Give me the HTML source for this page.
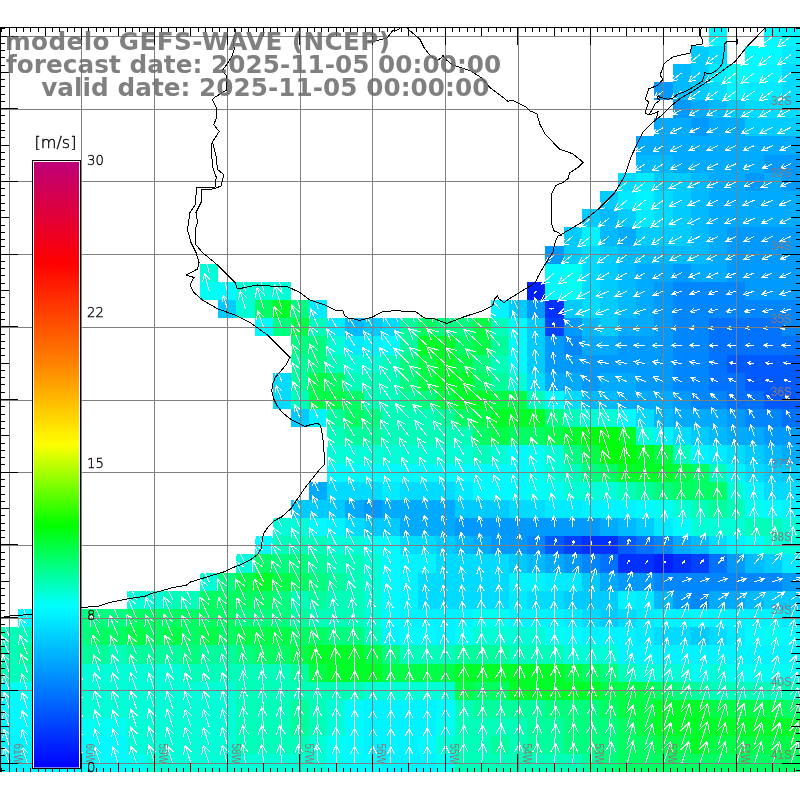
<!DOCTYPE html>
<html><head><meta charset="utf-8"><style>
html,body{margin:0;padding:0;background:#fff;width:800px;height:800px;overflow:hidden}
</style></head><body>
<svg width="800" height="800" viewBox="0 0 800 800" style="position:absolute;left:0;top:0"><g shape-rendering="crispEdges"><rect x="708.99" y="27.41" width="18.22" height="18.23" fill="#00f3ff"/><rect x="763.51" y="27.41" width="18.22" height="18.23" fill="#00faff"/><rect x="781.69" y="27.41" width="18.22" height="18.23" fill="#00f3ff"/><rect x="690.81" y="45.59" width="18.22" height="18.22" fill="#00cbff"/><rect x="708.99" y="45.59" width="18.22" height="18.22" fill="#00dbff"/><rect x="745.34" y="45.59" width="18.22" height="18.22" fill="#00faff"/><rect x="763.51" y="45.59" width="18.22" height="18.22" fill="#00faff"/><rect x="781.69" y="45.59" width="18.22" height="18.22" fill="#00ebff"/><rect x="672.64" y="63.76" width="18.22" height="18.22" fill="#00baff"/><rect x="690.81" y="63.76" width="18.22" height="18.22" fill="#00cbff"/><rect x="708.99" y="63.76" width="18.22" height="18.22" fill="#00ebff"/><rect x="727.16" y="63.76" width="18.22" height="18.22" fill="#00fff3"/><rect x="745.34" y="63.76" width="18.22" height="18.22" fill="#00faff"/><rect x="763.51" y="63.76" width="18.22" height="18.22" fill="#00f3ff"/><rect x="781.69" y="63.76" width="18.22" height="18.22" fill="#00dbff"/><rect x="654.46" y="81.94" width="18.22" height="18.22" fill="#009aff"/><rect x="672.64" y="81.94" width="18.22" height="18.22" fill="#00baff"/><rect x="690.81" y="81.94" width="18.22" height="18.22" fill="#00cbff"/><rect x="708.99" y="81.94" width="18.22" height="18.22" fill="#00dbff"/><rect x="727.16" y="81.94" width="18.22" height="18.22" fill="#00f3ff"/><rect x="745.34" y="81.94" width="18.22" height="18.22" fill="#00ebff"/><rect x="763.51" y="81.94" width="18.22" height="18.22" fill="#00ebff"/><rect x="781.69" y="81.94" width="18.22" height="18.22" fill="#00dbff"/><rect x="672.64" y="100.11" width="18.22" height="18.22" fill="#009aff"/><rect x="690.81" y="100.11" width="18.22" height="18.22" fill="#00aaff"/><rect x="708.99" y="100.11" width="18.22" height="18.22" fill="#00baff"/><rect x="727.16" y="100.11" width="18.22" height="18.22" fill="#00cbff"/><rect x="745.34" y="100.11" width="18.22" height="18.22" fill="#00dbff"/><rect x="763.51" y="100.11" width="18.22" height="18.22" fill="#00dbff"/><rect x="781.69" y="100.11" width="18.22" height="18.22" fill="#00dbff"/><rect x="654.46" y="118.29" width="18.22" height="18.23" fill="#00aaff"/><rect x="672.64" y="118.29" width="18.22" height="18.23" fill="#00aaff"/><rect x="690.81" y="118.29" width="18.22" height="18.23" fill="#009aff"/><rect x="708.99" y="118.29" width="18.22" height="18.23" fill="#00aaff"/><rect x="727.16" y="118.29" width="18.22" height="18.23" fill="#00aaff"/><rect x="745.34" y="118.29" width="18.22" height="18.23" fill="#00cbff"/><rect x="763.51" y="118.29" width="18.22" height="18.23" fill="#00cbff"/><rect x="781.69" y="118.29" width="18.22" height="18.23" fill="#00cbff"/><rect x="636.29" y="136.46" width="18.22" height="18.23" fill="#00aaff"/><rect x="654.46" y="136.46" width="18.22" height="18.23" fill="#00aaff"/><rect x="672.64" y="136.46" width="18.22" height="18.23" fill="#00aaff"/><rect x="690.81" y="136.46" width="18.22" height="18.23" fill="#00aaff"/><rect x="708.99" y="136.46" width="18.22" height="18.23" fill="#00aaff"/><rect x="727.16" y="136.46" width="18.22" height="18.23" fill="#00aaff"/><rect x="745.34" y="136.46" width="18.22" height="18.23" fill="#00aaff"/><rect x="763.51" y="136.46" width="18.22" height="18.23" fill="#00aaff"/><rect x="781.69" y="136.46" width="18.22" height="18.23" fill="#00aaff"/><rect x="636.29" y="154.64" width="18.22" height="18.23" fill="#00baff"/><rect x="654.46" y="154.64" width="18.22" height="18.23" fill="#00baff"/><rect x="672.64" y="154.64" width="18.22" height="18.23" fill="#00aaff"/><rect x="690.81" y="154.64" width="18.22" height="18.23" fill="#00aaff"/><rect x="708.99" y="154.64" width="18.22" height="18.23" fill="#00aaff"/><rect x="727.16" y="154.64" width="18.22" height="18.23" fill="#00aaff"/><rect x="745.34" y="154.64" width="18.22" height="18.23" fill="#00aaff"/><rect x="763.51" y="154.64" width="18.22" height="18.23" fill="#009aff"/><rect x="781.69" y="154.64" width="18.22" height="18.23" fill="#009aff"/><rect x="618.11" y="172.81" width="18.22" height="18.23" fill="#00dbff"/><rect x="636.29" y="172.81" width="18.22" height="18.23" fill="#00ebff"/><rect x="654.46" y="172.81" width="18.22" height="18.23" fill="#00cbff"/><rect x="672.64" y="172.81" width="18.22" height="18.23" fill="#00cbff"/><rect x="690.81" y="172.81" width="18.22" height="18.23" fill="#00baff"/><rect x="708.99" y="172.81" width="18.22" height="18.23" fill="#00aaff"/><rect x="727.16" y="172.81" width="18.22" height="18.23" fill="#00aaff"/><rect x="745.34" y="172.81" width="18.22" height="18.23" fill="#009aff"/><rect x="763.51" y="172.81" width="18.22" height="18.23" fill="#00aaff"/><rect x="781.69" y="172.81" width="18.22" height="18.23" fill="#009aff"/><rect x="599.94" y="190.99" width="18.22" height="18.23" fill="#00cbff"/><rect x="618.11" y="190.99" width="18.22" height="18.23" fill="#00ebff"/><rect x="636.29" y="190.99" width="18.22" height="18.23" fill="#00f3ff"/><rect x="654.46" y="190.99" width="18.22" height="18.23" fill="#00dbff"/><rect x="672.64" y="190.99" width="18.22" height="18.23" fill="#00cbff"/><rect x="690.81" y="190.99" width="18.22" height="18.23" fill="#00baff"/><rect x="708.99" y="190.99" width="18.22" height="18.23" fill="#00aaff"/><rect x="727.16" y="190.99" width="18.22" height="18.23" fill="#00aaff"/><rect x="745.34" y="190.99" width="18.22" height="18.23" fill="#00aaff"/><rect x="763.51" y="190.99" width="18.22" height="18.23" fill="#00aaff"/><rect x="781.69" y="190.99" width="18.22" height="18.23" fill="#00aaff"/><rect x="581.76" y="209.16" width="18.22" height="18.23" fill="#00cbff"/><rect x="599.94" y="209.16" width="18.22" height="18.23" fill="#00baff"/><rect x="618.11" y="209.16" width="18.22" height="18.23" fill="#00cbff"/><rect x="636.29" y="209.16" width="18.22" height="18.23" fill="#00ebff"/><rect x="654.46" y="209.16" width="18.22" height="18.23" fill="#00dbff"/><rect x="672.64" y="209.16" width="18.22" height="18.23" fill="#00cbff"/><rect x="690.81" y="209.16" width="18.22" height="18.23" fill="#00baff"/><rect x="708.99" y="209.16" width="18.22" height="18.23" fill="#00aaff"/><rect x="727.16" y="209.16" width="18.22" height="18.23" fill="#00aaff"/><rect x="745.34" y="209.16" width="18.22" height="18.23" fill="#00aaff"/><rect x="763.51" y="209.16" width="18.22" height="18.23" fill="#00aaff"/><rect x="781.69" y="209.16" width="18.22" height="18.23" fill="#00aaff"/><rect x="563.59" y="227.34" width="18.22" height="18.23" fill="#00cbff"/><rect x="581.76" y="227.34" width="18.22" height="18.23" fill="#00f3ff"/><rect x="599.94" y="227.34" width="18.22" height="18.23" fill="#00baff"/><rect x="618.11" y="227.34" width="18.22" height="18.23" fill="#00aaff"/><rect x="636.29" y="227.34" width="18.22" height="18.23" fill="#00cbff"/><rect x="654.46" y="227.34" width="18.22" height="18.23" fill="#00cbff"/><rect x="672.64" y="227.34" width="18.22" height="18.23" fill="#00cbff"/><rect x="690.81" y="227.34" width="18.22" height="18.23" fill="#00baff"/><rect x="708.99" y="227.34" width="18.22" height="18.23" fill="#00aaff"/><rect x="727.16" y="227.34" width="18.22" height="18.23" fill="#009aff"/><rect x="745.34" y="227.34" width="18.22" height="18.23" fill="#009aff"/><rect x="763.51" y="227.34" width="18.22" height="18.23" fill="#009aff"/><rect x="781.69" y="227.34" width="18.22" height="18.23" fill="#009aff"/><rect x="545.41" y="245.51" width="18.22" height="18.22" fill="#009aff"/><rect x="563.59" y="245.51" width="18.22" height="18.22" fill="#00cbff"/><rect x="581.76" y="245.51" width="18.22" height="18.22" fill="#00dbff"/><rect x="599.94" y="245.51" width="18.22" height="18.22" fill="#00cbff"/><rect x="618.11" y="245.51" width="18.22" height="18.22" fill="#00baff"/><rect x="636.29" y="245.51" width="18.22" height="18.22" fill="#00baff"/><rect x="654.46" y="245.51" width="18.22" height="18.22" fill="#00baff"/><rect x="672.64" y="245.51" width="18.22" height="18.22" fill="#00baff"/><rect x="690.81" y="245.51" width="18.22" height="18.22" fill="#00baff"/><rect x="708.99" y="245.51" width="18.22" height="18.22" fill="#00aaff"/><rect x="727.16" y="245.51" width="18.22" height="18.22" fill="#009aff"/><rect x="745.34" y="245.51" width="18.22" height="18.22" fill="#009aff"/><rect x="763.51" y="245.51" width="18.22" height="18.22" fill="#009aff"/><rect x="781.69" y="245.51" width="18.22" height="18.22" fill="#009aff"/><rect x="200.09" y="263.69" width="18.23" height="18.23" fill="#00ffd6"/><rect x="545.41" y="263.69" width="18.22" height="18.23" fill="#00faff"/><rect x="563.59" y="263.69" width="18.22" height="18.23" fill="#00fff3"/><rect x="581.76" y="263.69" width="18.22" height="18.23" fill="#00dbff"/><rect x="599.94" y="263.69" width="18.22" height="18.23" fill="#00cbff"/><rect x="618.11" y="263.69" width="18.22" height="18.23" fill="#00baff"/><rect x="636.29" y="263.69" width="18.22" height="18.23" fill="#00aaff"/><rect x="654.46" y="263.69" width="18.22" height="18.23" fill="#00aaff"/><rect x="672.64" y="263.69" width="18.22" height="18.23" fill="#009aff"/><rect x="690.81" y="263.69" width="18.22" height="18.23" fill="#00aaff"/><rect x="708.99" y="263.69" width="18.22" height="18.23" fill="#00aaff"/><rect x="727.16" y="263.69" width="18.22" height="18.23" fill="#009aff"/><rect x="745.34" y="263.69" width="18.22" height="18.23" fill="#009aff"/><rect x="763.51" y="263.69" width="18.22" height="18.23" fill="#009aff"/><rect x="781.69" y="263.69" width="18.22" height="18.23" fill="#009aff"/><rect x="200.09" y="281.86" width="18.23" height="18.23" fill="#00fff3"/><rect x="218.26" y="281.86" width="18.23" height="18.23" fill="#00faff"/><rect x="236.44" y="281.86" width="18.23" height="18.23" fill="#00ffd6"/><rect x="254.61" y="281.86" width="18.23" height="18.23" fill="#00ffd6"/><rect x="272.79" y="281.86" width="18.23" height="18.23" fill="#00ffd6"/><rect x="527.24" y="281.86" width="18.22" height="18.23" fill="#0021ff"/><rect x="545.41" y="281.86" width="18.22" height="18.23" fill="#00faff"/><rect x="563.59" y="281.86" width="18.22" height="18.23" fill="#00fff3"/><rect x="581.76" y="281.86" width="18.22" height="18.23" fill="#00dbff"/><rect x="599.94" y="281.86" width="18.22" height="18.23" fill="#00cbff"/><rect x="618.11" y="281.86" width="18.22" height="18.23" fill="#00baff"/><rect x="636.29" y="281.86" width="18.22" height="18.23" fill="#00aaff"/><rect x="654.46" y="281.86" width="18.22" height="18.23" fill="#009aff"/><rect x="672.64" y="281.86" width="18.22" height="18.23" fill="#0086ff"/><rect x="690.81" y="281.86" width="18.22" height="18.23" fill="#0086ff"/><rect x="708.99" y="281.86" width="18.22" height="18.23" fill="#0086ff"/><rect x="727.16" y="281.86" width="18.22" height="18.23" fill="#0086ff"/><rect x="745.34" y="281.86" width="18.22" height="18.23" fill="#009aff"/><rect x="763.51" y="281.86" width="18.22" height="18.23" fill="#009aff"/><rect x="781.69" y="281.86" width="18.22" height="18.23" fill="#009aff"/><rect x="218.26" y="300.04" width="18.23" height="18.23" fill="#00cbff"/><rect x="236.44" y="300.04" width="18.23" height="18.23" fill="#00ffd6"/><rect x="254.61" y="300.04" width="18.23" height="18.23" fill="#00ff63"/><rect x="272.79" y="300.04" width="18.23" height="18.23" fill="#00ff29"/><rect x="290.96" y="300.04" width="18.23" height="18.23" fill="#00ff7f"/><rect x="309.14" y="300.04" width="18.23" height="18.23" fill="#00ebff"/><rect x="490.89" y="300.04" width="18.23" height="18.23" fill="#00f3ff"/><rect x="509.06" y="300.04" width="18.23" height="18.23" fill="#00cbff"/><rect x="527.24" y="300.04" width="18.22" height="18.23" fill="#009aff"/><rect x="545.41" y="300.04" width="18.22" height="18.23" fill="#0031ff"/><rect x="563.59" y="300.04" width="18.22" height="18.23" fill="#00cbff"/><rect x="581.76" y="300.04" width="18.22" height="18.23" fill="#00dbff"/><rect x="599.94" y="300.04" width="18.22" height="18.23" fill="#00cbff"/><rect x="618.11" y="300.04" width="18.22" height="18.23" fill="#00baff"/><rect x="636.29" y="300.04" width="18.22" height="18.23" fill="#00aaff"/><rect x="654.46" y="300.04" width="18.22" height="18.23" fill="#009aff"/><rect x="672.64" y="300.04" width="18.22" height="18.23" fill="#0086ff"/><rect x="690.81" y="300.04" width="18.22" height="18.23" fill="#0086ff"/><rect x="708.99" y="300.04" width="18.22" height="18.23" fill="#0086ff"/><rect x="727.16" y="300.04" width="18.22" height="18.23" fill="#0086ff"/><rect x="745.34" y="300.04" width="18.22" height="18.23" fill="#0086ff"/><rect x="763.51" y="300.04" width="18.22" height="18.23" fill="#0086ff"/><rect x="781.69" y="300.04" width="18.22" height="18.23" fill="#0086ff"/><rect x="254.61" y="318.21" width="18.23" height="18.23" fill="#00faff"/><rect x="272.79" y="318.21" width="18.23" height="18.23" fill="#00ff7f"/><rect x="290.96" y="318.21" width="18.23" height="18.23" fill="#00ff46"/><rect x="309.14" y="318.21" width="18.23" height="18.23" fill="#00ffb9"/><rect x="327.31" y="318.21" width="18.23" height="18.23" fill="#00ebff"/><rect x="345.49" y="318.21" width="18.23" height="18.23" fill="#00baff"/><rect x="363.66" y="318.21" width="18.23" height="18.23" fill="#00cbff"/><rect x="381.84" y="318.21" width="18.23" height="18.23" fill="#00dbff"/><rect x="400.01" y="318.21" width="18.23" height="18.23" fill="#00ff9c"/><rect x="418.19" y="318.21" width="18.23" height="18.23" fill="#00ff63"/><rect x="436.36" y="318.21" width="18.23" height="18.23" fill="#00ff7f"/><rect x="454.54" y="318.21" width="18.23" height="18.23" fill="#00ff7f"/><rect x="472.71" y="318.21" width="18.23" height="18.23" fill="#00ff46"/><rect x="490.89" y="318.21" width="18.23" height="18.23" fill="#00ffb9"/><rect x="509.06" y="318.21" width="18.23" height="18.23" fill="#00faff"/><rect x="527.24" y="318.21" width="18.22" height="18.23" fill="#00cbff"/><rect x="545.41" y="318.21" width="18.22" height="18.23" fill="#0041ff"/><rect x="563.59" y="318.21" width="18.22" height="18.23" fill="#009aff"/><rect x="581.76" y="318.21" width="18.22" height="18.23" fill="#00baff"/><rect x="599.94" y="318.21" width="18.22" height="18.23" fill="#00cbff"/><rect x="618.11" y="318.21" width="18.22" height="18.23" fill="#00aaff"/><rect x="636.29" y="318.21" width="18.22" height="18.23" fill="#00aaff"/><rect x="654.46" y="318.21" width="18.22" height="18.23" fill="#009aff"/><rect x="672.64" y="318.21" width="18.22" height="18.23" fill="#0086ff"/><rect x="690.81" y="318.21" width="18.22" height="18.23" fill="#0086ff"/><rect x="708.99" y="318.21" width="18.22" height="18.23" fill="#0072ff"/><rect x="727.16" y="318.21" width="18.22" height="18.23" fill="#0072ff"/><rect x="745.34" y="318.21" width="18.22" height="18.23" fill="#0072ff"/><rect x="763.51" y="318.21" width="18.22" height="18.23" fill="#0072ff"/><rect x="781.69" y="318.21" width="18.22" height="18.23" fill="#0086ff"/><rect x="290.96" y="336.39" width="18.23" height="18.23" fill="#00ff7f"/><rect x="309.14" y="336.39" width="18.23" height="18.23" fill="#00ff7f"/><rect x="327.31" y="336.39" width="18.23" height="18.23" fill="#00ffd6"/><rect x="345.49" y="336.39" width="18.23" height="18.23" fill="#00ebff"/><rect x="363.66" y="336.39" width="18.23" height="18.23" fill="#00f3ff"/><rect x="381.84" y="336.39" width="18.23" height="18.23" fill="#00faff"/><rect x="400.01" y="336.39" width="18.23" height="18.23" fill="#00ff9c"/><rect x="418.19" y="336.39" width="18.23" height="18.23" fill="#00ff29"/><rect x="436.36" y="336.39" width="18.23" height="18.23" fill="#00ff29"/><rect x="454.54" y="336.39" width="18.23" height="18.23" fill="#00ff63"/><rect x="472.71" y="336.39" width="18.23" height="18.23" fill="#00ff46"/><rect x="490.89" y="336.39" width="18.23" height="18.23" fill="#00ff9c"/><rect x="509.06" y="336.39" width="18.23" height="18.23" fill="#00faff"/><rect x="527.24" y="336.39" width="18.22" height="18.23" fill="#00cbff"/><rect x="545.41" y="336.39" width="18.22" height="18.23" fill="#009aff"/><rect x="563.59" y="336.39" width="18.22" height="18.23" fill="#0086ff"/><rect x="581.76" y="336.39" width="18.22" height="18.23" fill="#00aaff"/><rect x="599.94" y="336.39" width="18.22" height="18.23" fill="#00aaff"/><rect x="618.11" y="336.39" width="18.22" height="18.23" fill="#009aff"/><rect x="636.29" y="336.39" width="18.22" height="18.23" fill="#009aff"/><rect x="654.46" y="336.39" width="18.22" height="18.23" fill="#009aff"/><rect x="672.64" y="336.39" width="18.22" height="18.23" fill="#0086ff"/><rect x="690.81" y="336.39" width="18.22" height="18.23" fill="#0086ff"/><rect x="708.99" y="336.39" width="18.22" height="18.23" fill="#0072ff"/><rect x="727.16" y="336.39" width="18.22" height="18.23" fill="#0072ff"/><rect x="745.34" y="336.39" width="18.22" height="18.23" fill="#0072ff"/><rect x="763.51" y="336.39" width="18.22" height="18.23" fill="#0072ff"/><rect x="781.69" y="336.39" width="18.22" height="18.23" fill="#0072ff"/><rect x="290.96" y="354.56" width="18.23" height="18.23" fill="#00ff9c"/><rect x="309.14" y="354.56" width="18.23" height="18.23" fill="#00ff7f"/><rect x="327.31" y="354.56" width="18.23" height="18.23" fill="#00ffb9"/><rect x="345.49" y="354.56" width="18.23" height="18.23" fill="#00ffd6"/><rect x="363.66" y="354.56" width="18.23" height="18.23" fill="#00ffd6"/><rect x="381.84" y="354.56" width="18.23" height="18.23" fill="#00ffb9"/><rect x="400.01" y="354.56" width="18.23" height="18.23" fill="#00ff7f"/><rect x="418.19" y="354.56" width="18.23" height="18.23" fill="#00ff46"/><rect x="436.36" y="354.56" width="18.23" height="18.23" fill="#00ff29"/><rect x="454.54" y="354.56" width="18.23" height="18.23" fill="#00ff46"/><rect x="472.71" y="354.56" width="18.23" height="18.23" fill="#00ff7f"/><rect x="490.89" y="354.56" width="18.23" height="18.23" fill="#00ffb9"/><rect x="509.06" y="354.56" width="18.23" height="18.23" fill="#00faff"/><rect x="527.24" y="354.56" width="18.22" height="18.23" fill="#00cbff"/><rect x="545.41" y="354.56" width="18.22" height="18.23" fill="#009aff"/><rect x="563.59" y="354.56" width="18.22" height="18.23" fill="#009aff"/><rect x="581.76" y="354.56" width="18.22" height="18.23" fill="#009aff"/><rect x="599.94" y="354.56" width="18.22" height="18.23" fill="#009aff"/><rect x="618.11" y="354.56" width="18.22" height="18.23" fill="#009aff"/><rect x="636.29" y="354.56" width="18.22" height="18.23" fill="#009aff"/><rect x="654.46" y="354.56" width="18.22" height="18.23" fill="#009aff"/><rect x="672.64" y="354.56" width="18.22" height="18.23" fill="#0086ff"/><rect x="690.81" y="354.56" width="18.22" height="18.23" fill="#0086ff"/><rect x="708.99" y="354.56" width="18.22" height="18.23" fill="#0072ff"/><rect x="727.16" y="354.56" width="18.22" height="18.23" fill="#005aff"/><rect x="745.34" y="354.56" width="18.22" height="18.23" fill="#005aff"/><rect x="763.51" y="354.56" width="18.22" height="18.23" fill="#005aff"/><rect x="781.69" y="354.56" width="18.22" height="18.23" fill="#005aff"/><rect x="272.79" y="372.74" width="18.23" height="18.23" fill="#00dbff"/><rect x="290.96" y="372.74" width="18.23" height="18.23" fill="#00ff9c"/><rect x="309.14" y="372.74" width="18.23" height="18.23" fill="#00ff46"/><rect x="327.31" y="372.74" width="18.23" height="18.23" fill="#00ff63"/><rect x="345.49" y="372.74" width="18.23" height="18.23" fill="#00ffb9"/><rect x="363.66" y="372.74" width="18.23" height="18.23" fill="#00ffb9"/><rect x="381.84" y="372.74" width="18.23" height="18.23" fill="#00ffb9"/><rect x="400.01" y="372.74" width="18.23" height="18.23" fill="#00ff7f"/><rect x="418.19" y="372.74" width="18.23" height="18.23" fill="#00ff46"/><rect x="436.36" y="372.74" width="18.23" height="18.23" fill="#00ff29"/><rect x="454.54" y="372.74" width="18.23" height="18.23" fill="#00ff29"/><rect x="472.71" y="372.74" width="18.23" height="18.23" fill="#00ff63"/><rect x="490.89" y="372.74" width="18.23" height="18.23" fill="#00ff9c"/><rect x="509.06" y="372.74" width="18.23" height="18.23" fill="#00ffd6"/><rect x="527.24" y="372.74" width="18.22" height="18.23" fill="#00dbff"/><rect x="545.41" y="372.74" width="18.22" height="18.23" fill="#00aaff"/><rect x="563.59" y="372.74" width="18.22" height="18.23" fill="#00aaff"/><rect x="581.76" y="372.74" width="18.22" height="18.23" fill="#009aff"/><rect x="599.94" y="372.74" width="18.22" height="18.23" fill="#00aaff"/><rect x="618.11" y="372.74" width="18.22" height="18.23" fill="#00aaff"/><rect x="636.29" y="372.74" width="18.22" height="18.23" fill="#009aff"/><rect x="654.46" y="372.74" width="18.22" height="18.23" fill="#009aff"/><rect x="672.64" y="372.74" width="18.22" height="18.23" fill="#0086ff"/><rect x="690.81" y="372.74" width="18.22" height="18.23" fill="#0086ff"/><rect x="708.99" y="372.74" width="18.22" height="18.23" fill="#0072ff"/><rect x="727.16" y="372.74" width="18.22" height="18.23" fill="#0072ff"/><rect x="745.34" y="372.74" width="18.22" height="18.23" fill="#005aff"/><rect x="763.51" y="372.74" width="18.22" height="18.23" fill="#005aff"/><rect x="781.69" y="372.74" width="18.22" height="18.23" fill="#005aff"/><rect x="272.79" y="390.91" width="18.23" height="18.23" fill="#00dbff"/><rect x="290.96" y="390.91" width="18.23" height="18.23" fill="#00ffb9"/><rect x="309.14" y="390.91" width="18.23" height="18.23" fill="#00ff46"/><rect x="327.31" y="390.91" width="18.23" height="18.23" fill="#00ff46"/><rect x="345.49" y="390.91" width="18.23" height="18.23" fill="#00ff63"/><rect x="363.66" y="390.91" width="18.23" height="18.23" fill="#00ffb9"/><rect x="381.84" y="390.91" width="18.23" height="18.23" fill="#00ffb9"/><rect x="400.01" y="390.91" width="18.23" height="18.23" fill="#00ff9c"/><rect x="418.19" y="390.91" width="18.23" height="18.23" fill="#00ff7f"/><rect x="436.36" y="390.91" width="18.23" height="18.23" fill="#00ff46"/><rect x="454.54" y="390.91" width="18.23" height="18.23" fill="#00ff29"/><rect x="472.71" y="390.91" width="18.23" height="18.23" fill="#00ff29"/><rect x="490.89" y="390.91" width="18.23" height="18.23" fill="#00ff46"/><rect x="509.06" y="390.91" width="18.23" height="18.23" fill="#00ff46"/><rect x="527.24" y="390.91" width="18.22" height="18.23" fill="#00ffb9"/><rect x="545.41" y="390.91" width="18.22" height="18.23" fill="#00faff"/><rect x="563.59" y="390.91" width="18.22" height="18.23" fill="#00dbff"/><rect x="581.76" y="390.91" width="18.22" height="18.23" fill="#00baff"/><rect x="599.94" y="390.91" width="18.22" height="18.23" fill="#00baff"/><rect x="618.11" y="390.91" width="18.22" height="18.23" fill="#00aaff"/><rect x="636.29" y="390.91" width="18.22" height="18.23" fill="#00aaff"/><rect x="654.46" y="390.91" width="18.22" height="18.23" fill="#00aaff"/><rect x="672.64" y="390.91" width="18.22" height="18.23" fill="#009aff"/><rect x="690.81" y="390.91" width="18.22" height="18.23" fill="#0086ff"/><rect x="708.99" y="390.91" width="18.22" height="18.23" fill="#0086ff"/><rect x="727.16" y="390.91" width="18.22" height="18.23" fill="#0072ff"/><rect x="745.34" y="390.91" width="18.22" height="18.23" fill="#0072ff"/><rect x="763.51" y="390.91" width="18.22" height="18.23" fill="#005aff"/><rect x="781.69" y="390.91" width="18.22" height="18.23" fill="#005aff"/><rect x="290.96" y="409.09" width="18.23" height="18.23" fill="#00cbff"/><rect x="309.14" y="409.09" width="18.23" height="18.23" fill="#00f3ff"/><rect x="327.31" y="409.09" width="18.23" height="18.23" fill="#00ff9c"/><rect x="345.49" y="409.09" width="18.23" height="18.23" fill="#00ff63"/><rect x="363.66" y="409.09" width="18.23" height="18.23" fill="#00ff7f"/><rect x="381.84" y="409.09" width="18.23" height="18.23" fill="#00ffb9"/><rect x="400.01" y="409.09" width="18.23" height="18.23" fill="#00ffb9"/><rect x="418.19" y="409.09" width="18.23" height="18.23" fill="#00ffb9"/><rect x="436.36" y="409.09" width="18.23" height="18.23" fill="#00ff9c"/><rect x="454.54" y="409.09" width="18.23" height="18.23" fill="#00ff63"/><rect x="472.71" y="409.09" width="18.23" height="18.23" fill="#00ff46"/><rect x="490.89" y="409.09" width="18.23" height="18.23" fill="#00ff29"/><rect x="509.06" y="409.09" width="18.23" height="18.23" fill="#00ff29"/><rect x="527.24" y="409.09" width="18.22" height="18.23" fill="#00ff29"/><rect x="545.41" y="409.09" width="18.22" height="18.23" fill="#00ff7f"/><rect x="563.59" y="409.09" width="18.22" height="18.23" fill="#00ffb9"/><rect x="581.76" y="409.09" width="18.22" height="18.23" fill="#00ffd6"/><rect x="599.94" y="409.09" width="18.22" height="18.23" fill="#00ffd6"/><rect x="618.11" y="409.09" width="18.22" height="18.23" fill="#00faff"/><rect x="636.29" y="409.09" width="18.22" height="18.23" fill="#00dbff"/><rect x="654.46" y="409.09" width="18.22" height="18.23" fill="#00baff"/><rect x="672.64" y="409.09" width="18.22" height="18.23" fill="#00aaff"/><rect x="690.81" y="409.09" width="18.22" height="18.23" fill="#00aaff"/><rect x="708.99" y="409.09" width="18.22" height="18.23" fill="#00aaff"/><rect x="727.16" y="409.09" width="18.22" height="18.23" fill="#009aff"/><rect x="745.34" y="409.09" width="18.22" height="18.23" fill="#0086ff"/><rect x="763.51" y="409.09" width="18.22" height="18.23" fill="#0086ff"/><rect x="781.69" y="409.09" width="18.22" height="18.23" fill="#0072ff"/><rect x="327.31" y="427.26" width="18.23" height="18.23" fill="#00ffb9"/><rect x="345.49" y="427.26" width="18.23" height="18.23" fill="#00ff9c"/><rect x="363.66" y="427.26" width="18.23" height="18.23" fill="#00ff9c"/><rect x="381.84" y="427.26" width="18.23" height="18.23" fill="#00ffb9"/><rect x="400.01" y="427.26" width="18.23" height="18.23" fill="#00ffb9"/><rect x="418.19" y="427.26" width="18.23" height="18.23" fill="#00ffb9"/><rect x="436.36" y="427.26" width="18.23" height="18.23" fill="#00ffb9"/><rect x="454.54" y="427.26" width="18.23" height="18.23" fill="#00ffb9"/><rect x="472.71" y="427.26" width="18.23" height="18.23" fill="#00ff63"/><rect x="490.89" y="427.26" width="18.23" height="18.23" fill="#00ff46"/><rect x="509.06" y="427.26" width="18.23" height="18.23" fill="#00ff63"/><rect x="527.24" y="427.26" width="18.22" height="18.23" fill="#00ff63"/><rect x="545.41" y="427.26" width="18.22" height="18.23" fill="#00ff46"/><rect x="563.59" y="427.26" width="18.22" height="18.23" fill="#00ff29"/><rect x="581.76" y="427.26" width="18.22" height="18.23" fill="#00ff0c"/><rect x="599.94" y="427.26" width="18.22" height="18.23" fill="#00ff0c"/><rect x="618.11" y="427.26" width="18.22" height="18.23" fill="#00ff29"/><rect x="636.29" y="427.26" width="18.22" height="18.23" fill="#00ffd6"/><rect x="654.46" y="427.26" width="18.22" height="18.23" fill="#00f3ff"/><rect x="672.64" y="427.26" width="18.22" height="18.23" fill="#00dbff"/><rect x="690.81" y="427.26" width="18.22" height="18.23" fill="#00cbff"/><rect x="708.99" y="427.26" width="18.22" height="18.23" fill="#00baff"/><rect x="727.16" y="427.26" width="18.22" height="18.23" fill="#00aaff"/><rect x="745.34" y="427.26" width="18.22" height="18.23" fill="#00aaff"/><rect x="763.51" y="427.26" width="18.22" height="18.23" fill="#009aff"/><rect x="781.69" y="427.26" width="18.22" height="18.23" fill="#009aff"/><rect x="327.31" y="445.44" width="18.23" height="18.23" fill="#00ffd6"/><rect x="345.49" y="445.44" width="18.23" height="18.23" fill="#00ffd6"/><rect x="363.66" y="445.44" width="18.23" height="18.23" fill="#00ffd6"/><rect x="381.84" y="445.44" width="18.23" height="18.23" fill="#00ffd6"/><rect x="400.01" y="445.44" width="18.23" height="18.23" fill="#00ffd6"/><rect x="418.19" y="445.44" width="18.23" height="18.23" fill="#00ffd6"/><rect x="436.36" y="445.44" width="18.23" height="18.23" fill="#00ffd6"/><rect x="454.54" y="445.44" width="18.23" height="18.23" fill="#00ffd6"/><rect x="472.71" y="445.44" width="18.23" height="18.23" fill="#00ffb9"/><rect x="490.89" y="445.44" width="18.23" height="18.23" fill="#00ffd6"/><rect x="509.06" y="445.44" width="18.23" height="18.23" fill="#00faff"/><rect x="527.24" y="445.44" width="18.22" height="18.23" fill="#00fff3"/><rect x="545.41" y="445.44" width="18.22" height="18.23" fill="#00ffd6"/><rect x="563.59" y="445.44" width="18.22" height="18.23" fill="#00ff7f"/><rect x="581.76" y="445.44" width="18.22" height="18.23" fill="#00ff46"/><rect x="599.94" y="445.44" width="18.22" height="18.23" fill="#00ff0c"/><rect x="618.11" y="445.44" width="18.22" height="18.23" fill="#00ff0c"/><rect x="636.29" y="445.44" width="18.22" height="18.23" fill="#00ff29"/><rect x="654.46" y="445.44" width="18.22" height="18.23" fill="#00ff46"/><rect x="672.64" y="445.44" width="18.22" height="18.23" fill="#00ffb9"/><rect x="690.81" y="445.44" width="18.22" height="18.23" fill="#00f3ff"/><rect x="708.99" y="445.44" width="18.22" height="18.23" fill="#00ebff"/><rect x="727.16" y="445.44" width="18.22" height="18.23" fill="#00dbff"/><rect x="745.34" y="445.44" width="18.22" height="18.23" fill="#00cbff"/><rect x="763.51" y="445.44" width="18.22" height="18.23" fill="#00baff"/><rect x="781.69" y="445.44" width="18.22" height="18.23" fill="#00aaff"/><rect x="327.31" y="463.61" width="18.23" height="18.23" fill="#00faff"/><rect x="345.49" y="463.61" width="18.23" height="18.23" fill="#00faff"/><rect x="363.66" y="463.61" width="18.23" height="18.23" fill="#00faff"/><rect x="381.84" y="463.61" width="18.23" height="18.23" fill="#00faff"/><rect x="400.01" y="463.61" width="18.23" height="18.23" fill="#00faff"/><rect x="418.19" y="463.61" width="18.23" height="18.23" fill="#00faff"/><rect x="436.36" y="463.61" width="18.23" height="18.23" fill="#00faff"/><rect x="454.54" y="463.61" width="18.23" height="18.23" fill="#00faff"/><rect x="472.71" y="463.61" width="18.23" height="18.23" fill="#00faff"/><rect x="490.89" y="463.61" width="18.23" height="18.23" fill="#00faff"/><rect x="509.06" y="463.61" width="18.23" height="18.23" fill="#00faff"/><rect x="527.24" y="463.61" width="18.22" height="18.23" fill="#00fff3"/><rect x="545.41" y="463.61" width="18.22" height="18.23" fill="#00ffd6"/><rect x="563.59" y="463.61" width="18.22" height="18.23" fill="#00ffb9"/><rect x="581.76" y="463.61" width="18.22" height="18.23" fill="#00ff7f"/><rect x="599.94" y="463.61" width="18.22" height="18.23" fill="#00ff63"/><rect x="618.11" y="463.61" width="18.22" height="18.23" fill="#00ff29"/><rect x="636.29" y="463.61" width="18.22" height="18.23" fill="#00ff29"/><rect x="654.46" y="463.61" width="18.22" height="18.23" fill="#00ff29"/><rect x="672.64" y="463.61" width="18.22" height="18.23" fill="#00ff46"/><rect x="690.81" y="463.61" width="18.22" height="18.23" fill="#00ff63"/><rect x="708.99" y="463.61" width="18.22" height="18.23" fill="#00ffb9"/><rect x="727.16" y="463.61" width="18.22" height="18.23" fill="#00f3ff"/><rect x="745.34" y="463.61" width="18.22" height="18.23" fill="#00dbff"/><rect x="763.51" y="463.61" width="18.22" height="18.23" fill="#00cbff"/><rect x="781.69" y="463.61" width="18.22" height="18.23" fill="#00cbff"/><rect x="309.14" y="481.79" width="18.23" height="18.23" fill="#00aaff"/><rect x="327.31" y="481.79" width="18.23" height="18.23" fill="#00dbff"/><rect x="345.49" y="481.79" width="18.23" height="18.23" fill="#00dbff"/><rect x="363.66" y="481.79" width="18.23" height="18.23" fill="#00dbff"/><rect x="381.84" y="481.79" width="18.23" height="18.23" fill="#00ebff"/><rect x="400.01" y="481.79" width="18.23" height="18.23" fill="#00dbff"/><rect x="418.19" y="481.79" width="18.23" height="18.23" fill="#00dbff"/><rect x="436.36" y="481.79" width="18.23" height="18.23" fill="#00dbff"/><rect x="454.54" y="481.79" width="18.23" height="18.23" fill="#00ebff"/><rect x="472.71" y="481.79" width="18.23" height="18.23" fill="#00faff"/><rect x="490.89" y="481.79" width="18.23" height="18.23" fill="#00faff"/><rect x="509.06" y="481.79" width="18.23" height="18.23" fill="#00faff"/><rect x="527.24" y="481.79" width="18.22" height="18.23" fill="#00fff3"/><rect x="545.41" y="481.79" width="18.22" height="18.23" fill="#00fff3"/><rect x="563.59" y="481.79" width="18.22" height="18.23" fill="#00ffd6"/><rect x="581.76" y="481.79" width="18.22" height="18.23" fill="#00ffd6"/><rect x="599.94" y="481.79" width="18.22" height="18.23" fill="#00ffd6"/><rect x="618.11" y="481.79" width="18.22" height="18.23" fill="#00ffb9"/><rect x="636.29" y="481.79" width="18.22" height="18.23" fill="#00ff9c"/><rect x="654.46" y="481.79" width="18.22" height="18.23" fill="#00ff7f"/><rect x="672.64" y="481.79" width="18.22" height="18.23" fill="#00ff63"/><rect x="690.81" y="481.79" width="18.22" height="18.23" fill="#00ff63"/><rect x="708.99" y="481.79" width="18.22" height="18.23" fill="#00ff63"/><rect x="727.16" y="481.79" width="18.22" height="18.23" fill="#00ffd6"/><rect x="745.34" y="481.79" width="18.22" height="18.23" fill="#00f3ff"/><rect x="763.51" y="481.79" width="18.22" height="18.23" fill="#00dbff"/><rect x="781.69" y="481.79" width="18.22" height="18.23" fill="#00dbff"/><rect x="290.96" y="499.96" width="18.23" height="18.23" fill="#00cbff"/><rect x="309.14" y="499.96" width="18.23" height="18.23" fill="#00cbff"/><rect x="327.31" y="499.96" width="18.23" height="18.23" fill="#00cbff"/><rect x="345.49" y="499.96" width="18.23" height="18.23" fill="#00aaff"/><rect x="363.66" y="499.96" width="18.23" height="18.23" fill="#009aff"/><rect x="381.84" y="499.96" width="18.23" height="18.23" fill="#00aaff"/><rect x="400.01" y="499.96" width="18.23" height="18.23" fill="#00aaff"/><rect x="418.19" y="499.96" width="18.23" height="18.23" fill="#00aaff"/><rect x="436.36" y="499.96" width="18.23" height="18.23" fill="#00aaff"/><rect x="454.54" y="499.96" width="18.23" height="18.23" fill="#00cbff"/><rect x="472.71" y="499.96" width="18.23" height="18.23" fill="#00cbff"/><rect x="490.89" y="499.96" width="18.23" height="18.23" fill="#00cbff"/><rect x="509.06" y="499.96" width="18.23" height="18.23" fill="#00dbff"/><rect x="527.24" y="499.96" width="18.22" height="18.23" fill="#00dbff"/><rect x="545.41" y="499.96" width="18.22" height="18.23" fill="#00ebff"/><rect x="563.59" y="499.96" width="18.22" height="18.23" fill="#00ebff"/><rect x="581.76" y="499.96" width="18.22" height="18.23" fill="#00f3ff"/><rect x="599.94" y="499.96" width="18.22" height="18.23" fill="#00f3ff"/><rect x="618.11" y="499.96" width="18.22" height="18.23" fill="#00f3ff"/><rect x="636.29" y="499.96" width="18.22" height="18.23" fill="#00faff"/><rect x="654.46" y="499.96" width="18.22" height="18.23" fill="#00fff3"/><rect x="672.64" y="499.96" width="18.22" height="18.23" fill="#00ffd6"/><rect x="690.81" y="499.96" width="18.22" height="18.23" fill="#00ffb9"/><rect x="708.99" y="499.96" width="18.22" height="18.23" fill="#00ff9c"/><rect x="727.16" y="499.96" width="18.22" height="18.23" fill="#00ffb9"/><rect x="745.34" y="499.96" width="18.22" height="18.23" fill="#00fff3"/><rect x="763.51" y="499.96" width="18.22" height="18.23" fill="#00faff"/><rect x="781.69" y="499.96" width="18.22" height="18.23" fill="#00f3ff"/><rect x="272.79" y="518.14" width="18.23" height="18.22" fill="#00ffd6"/><rect x="290.96" y="518.14" width="18.23" height="18.22" fill="#00ffd6"/><rect x="309.14" y="518.14" width="18.23" height="18.22" fill="#00faff"/><rect x="327.31" y="518.14" width="18.23" height="18.22" fill="#00f3ff"/><rect x="345.49" y="518.14" width="18.23" height="18.22" fill="#00dbff"/><rect x="363.66" y="518.14" width="18.23" height="18.22" fill="#00cbff"/><rect x="381.84" y="518.14" width="18.23" height="18.22" fill="#00cbff"/><rect x="400.01" y="518.14" width="18.23" height="18.22" fill="#00aaff"/><rect x="418.19" y="518.14" width="18.23" height="18.22" fill="#00aaff"/><rect x="436.36" y="518.14" width="18.23" height="18.22" fill="#00aaff"/><rect x="454.54" y="518.14" width="18.23" height="18.22" fill="#009aff"/><rect x="472.71" y="518.14" width="18.23" height="18.22" fill="#009aff"/><rect x="490.89" y="518.14" width="18.23" height="18.22" fill="#009aff"/><rect x="509.06" y="518.14" width="18.23" height="18.22" fill="#009aff"/><rect x="527.24" y="518.14" width="18.22" height="18.22" fill="#009aff"/><rect x="545.41" y="518.14" width="18.22" height="18.22" fill="#009aff"/><rect x="563.59" y="518.14" width="18.22" height="18.22" fill="#009aff"/><rect x="581.76" y="518.14" width="18.22" height="18.22" fill="#009aff"/><rect x="599.94" y="518.14" width="18.22" height="18.22" fill="#00aaff"/><rect x="618.11" y="518.14" width="18.22" height="18.22" fill="#00baff"/><rect x="636.29" y="518.14" width="18.22" height="18.22" fill="#00cbff"/><rect x="654.46" y="518.14" width="18.22" height="18.22" fill="#00ebff"/><rect x="672.64" y="518.14" width="18.22" height="18.22" fill="#00faff"/><rect x="690.81" y="518.14" width="18.22" height="18.22" fill="#00ffd6"/><rect x="708.99" y="518.14" width="18.22" height="18.22" fill="#00ffd6"/><rect x="727.16" y="518.14" width="18.22" height="18.22" fill="#00ffd6"/><rect x="745.34" y="518.14" width="18.22" height="18.22" fill="#00ffb9"/><rect x="763.51" y="518.14" width="18.22" height="18.22" fill="#00ffb9"/><rect x="781.69" y="518.14" width="18.22" height="18.22" fill="#00ffd6"/><rect x="254.61" y="536.31" width="18.23" height="18.22" fill="#00faff"/><rect x="272.79" y="536.31" width="18.23" height="18.22" fill="#00ffb9"/><rect x="290.96" y="536.31" width="18.23" height="18.22" fill="#00ffb9"/><rect x="309.14" y="536.31" width="18.23" height="18.22" fill="#00ffb9"/><rect x="327.31" y="536.31" width="18.23" height="18.22" fill="#00ffd6"/><rect x="345.49" y="536.31" width="18.23" height="18.22" fill="#00ffd6"/><rect x="363.66" y="536.31" width="18.23" height="18.22" fill="#00fff3"/><rect x="381.84" y="536.31" width="18.23" height="18.22" fill="#00faff"/><rect x="400.01" y="536.31" width="18.23" height="18.22" fill="#00dbff"/><rect x="418.19" y="536.31" width="18.23" height="18.22" fill="#00dbff"/><rect x="436.36" y="536.31" width="18.23" height="18.22" fill="#00cbff"/><rect x="454.54" y="536.31" width="18.23" height="18.22" fill="#00baff"/><rect x="472.71" y="536.31" width="18.23" height="18.22" fill="#00aaff"/><rect x="490.89" y="536.31" width="18.23" height="18.22" fill="#009aff"/><rect x="509.06" y="536.31" width="18.23" height="18.22" fill="#009aff"/><rect x="527.24" y="536.31" width="18.22" height="18.22" fill="#0086ff"/><rect x="545.41" y="536.31" width="18.22" height="18.22" fill="#005aff"/><rect x="563.59" y="536.31" width="18.22" height="18.22" fill="#0041ff"/><rect x="581.76" y="536.31" width="18.22" height="18.22" fill="#0031ff"/><rect x="599.94" y="536.31" width="18.22" height="18.22" fill="#0031ff"/><rect x="618.11" y="536.31" width="18.22" height="18.22" fill="#005aff"/><rect x="636.29" y="536.31" width="18.22" height="18.22" fill="#0072ff"/><rect x="654.46" y="536.31" width="18.22" height="18.22" fill="#0086ff"/><rect x="672.64" y="536.31" width="18.22" height="18.22" fill="#00aaff"/><rect x="690.81" y="536.31" width="18.22" height="18.22" fill="#00baff"/><rect x="708.99" y="536.31" width="18.22" height="18.22" fill="#00dbff"/><rect x="727.16" y="536.31" width="18.22" height="18.22" fill="#00f3ff"/><rect x="745.34" y="536.31" width="18.22" height="18.22" fill="#00fff3"/><rect x="763.51" y="536.31" width="18.22" height="18.22" fill="#00ffd6"/><rect x="781.69" y="536.31" width="18.22" height="18.22" fill="#00ffd6"/><rect x="236.44" y="554.49" width="18.23" height="18.22" fill="#00ffd6"/><rect x="254.61" y="554.49" width="18.23" height="18.22" fill="#00ff63"/><rect x="272.79" y="554.49" width="18.23" height="18.22" fill="#00ff7f"/><rect x="290.96" y="554.49" width="18.23" height="18.22" fill="#00ff7f"/><rect x="309.14" y="554.49" width="18.23" height="18.22" fill="#00ff9c"/><rect x="327.31" y="554.49" width="18.23" height="18.22" fill="#00ffb9"/><rect x="345.49" y="554.49" width="18.23" height="18.22" fill="#00ffb9"/><rect x="363.66" y="554.49" width="18.23" height="18.22" fill="#00ffd6"/><rect x="381.84" y="554.49" width="18.23" height="18.22" fill="#00faff"/><rect x="400.01" y="554.49" width="18.23" height="18.22" fill="#00f3ff"/><rect x="418.19" y="554.49" width="18.23" height="18.22" fill="#00f3ff"/><rect x="436.36" y="554.49" width="18.23" height="18.22" fill="#00dbff"/><rect x="454.54" y="554.49" width="18.23" height="18.22" fill="#00dbff"/><rect x="472.71" y="554.49" width="18.23" height="18.22" fill="#00dbff"/><rect x="490.89" y="554.49" width="18.23" height="18.22" fill="#00dbff"/><rect x="509.06" y="554.49" width="18.23" height="18.22" fill="#00cbff"/><rect x="527.24" y="554.49" width="18.22" height="18.22" fill="#00baff"/><rect x="545.41" y="554.49" width="18.22" height="18.22" fill="#00aaff"/><rect x="563.59" y="554.49" width="18.22" height="18.22" fill="#009aff"/><rect x="581.76" y="554.49" width="18.22" height="18.22" fill="#0086ff"/><rect x="599.94" y="554.49" width="18.22" height="18.22" fill="#0072ff"/><rect x="618.11" y="554.49" width="18.22" height="18.22" fill="#0031ff"/><rect x="636.29" y="554.49" width="18.22" height="18.22" fill="#0031ff"/><rect x="654.46" y="554.49" width="18.22" height="18.22" fill="#0021ff"/><rect x="672.64" y="554.49" width="18.22" height="18.22" fill="#0031ff"/><rect x="690.81" y="554.49" width="18.22" height="18.22" fill="#0041ff"/><rect x="708.99" y="554.49" width="18.22" height="18.22" fill="#0072ff"/><rect x="727.16" y="554.49" width="18.22" height="18.22" fill="#009aff"/><rect x="745.34" y="554.49" width="18.22" height="18.22" fill="#00baff"/><rect x="763.51" y="554.49" width="18.22" height="18.22" fill="#00cbff"/><rect x="781.69" y="554.49" width="18.22" height="18.22" fill="#00ebff"/><rect x="200.09" y="572.66" width="18.23" height="18.22" fill="#00ffd6"/><rect x="218.26" y="572.66" width="18.23" height="18.22" fill="#00ff7f"/><rect x="236.44" y="572.66" width="18.23" height="18.22" fill="#00ff46"/><rect x="254.61" y="572.66" width="18.23" height="18.22" fill="#00ff29"/><rect x="272.79" y="572.66" width="18.23" height="18.22" fill="#00ff46"/><rect x="290.96" y="572.66" width="18.23" height="18.22" fill="#00ff63"/><rect x="309.14" y="572.66" width="18.23" height="18.22" fill="#00ff7f"/><rect x="327.31" y="572.66" width="18.23" height="18.22" fill="#00ff9c"/><rect x="345.49" y="572.66" width="18.23" height="18.22" fill="#00ffb9"/><rect x="363.66" y="572.66" width="18.23" height="18.22" fill="#00ffd6"/><rect x="381.84" y="572.66" width="18.23" height="18.22" fill="#00faff"/><rect x="400.01" y="572.66" width="18.23" height="18.22" fill="#00f3ff"/><rect x="418.19" y="572.66" width="18.23" height="18.22" fill="#00dbff"/><rect x="436.36" y="572.66" width="18.23" height="18.22" fill="#00dbff"/><rect x="454.54" y="572.66" width="18.23" height="18.22" fill="#00dbff"/><rect x="472.71" y="572.66" width="18.23" height="18.22" fill="#00dbff"/><rect x="490.89" y="572.66" width="18.23" height="18.22" fill="#00dbff"/><rect x="509.06" y="572.66" width="18.23" height="18.22" fill="#00f3ff"/><rect x="527.24" y="572.66" width="18.22" height="18.22" fill="#00f3ff"/><rect x="545.41" y="572.66" width="18.22" height="18.22" fill="#00ebff"/><rect x="563.59" y="572.66" width="18.22" height="18.22" fill="#00ebff"/><rect x="581.76" y="572.66" width="18.22" height="18.22" fill="#00cbff"/><rect x="599.94" y="572.66" width="18.22" height="18.22" fill="#00aaff"/><rect x="618.11" y="572.66" width="18.22" height="18.22" fill="#009aff"/><rect x="636.29" y="572.66" width="18.22" height="18.22" fill="#009aff"/><rect x="654.46" y="572.66" width="18.22" height="18.22" fill="#0086ff"/><rect x="672.64" y="572.66" width="18.22" height="18.22" fill="#0086ff"/><rect x="690.81" y="572.66" width="18.22" height="18.22" fill="#0086ff"/><rect x="708.99" y="572.66" width="18.22" height="18.22" fill="#0086ff"/><rect x="727.16" y="572.66" width="18.22" height="18.22" fill="#0086ff"/><rect x="745.34" y="572.66" width="18.22" height="18.22" fill="#0086ff"/><rect x="763.51" y="572.66" width="18.22" height="18.22" fill="#0086ff"/><rect x="781.69" y="572.66" width="18.22" height="18.22" fill="#009aff"/><rect x="127.39" y="590.84" width="18.22" height="18.22" fill="#00ffd6"/><rect x="145.56" y="590.84" width="18.23" height="18.22" fill="#00ffd6"/><rect x="163.74" y="590.84" width="18.23" height="18.22" fill="#00ffb9"/><rect x="181.91" y="590.84" width="18.23" height="18.22" fill="#00ffb9"/><rect x="200.09" y="590.84" width="18.23" height="18.22" fill="#00ff63"/><rect x="218.26" y="590.84" width="18.23" height="18.22" fill="#00ff63"/><rect x="236.44" y="590.84" width="18.23" height="18.22" fill="#00ff63"/><rect x="254.61" y="590.84" width="18.23" height="18.22" fill="#00ff63"/><rect x="272.79" y="590.84" width="18.23" height="18.22" fill="#00ff7f"/><rect x="290.96" y="590.84" width="18.23" height="18.22" fill="#00ffb9"/><rect x="309.14" y="590.84" width="18.23" height="18.22" fill="#00ff9c"/><rect x="327.31" y="590.84" width="18.23" height="18.22" fill="#00ffb9"/><rect x="345.49" y="590.84" width="18.23" height="18.22" fill="#00ffb9"/><rect x="363.66" y="590.84" width="18.23" height="18.22" fill="#00ffd6"/><rect x="381.84" y="590.84" width="18.23" height="18.22" fill="#00faff"/><rect x="400.01" y="590.84" width="18.23" height="18.22" fill="#00f3ff"/><rect x="418.19" y="590.84" width="18.23" height="18.22" fill="#00dbff"/><rect x="436.36" y="590.84" width="18.23" height="18.22" fill="#00dbff"/><rect x="454.54" y="590.84" width="18.23" height="18.22" fill="#00dbff"/><rect x="472.71" y="590.84" width="18.23" height="18.22" fill="#00dbff"/><rect x="490.89" y="590.84" width="18.23" height="18.22" fill="#00dbff"/><rect x="509.06" y="590.84" width="18.23" height="18.22" fill="#00ebff"/><rect x="527.24" y="590.84" width="18.22" height="18.22" fill="#00dbff"/><rect x="545.41" y="590.84" width="18.22" height="18.22" fill="#00dbff"/><rect x="563.59" y="590.84" width="18.22" height="18.22" fill="#00cbff"/><rect x="581.76" y="590.84" width="18.22" height="18.22" fill="#00cbff"/><rect x="599.94" y="590.84" width="18.22" height="18.22" fill="#00cbff"/><rect x="618.11" y="590.84" width="18.22" height="18.22" fill="#00f3ff"/><rect x="636.29" y="590.84" width="18.22" height="18.22" fill="#00ebff"/><rect x="654.46" y="590.84" width="18.22" height="18.22" fill="#00baff"/><rect x="672.64" y="590.84" width="18.22" height="18.22" fill="#009aff"/><rect x="690.81" y="590.84" width="18.22" height="18.22" fill="#0086ff"/><rect x="708.99" y="590.84" width="18.22" height="18.22" fill="#00aaff"/><rect x="727.16" y="590.84" width="18.22" height="18.22" fill="#00aaff"/><rect x="745.34" y="590.84" width="18.22" height="18.22" fill="#00baff"/><rect x="763.51" y="590.84" width="18.22" height="18.22" fill="#00cbff"/><rect x="781.69" y="590.84" width="18.22" height="18.22" fill="#00cbff"/><rect x="18.34" y="609.01" width="18.23" height="18.22" fill="#00faff"/><rect x="36.51" y="609.01" width="18.22" height="18.22" fill="#00ff7f"/><rect x="54.69" y="609.01" width="18.23" height="18.22" fill="#00ff7f"/><rect x="72.86" y="609.01" width="18.22" height="18.22" fill="#00ff7f"/><rect x="91.04" y="609.01" width="18.22" height="18.22" fill="#00ff7f"/><rect x="109.21" y="609.01" width="18.22" height="18.22" fill="#00ff7f"/><rect x="127.39" y="609.01" width="18.22" height="18.22" fill="#00ff63"/><rect x="145.56" y="609.01" width="18.23" height="18.22" fill="#00ff63"/><rect x="163.74" y="609.01" width="18.23" height="18.22" fill="#00ff63"/><rect x="181.91" y="609.01" width="18.23" height="18.22" fill="#00ff63"/><rect x="200.09" y="609.01" width="18.23" height="18.22" fill="#00ff63"/><rect x="218.26" y="609.01" width="18.23" height="18.22" fill="#00ff63"/><rect x="236.44" y="609.01" width="18.23" height="18.22" fill="#00ff7f"/><rect x="254.61" y="609.01" width="18.23" height="18.22" fill="#00ff7f"/><rect x="272.79" y="609.01" width="18.23" height="18.22" fill="#00ff7f"/><rect x="290.96" y="609.01" width="18.23" height="18.22" fill="#00ff9c"/><rect x="309.14" y="609.01" width="18.23" height="18.22" fill="#00ffb9"/><rect x="327.31" y="609.01" width="18.23" height="18.22" fill="#00ffb9"/><rect x="345.49" y="609.01" width="18.23" height="18.22" fill="#00ffb9"/><rect x="363.66" y="609.01" width="18.23" height="18.22" fill="#00ffd6"/><rect x="381.84" y="609.01" width="18.23" height="18.22" fill="#00faff"/><rect x="400.01" y="609.01" width="18.23" height="18.22" fill="#00f3ff"/><rect x="418.19" y="609.01" width="18.23" height="18.22" fill="#00f3ff"/><rect x="436.36" y="609.01" width="18.23" height="18.22" fill="#00f3ff"/><rect x="454.54" y="609.01" width="18.23" height="18.22" fill="#00f3ff"/><rect x="472.71" y="609.01" width="18.23" height="18.22" fill="#00fff3"/><rect x="490.89" y="609.01" width="18.23" height="18.22" fill="#00fff3"/><rect x="509.06" y="609.01" width="18.23" height="18.22" fill="#00f3ff"/><rect x="527.24" y="609.01" width="18.22" height="18.22" fill="#00f3ff"/><rect x="545.41" y="609.01" width="18.22" height="18.22" fill="#00f3ff"/><rect x="563.59" y="609.01" width="18.22" height="18.22" fill="#00ebff"/><rect x="581.76" y="609.01" width="18.22" height="18.22" fill="#00dbff"/><rect x="599.94" y="609.01" width="18.22" height="18.22" fill="#00cbff"/><rect x="618.11" y="609.01" width="18.22" height="18.22" fill="#00dbff"/><rect x="636.29" y="609.01" width="18.22" height="18.22" fill="#00ebff"/><rect x="654.46" y="609.01" width="18.22" height="18.22" fill="#00f3ff"/><rect x="672.64" y="609.01" width="18.22" height="18.22" fill="#00f3ff"/><rect x="690.81" y="609.01" width="18.22" height="18.22" fill="#00faff"/><rect x="708.99" y="609.01" width="18.22" height="18.22" fill="#00f3ff"/><rect x="727.16" y="609.01" width="18.22" height="18.22" fill="#00f3ff"/><rect x="745.34" y="609.01" width="18.22" height="18.22" fill="#00f3ff"/><rect x="763.51" y="609.01" width="18.22" height="18.22" fill="#00f3ff"/><rect x="781.69" y="609.01" width="18.22" height="18.22" fill="#00ebff"/><rect x="0.16" y="627.19" width="18.22" height="18.22" fill="#00ffb9"/><rect x="18.34" y="627.19" width="18.23" height="18.22" fill="#00ffb9"/><rect x="36.51" y="627.19" width="18.22" height="18.22" fill="#00ff7f"/><rect x="54.69" y="627.19" width="18.23" height="18.22" fill="#00ff7f"/><rect x="72.86" y="627.19" width="18.22" height="18.22" fill="#00ff7f"/><rect x="91.04" y="627.19" width="18.22" height="18.22" fill="#00ff63"/><rect x="109.21" y="627.19" width="18.22" height="18.22" fill="#00ff63"/><rect x="127.39" y="627.19" width="18.22" height="18.22" fill="#00ff46"/><rect x="145.56" y="627.19" width="18.23" height="18.22" fill="#00ff63"/><rect x="163.74" y="627.19" width="18.23" height="18.22" fill="#00ff46"/><rect x="181.91" y="627.19" width="18.23" height="18.22" fill="#00ff63"/><rect x="200.09" y="627.19" width="18.23" height="18.22" fill="#00ff46"/><rect x="218.26" y="627.19" width="18.23" height="18.22" fill="#00ff63"/><rect x="236.44" y="627.19" width="18.23" height="18.22" fill="#00ff46"/><rect x="254.61" y="627.19" width="18.23" height="18.22" fill="#00ff46"/><rect x="272.79" y="627.19" width="18.23" height="18.22" fill="#00ff46"/><rect x="290.96" y="627.19" width="18.23" height="18.22" fill="#00ff63"/><rect x="309.14" y="627.19" width="18.23" height="18.22" fill="#00ff63"/><rect x="327.31" y="627.19" width="18.23" height="18.22" fill="#00ff7f"/><rect x="345.49" y="627.19" width="18.23" height="18.22" fill="#00ff7f"/><rect x="363.66" y="627.19" width="18.23" height="18.22" fill="#00ffb9"/><rect x="381.84" y="627.19" width="18.23" height="18.22" fill="#00f3ff"/><rect x="400.01" y="627.19" width="18.23" height="18.22" fill="#00faff"/><rect x="418.19" y="627.19" width="18.23" height="18.22" fill="#00faff"/><rect x="436.36" y="627.19" width="18.23" height="18.22" fill="#00f3ff"/><rect x="454.54" y="627.19" width="18.23" height="18.22" fill="#00fff3"/><rect x="472.71" y="627.19" width="18.23" height="18.22" fill="#00ffd6"/><rect x="490.89" y="627.19" width="18.23" height="18.22" fill="#00ffd6"/><rect x="509.06" y="627.19" width="18.23" height="18.22" fill="#00ffd6"/><rect x="527.24" y="627.19" width="18.22" height="18.22" fill="#00ffd6"/><rect x="545.41" y="627.19" width="18.22" height="18.22" fill="#00fff3"/><rect x="563.59" y="627.19" width="18.22" height="18.22" fill="#00faff"/><rect x="581.76" y="627.19" width="18.22" height="18.22" fill="#00f3ff"/><rect x="599.94" y="627.19" width="18.22" height="18.22" fill="#00f3ff"/><rect x="618.11" y="627.19" width="18.22" height="18.22" fill="#00f3ff"/><rect x="636.29" y="627.19" width="18.22" height="18.22" fill="#00ebff"/><rect x="654.46" y="627.19" width="18.22" height="18.22" fill="#00dbff"/><rect x="672.64" y="627.19" width="18.22" height="18.22" fill="#00dbff"/><rect x="690.81" y="627.19" width="18.22" height="18.22" fill="#00cbff"/><rect x="708.99" y="627.19" width="18.22" height="18.22" fill="#00dbff"/><rect x="727.16" y="627.19" width="18.22" height="18.22" fill="#00ebff"/><rect x="745.34" y="627.19" width="18.22" height="18.22" fill="#00faff"/><rect x="763.51" y="627.19" width="18.22" height="18.22" fill="#00fff3"/><rect x="781.69" y="627.19" width="18.22" height="18.22" fill="#00faff"/><rect x="0.16" y="645.36" width="18.22" height="18.22" fill="#00ffb9"/><rect x="18.34" y="645.36" width="18.23" height="18.22" fill="#00ff9c"/><rect x="36.51" y="645.36" width="18.22" height="18.22" fill="#00ff9c"/><rect x="54.69" y="645.36" width="18.23" height="18.22" fill="#00ff9c"/><rect x="72.86" y="645.36" width="18.22" height="18.22" fill="#00ff9c"/><rect x="91.04" y="645.36" width="18.22" height="18.22" fill="#00ff9c"/><rect x="109.21" y="645.36" width="18.22" height="18.22" fill="#00ffb9"/><rect x="127.39" y="645.36" width="18.22" height="18.22" fill="#00ff9c"/><rect x="145.56" y="645.36" width="18.23" height="18.22" fill="#00ff9c"/><rect x="163.74" y="645.36" width="18.23" height="18.22" fill="#00ff9c"/><rect x="181.91" y="645.36" width="18.23" height="18.22" fill="#00ff7f"/><rect x="200.09" y="645.36" width="18.23" height="18.22" fill="#00ff9c"/><rect x="218.26" y="645.36" width="18.23" height="18.22" fill="#00ff9c"/><rect x="236.44" y="645.36" width="18.23" height="18.22" fill="#00ff7f"/><rect x="254.61" y="645.36" width="18.23" height="18.22" fill="#00ff63"/><rect x="272.79" y="645.36" width="18.23" height="18.22" fill="#00ff63"/><rect x="290.96" y="645.36" width="18.23" height="18.22" fill="#00ff46"/><rect x="309.14" y="645.36" width="18.23" height="18.22" fill="#00ff29"/><rect x="327.31" y="645.36" width="18.23" height="18.22" fill="#00ff29"/><rect x="345.49" y="645.36" width="18.23" height="18.22" fill="#00ff29"/><rect x="363.66" y="645.36" width="18.23" height="18.22" fill="#00ff46"/><rect x="381.84" y="645.36" width="18.23" height="18.22" fill="#00ff7f"/><rect x="400.01" y="645.36" width="18.23" height="18.22" fill="#00ffb9"/><rect x="418.19" y="645.36" width="18.23" height="18.22" fill="#00ffb9"/><rect x="436.36" y="645.36" width="18.23" height="18.22" fill="#00ffb9"/><rect x="454.54" y="645.36" width="18.23" height="18.22" fill="#00ff9c"/><rect x="472.71" y="645.36" width="18.23" height="18.22" fill="#00ff9c"/><rect x="490.89" y="645.36" width="18.23" height="18.22" fill="#00ff9c"/><rect x="509.06" y="645.36" width="18.23" height="18.22" fill="#00ffb9"/><rect x="527.24" y="645.36" width="18.22" height="18.22" fill="#00ffb9"/><rect x="545.41" y="645.36" width="18.22" height="18.22" fill="#00ffb9"/><rect x="563.59" y="645.36" width="18.22" height="18.22" fill="#00ffd6"/><rect x="581.76" y="645.36" width="18.22" height="18.22" fill="#00ffd6"/><rect x="599.94" y="645.36" width="18.22" height="18.22" fill="#00ffd6"/><rect x="618.11" y="645.36" width="18.22" height="18.22" fill="#00f3ff"/><rect x="636.29" y="645.36" width="18.22" height="18.22" fill="#00f3ff"/><rect x="654.46" y="645.36" width="18.22" height="18.22" fill="#00f3ff"/><rect x="672.64" y="645.36" width="18.22" height="18.22" fill="#00f3ff"/><rect x="690.81" y="645.36" width="18.22" height="18.22" fill="#00f3ff"/><rect x="708.99" y="645.36" width="18.22" height="18.22" fill="#00f3ff"/><rect x="727.16" y="645.36" width="18.22" height="18.22" fill="#00f3ff"/><rect x="745.34" y="645.36" width="18.22" height="18.22" fill="#00f3ff"/><rect x="763.51" y="645.36" width="18.22" height="18.22" fill="#00f3ff"/><rect x="781.69" y="645.36" width="18.22" height="18.22" fill="#00f3ff"/><rect x="0.16" y="663.54" width="18.22" height="18.22" fill="#00ffb9"/><rect x="18.34" y="663.54" width="18.23" height="18.22" fill="#00ffb9"/><rect x="36.51" y="663.54" width="18.22" height="18.22" fill="#00ffd6"/><rect x="54.69" y="663.54" width="18.23" height="18.22" fill="#00ffd6"/><rect x="72.86" y="663.54" width="18.22" height="18.22" fill="#00ffd6"/><rect x="91.04" y="663.54" width="18.22" height="18.22" fill="#00ffd6"/><rect x="109.21" y="663.54" width="18.22" height="18.22" fill="#00ffd6"/><rect x="127.39" y="663.54" width="18.22" height="18.22" fill="#00ffd6"/><rect x="145.56" y="663.54" width="18.23" height="18.22" fill="#00ffd6"/><rect x="163.74" y="663.54" width="18.23" height="18.22" fill="#00ffd6"/><rect x="181.91" y="663.54" width="18.23" height="18.22" fill="#00ffb9"/><rect x="200.09" y="663.54" width="18.23" height="18.22" fill="#00ffb9"/><rect x="218.26" y="663.54" width="18.23" height="18.22" fill="#00ffb9"/><rect x="236.44" y="663.54" width="18.23" height="18.22" fill="#00ffb9"/><rect x="254.61" y="663.54" width="18.23" height="18.22" fill="#00ffb9"/><rect x="272.79" y="663.54" width="18.23" height="18.22" fill="#00ffb9"/><rect x="290.96" y="663.54" width="18.23" height="18.22" fill="#00ff9c"/><rect x="309.14" y="663.54" width="18.23" height="18.22" fill="#00ff46"/><rect x="327.31" y="663.54" width="18.23" height="18.22" fill="#00ff29"/><rect x="345.49" y="663.54" width="18.23" height="18.22" fill="#00ff29"/><rect x="363.66" y="663.54" width="18.23" height="18.22" fill="#00ff29"/><rect x="381.84" y="663.54" width="18.23" height="18.22" fill="#00ff46"/><rect x="400.01" y="663.54" width="18.23" height="18.22" fill="#00ff46"/><rect x="418.19" y="663.54" width="18.23" height="18.22" fill="#00ff46"/><rect x="436.36" y="663.54" width="18.23" height="18.22" fill="#00ff46"/><rect x="454.54" y="663.54" width="18.23" height="18.22" fill="#00ff29"/><rect x="472.71" y="663.54" width="18.23" height="18.22" fill="#00ff29"/><rect x="490.89" y="663.54" width="18.23" height="18.22" fill="#00ff29"/><rect x="509.06" y="663.54" width="18.23" height="18.22" fill="#00ff29"/><rect x="527.24" y="663.54" width="18.22" height="18.22" fill="#00ff29"/><rect x="545.41" y="663.54" width="18.22" height="18.22" fill="#00ff29"/><rect x="563.59" y="663.54" width="18.22" height="18.22" fill="#00ff46"/><rect x="581.76" y="663.54" width="18.22" height="18.22" fill="#00ff63"/><rect x="599.94" y="663.54" width="18.22" height="18.22" fill="#00ff7f"/><rect x="618.11" y="663.54" width="18.22" height="18.22" fill="#00ffb9"/><rect x="636.29" y="663.54" width="18.22" height="18.22" fill="#00ffd6"/><rect x="654.46" y="663.54" width="18.22" height="18.22" fill="#00ffd6"/><rect x="672.64" y="663.54" width="18.22" height="18.22" fill="#00ffd6"/><rect x="690.81" y="663.54" width="18.22" height="18.22" fill="#00fff3"/><rect x="708.99" y="663.54" width="18.22" height="18.22" fill="#00ffd6"/><rect x="727.16" y="663.54" width="18.22" height="18.22" fill="#00fff3"/><rect x="745.34" y="663.54" width="18.22" height="18.22" fill="#00fff3"/><rect x="763.51" y="663.54" width="18.22" height="18.22" fill="#00fff3"/><rect x="781.69" y="663.54" width="18.22" height="18.22" fill="#00fff3"/><rect x="0.16" y="681.71" width="18.22" height="18.22" fill="#00fff3"/><rect x="18.34" y="681.71" width="18.23" height="18.22" fill="#00fff3"/><rect x="36.51" y="681.71" width="18.22" height="18.22" fill="#00ffd6"/><rect x="54.69" y="681.71" width="18.23" height="18.22" fill="#00ffd6"/><rect x="72.86" y="681.71" width="18.22" height="18.22" fill="#00ffd6"/><rect x="91.04" y="681.71" width="18.22" height="18.22" fill="#00ffd6"/><rect x="109.21" y="681.71" width="18.22" height="18.22" fill="#00ffd6"/><rect x="127.39" y="681.71" width="18.22" height="18.22" fill="#00ffd6"/><rect x="145.56" y="681.71" width="18.23" height="18.22" fill="#00ffd6"/><rect x="163.74" y="681.71" width="18.23" height="18.22" fill="#00ffd6"/><rect x="181.91" y="681.71" width="18.23" height="18.22" fill="#00ffd6"/><rect x="200.09" y="681.71" width="18.23" height="18.22" fill="#00ffd6"/><rect x="218.26" y="681.71" width="18.23" height="18.22" fill="#00ffd6"/><rect x="236.44" y="681.71" width="18.23" height="18.22" fill="#00ffb9"/><rect x="254.61" y="681.71" width="18.23" height="18.22" fill="#00ffb9"/><rect x="272.79" y="681.71" width="18.23" height="18.22" fill="#00ffb9"/><rect x="290.96" y="681.71" width="18.23" height="18.22" fill="#00ffb9"/><rect x="309.14" y="681.71" width="18.23" height="18.22" fill="#00ffb9"/><rect x="327.31" y="681.71" width="18.23" height="18.22" fill="#00ffb9"/><rect x="345.49" y="681.71" width="18.23" height="18.22" fill="#00ffb9"/><rect x="363.66" y="681.71" width="18.23" height="18.22" fill="#00ffd6"/><rect x="381.84" y="681.71" width="18.23" height="18.22" fill="#00ffd6"/><rect x="400.01" y="681.71" width="18.23" height="18.22" fill="#00ffd6"/><rect x="418.19" y="681.71" width="18.23" height="18.22" fill="#00ffd6"/><rect x="436.36" y="681.71" width="18.23" height="18.22" fill="#00ffd6"/><rect x="454.54" y="681.71" width="18.23" height="18.22" fill="#00ff46"/><rect x="472.71" y="681.71" width="18.23" height="18.22" fill="#00ff63"/><rect x="490.89" y="681.71" width="18.23" height="18.22" fill="#00ff63"/><rect x="509.06" y="681.71" width="18.23" height="18.22" fill="#00ff29"/><rect x="527.24" y="681.71" width="18.22" height="18.22" fill="#00ff29"/><rect x="545.41" y="681.71" width="18.22" height="18.22" fill="#00ff29"/><rect x="563.59" y="681.71" width="18.22" height="18.22" fill="#00ff29"/><rect x="581.76" y="681.71" width="18.22" height="18.22" fill="#00ff29"/><rect x="599.94" y="681.71" width="18.22" height="18.22" fill="#00ff46"/><rect x="618.11" y="681.71" width="18.22" height="18.22" fill="#00ff46"/><rect x="636.29" y="681.71" width="18.22" height="18.22" fill="#00ff46"/><rect x="654.46" y="681.71" width="18.22" height="18.22" fill="#00ff63"/><rect x="672.64" y="681.71" width="18.22" height="18.22" fill="#00ff7f"/><rect x="690.81" y="681.71" width="18.22" height="18.22" fill="#00ff9c"/><rect x="708.99" y="681.71" width="18.22" height="18.22" fill="#00ffb9"/><rect x="727.16" y="681.71" width="18.22" height="18.22" fill="#00ffb9"/><rect x="745.34" y="681.71" width="18.22" height="18.22" fill="#00ffb9"/><rect x="763.51" y="681.71" width="18.22" height="18.22" fill="#00ffb9"/><rect x="781.69" y="681.71" width="18.22" height="18.22" fill="#00ffb9"/><rect x="0.16" y="699.89" width="18.22" height="18.22" fill="#00faff"/><rect x="18.34" y="699.89" width="18.23" height="18.22" fill="#00faff"/><rect x="36.51" y="699.89" width="18.22" height="18.22" fill="#00ffd6"/><rect x="54.69" y="699.89" width="18.23" height="18.22" fill="#00ffd6"/><rect x="72.86" y="699.89" width="18.22" height="18.22" fill="#00ffd6"/><rect x="91.04" y="699.89" width="18.22" height="18.22" fill="#00ffd6"/><rect x="109.21" y="699.89" width="18.22" height="18.22" fill="#00ffd6"/><rect x="127.39" y="699.89" width="18.22" height="18.22" fill="#00ffd6"/><rect x="145.56" y="699.89" width="18.23" height="18.22" fill="#00ffd6"/><rect x="163.74" y="699.89" width="18.23" height="18.22" fill="#00ffd6"/><rect x="181.91" y="699.89" width="18.23" height="18.22" fill="#00ffd6"/><rect x="200.09" y="699.89" width="18.23" height="18.22" fill="#00ffd6"/><rect x="218.26" y="699.89" width="18.23" height="18.22" fill="#00ffd6"/><rect x="236.44" y="699.89" width="18.23" height="18.22" fill="#00ffb9"/><rect x="254.61" y="699.89" width="18.23" height="18.22" fill="#00ffb9"/><rect x="272.79" y="699.89" width="18.23" height="18.22" fill="#00ffb9"/><rect x="290.96" y="699.89" width="18.23" height="18.22" fill="#00ff9c"/><rect x="309.14" y="699.89" width="18.23" height="18.22" fill="#00ffb9"/><rect x="327.31" y="699.89" width="18.23" height="18.22" fill="#00ffd6"/><rect x="345.49" y="699.89" width="18.23" height="18.22" fill="#00faff"/><rect x="363.66" y="699.89" width="18.23" height="18.22" fill="#00f3ff"/><rect x="381.84" y="699.89" width="18.23" height="18.22" fill="#00f3ff"/><rect x="400.01" y="699.89" width="18.23" height="18.22" fill="#00f3ff"/><rect x="418.19" y="699.89" width="18.23" height="18.22" fill="#00f3ff"/><rect x="436.36" y="699.89" width="18.23" height="18.22" fill="#00faff"/><rect x="454.54" y="699.89" width="18.23" height="18.22" fill="#00ffb9"/><rect x="472.71" y="699.89" width="18.23" height="18.22" fill="#00ff9c"/><rect x="490.89" y="699.89" width="18.23" height="18.22" fill="#00ff9c"/><rect x="509.06" y="699.89" width="18.23" height="18.22" fill="#00ff9c"/><rect x="527.24" y="699.89" width="18.22" height="18.22" fill="#00ff9c"/><rect x="545.41" y="699.89" width="18.22" height="18.22" fill="#00ff7f"/><rect x="563.59" y="699.89" width="18.22" height="18.22" fill="#00ff7f"/><rect x="581.76" y="699.89" width="18.22" height="18.22" fill="#00ff7f"/><rect x="599.94" y="699.89" width="18.22" height="18.22" fill="#00ff63"/><rect x="618.11" y="699.89" width="18.22" height="18.22" fill="#00ff46"/><rect x="636.29" y="699.89" width="18.22" height="18.22" fill="#00ff46"/><rect x="654.46" y="699.89" width="18.22" height="18.22" fill="#00ff29"/><rect x="672.64" y="699.89" width="18.22" height="18.22" fill="#00ff29"/><rect x="690.81" y="699.89" width="18.22" height="18.22" fill="#00ff29"/><rect x="708.99" y="699.89" width="18.22" height="18.22" fill="#00ff46"/><rect x="727.16" y="699.89" width="18.22" height="18.22" fill="#00ff46"/><rect x="745.34" y="699.89" width="18.22" height="18.22" fill="#00ff46"/><rect x="763.51" y="699.89" width="18.22" height="18.22" fill="#00ff46"/><rect x="781.69" y="699.89" width="18.22" height="18.22" fill="#00ff63"/><rect x="0.16" y="718.06" width="18.22" height="18.22" fill="#00faff"/><rect x="18.34" y="718.06" width="18.23" height="18.22" fill="#00faff"/><rect x="36.51" y="718.06" width="18.22" height="18.22" fill="#00fff3"/><rect x="54.69" y="718.06" width="18.23" height="18.22" fill="#00fff3"/><rect x="72.86" y="718.06" width="18.22" height="18.22" fill="#00fff3"/><rect x="91.04" y="718.06" width="18.22" height="18.22" fill="#00fff3"/><rect x="109.21" y="718.06" width="18.22" height="18.22" fill="#00fff3"/><rect x="127.39" y="718.06" width="18.22" height="18.22" fill="#00ffd6"/><rect x="145.56" y="718.06" width="18.23" height="18.22" fill="#00ffd6"/><rect x="163.74" y="718.06" width="18.23" height="18.22" fill="#00ffd6"/><rect x="181.91" y="718.06" width="18.23" height="18.22" fill="#00ffd6"/><rect x="200.09" y="718.06" width="18.23" height="18.22" fill="#00ffd6"/><rect x="218.26" y="718.06" width="18.23" height="18.22" fill="#00ffd6"/><rect x="236.44" y="718.06" width="18.23" height="18.22" fill="#00ffb9"/><rect x="254.61" y="718.06" width="18.23" height="18.22" fill="#00ffb9"/><rect x="272.79" y="718.06" width="18.23" height="18.22" fill="#00ffb9"/><rect x="290.96" y="718.06" width="18.23" height="18.22" fill="#00ff9c"/><rect x="309.14" y="718.06" width="18.23" height="18.22" fill="#00ffb9"/><rect x="327.31" y="718.06" width="18.23" height="18.22" fill="#00ffd6"/><rect x="345.49" y="718.06" width="18.23" height="18.22" fill="#00faff"/><rect x="363.66" y="718.06" width="18.23" height="18.22" fill="#00f3ff"/><rect x="381.84" y="718.06" width="18.23" height="18.22" fill="#00f3ff"/><rect x="400.01" y="718.06" width="18.23" height="18.22" fill="#00f3ff"/><rect x="418.19" y="718.06" width="18.23" height="18.22" fill="#00f3ff"/><rect x="436.36" y="718.06" width="18.23" height="18.22" fill="#00fff3"/><rect x="454.54" y="718.06" width="18.23" height="18.22" fill="#00ffb9"/><rect x="472.71" y="718.06" width="18.23" height="18.22" fill="#00ffb9"/><rect x="490.89" y="718.06" width="18.23" height="18.22" fill="#00ffb9"/><rect x="509.06" y="718.06" width="18.23" height="18.22" fill="#00ffb9"/><rect x="527.24" y="718.06" width="18.22" height="18.22" fill="#00ff9c"/><rect x="545.41" y="718.06" width="18.22" height="18.22" fill="#00ff9c"/><rect x="563.59" y="718.06" width="18.22" height="18.22" fill="#00ff7f"/><rect x="581.76" y="718.06" width="18.22" height="18.22" fill="#00ff7f"/><rect x="599.94" y="718.06" width="18.22" height="18.22" fill="#00ff7f"/><rect x="618.11" y="718.06" width="18.22" height="18.22" fill="#00ff63"/><rect x="636.29" y="718.06" width="18.22" height="18.22" fill="#00ff46"/><rect x="654.46" y="718.06" width="18.22" height="18.22" fill="#00ff29"/><rect x="672.64" y="718.06" width="18.22" height="18.22" fill="#00ff29"/><rect x="690.81" y="718.06" width="18.22" height="18.22" fill="#00ff29"/><rect x="708.99" y="718.06" width="18.22" height="18.22" fill="#00ff29"/><rect x="727.16" y="718.06" width="18.22" height="18.22" fill="#00ff29"/><rect x="745.34" y="718.06" width="18.22" height="18.22" fill="#00ff29"/><rect x="763.51" y="718.06" width="18.22" height="18.22" fill="#00ff29"/><rect x="781.69" y="718.06" width="18.22" height="18.22" fill="#00ff29"/><rect x="0.16" y="736.24" width="18.22" height="18.22" fill="#00f3ff"/><rect x="18.34" y="736.24" width="18.23" height="18.22" fill="#00f3ff"/><rect x="36.51" y="736.24" width="18.22" height="18.22" fill="#00faff"/><rect x="54.69" y="736.24" width="18.23" height="18.22" fill="#00faff"/><rect x="72.86" y="736.24" width="18.22" height="18.22" fill="#00faff"/><rect x="91.04" y="736.24" width="18.22" height="18.22" fill="#00faff"/><rect x="109.21" y="736.24" width="18.22" height="18.22" fill="#00faff"/><rect x="127.39" y="736.24" width="18.22" height="18.22" fill="#00ffd6"/><rect x="145.56" y="736.24" width="18.23" height="18.22" fill="#00ffd6"/><rect x="163.74" y="736.24" width="18.23" height="18.22" fill="#00ffd6"/><rect x="181.91" y="736.24" width="18.23" height="18.22" fill="#00ffd6"/><rect x="200.09" y="736.24" width="18.23" height="18.22" fill="#00ffd6"/><rect x="218.26" y="736.24" width="18.23" height="18.22" fill="#00ffd6"/><rect x="236.44" y="736.24" width="18.23" height="18.22" fill="#00ffb9"/><rect x="254.61" y="736.24" width="18.23" height="18.22" fill="#00ffb9"/><rect x="272.79" y="736.24" width="18.23" height="18.22" fill="#00ffb9"/><rect x="290.96" y="736.24" width="18.23" height="18.22" fill="#00ffb9"/><rect x="309.14" y="736.24" width="18.23" height="18.22" fill="#00ffd6"/><rect x="327.31" y="736.24" width="18.23" height="18.22" fill="#00fff3"/><rect x="345.49" y="736.24" width="18.23" height="18.22" fill="#00faff"/><rect x="363.66" y="736.24" width="18.23" height="18.22" fill="#00f3ff"/><rect x="381.84" y="736.24" width="18.23" height="18.22" fill="#00f3ff"/><rect x="400.01" y="736.24" width="18.23" height="18.22" fill="#00f3ff"/><rect x="418.19" y="736.24" width="18.23" height="18.22" fill="#00faff"/><rect x="436.36" y="736.24" width="18.23" height="18.22" fill="#00ffd6"/><rect x="454.54" y="736.24" width="18.23" height="18.22" fill="#00ffb9"/><rect x="472.71" y="736.24" width="18.23" height="18.22" fill="#00ffb9"/><rect x="490.89" y="736.24" width="18.23" height="18.22" fill="#00ff9c"/><rect x="509.06" y="736.24" width="18.23" height="18.22" fill="#00ffb9"/><rect x="527.24" y="736.24" width="18.22" height="18.22" fill="#00ff9c"/><rect x="545.41" y="736.24" width="18.22" height="18.22" fill="#00ff9c"/><rect x="563.59" y="736.24" width="18.22" height="18.22" fill="#00ff7f"/><rect x="581.76" y="736.24" width="18.22" height="18.22" fill="#00ff7f"/><rect x="599.94" y="736.24" width="18.22" height="18.22" fill="#00ff7f"/><rect x="618.11" y="736.24" width="18.22" height="18.22" fill="#00ff63"/><rect x="636.29" y="736.24" width="18.22" height="18.22" fill="#00ff63"/><rect x="654.46" y="736.24" width="18.22" height="18.22" fill="#00ff46"/><rect x="672.64" y="736.24" width="18.22" height="18.22" fill="#00ff46"/><rect x="690.81" y="736.24" width="18.22" height="18.22" fill="#00ff29"/><rect x="708.99" y="736.24" width="18.22" height="18.22" fill="#00ff46"/><rect x="727.16" y="736.24" width="18.22" height="18.22" fill="#00ff46"/><rect x="745.34" y="736.24" width="18.22" height="18.22" fill="#00ff46"/><rect x="763.51" y="736.24" width="18.22" height="18.22" fill="#00ff46"/><rect x="781.69" y="736.24" width="18.22" height="18.22" fill="#00ff46"/><rect x="0.16" y="754.41" width="18.22" height="17.64" fill="#00f3ff"/><rect x="18.34" y="754.41" width="18.23" height="17.64" fill="#00f3ff"/><rect x="36.51" y="754.41" width="18.22" height="17.64" fill="#00faff"/><rect x="54.69" y="754.41" width="18.23" height="17.64" fill="#00faff"/><rect x="72.86" y="754.41" width="18.22" height="17.64" fill="#00faff"/><rect x="91.04" y="754.41" width="18.22" height="17.64" fill="#00faff"/><rect x="109.21" y="754.41" width="18.22" height="17.64" fill="#00faff"/><rect x="127.39" y="754.41" width="18.22" height="17.64" fill="#00fff3"/><rect x="145.56" y="754.41" width="18.23" height="17.64" fill="#00ffd6"/><rect x="163.74" y="754.41" width="18.23" height="17.64" fill="#00ffd6"/><rect x="181.91" y="754.41" width="18.23" height="17.64" fill="#00ffd6"/><rect x="200.09" y="754.41" width="18.23" height="17.64" fill="#00ffd6"/><rect x="218.26" y="754.41" width="18.23" height="17.64" fill="#00ffd6"/><rect x="236.44" y="754.41" width="18.23" height="17.64" fill="#00ffd6"/><rect x="254.61" y="754.41" width="18.23" height="17.64" fill="#00ffd6"/><rect x="272.79" y="754.41" width="18.23" height="17.64" fill="#00ffd6"/><rect x="290.96" y="754.41" width="18.23" height="17.64" fill="#00ffd6"/><rect x="309.14" y="754.41" width="18.23" height="17.64" fill="#00ffd6"/><rect x="327.31" y="754.41" width="18.23" height="17.64" fill="#00fff3"/><rect x="345.49" y="754.41" width="18.23" height="17.64" fill="#00faff"/><rect x="363.66" y="754.41" width="18.23" height="17.64" fill="#00faff"/><rect x="381.84" y="754.41" width="18.23" height="17.64" fill="#00f3ff"/><rect x="400.01" y="754.41" width="18.23" height="17.64" fill="#00f3ff"/><rect x="418.19" y="754.41" width="18.23" height="17.64" fill="#00f3ff"/><rect x="436.36" y="754.41" width="18.23" height="17.64" fill="#00fff3"/><rect x="454.54" y="754.41" width="18.23" height="17.64" fill="#00ffb9"/><rect x="472.71" y="754.41" width="18.23" height="17.64" fill="#00ffb9"/><rect x="490.89" y="754.41" width="18.23" height="17.64" fill="#00ffb9"/><rect x="509.06" y="754.41" width="18.23" height="17.64" fill="#00ffb9"/><rect x="527.24" y="754.41" width="18.22" height="17.64" fill="#00ffb9"/><rect x="545.41" y="754.41" width="18.22" height="17.64" fill="#00ffb9"/><rect x="563.59" y="754.41" width="18.22" height="17.64" fill="#00ffb9"/><rect x="581.76" y="754.41" width="18.22" height="17.64" fill="#00ff9c"/><rect x="599.94" y="754.41" width="18.22" height="17.64" fill="#00ff7f"/><rect x="618.11" y="754.41" width="18.22" height="17.64" fill="#00ff63"/><rect x="636.29" y="754.41" width="18.22" height="17.64" fill="#00ff63"/><rect x="654.46" y="754.41" width="18.22" height="17.64" fill="#00ff63"/><rect x="672.64" y="754.41" width="18.22" height="17.64" fill="#00ff63"/><rect x="690.81" y="754.41" width="18.22" height="17.64" fill="#00ff63"/><rect x="708.99" y="754.41" width="18.22" height="17.64" fill="#00ff63"/><rect x="727.16" y="754.41" width="18.22" height="17.64" fill="#00ff63"/><rect x="745.34" y="754.41" width="18.22" height="17.64" fill="#00ff63"/><rect x="763.51" y="754.41" width="18.22" height="17.64" fill="#00ff63"/><rect x="781.69" y="754.41" width="18.22" height="17.64" fill="#00ff63"/></g><path d="M718.1 36.5L704.8 46.9M713.1 45.3L704.8 46.9L708.4 39.2M772.6 36.5L758.9 47.2M767.5 45.5L758.9 47.2L762.6 39.3M790.8 36.5L777.5 46.9M785.8 45.3L777.5 46.9L781.1 39.2M699.9 54.7L688.6 63.5M695.6 62.2L688.6 63.5L691.6 57.0M718.1 54.7L705.9 64.2M713.5 62.7L705.9 64.2L709.2 57.2M754.4 54.7L740.8 65.3M749.3 63.7L740.8 65.3L744.4 57.5M772.6 54.7L758.9 65.3M767.5 63.7L758.9 65.3L762.6 57.5M790.8 54.7L777.9 64.8M785.9 63.2L777.9 64.8L781.3 57.3M681.7 72.8L671.2 81.1M677.7 79.8L671.2 81.1L674.0 75.0M699.9 72.8L688.6 81.7M695.6 80.3L688.6 81.7L691.6 75.2M718.1 72.8L705.2 82.9M713.2 81.4L705.2 82.9L708.6 75.5M736.2 72.8L722.1 83.9M730.9 82.2L722.1 83.9L725.9 75.8M754.4 72.8L740.8 83.5M749.3 81.9L740.8 83.5L744.4 75.7M772.6 72.8L759.3 83.2M767.6 81.6L759.3 83.2L762.9 75.6M790.8 72.8L778.6 82.3M786.2 80.9L778.6 82.3L781.9 75.4M663.6 91.0L654.4 97.8M660.0 96.8L654.4 97.8L656.9 92.7M681.7 91.0L671.0 99.0M677.6 97.9L671.0 99.0L673.9 93.0M699.9 91.0L688.3 99.6M695.4 98.4L688.3 99.6L691.5 93.1M718.1 91.0L705.7 100.2M713.3 98.9L705.7 100.2L709.1 93.3M736.2 91.0L722.7 101.0M731.0 99.7L722.7 101.0L726.5 93.5M754.4 91.0L741.2 100.8M749.3 99.4L741.2 100.8L744.9 93.4M772.6 91.0L759.4 100.8M767.5 99.4L759.4 100.8L763.1 93.4M790.8 91.0L778.4 100.2M786.0 98.9L778.4 100.2L781.8 93.3M681.7 109.2L672.0 115.1M677.7 114.7L672.0 115.1L675.0 110.3M699.9 109.2L689.2 115.5M695.4 115.1L689.2 115.5L692.5 110.3M718.1 109.2L706.5 116.0M713.2 115.6L706.5 116.0L710.1 110.4M736.2 109.2L723.9 116.5M731.0 116.1L723.9 116.5L727.7 110.5M754.4 109.2L741.2 117.0M748.9 116.6L741.2 117.0L745.3 110.5M772.6 109.2L759.3 117.0M767.0 116.6L759.3 117.0L763.5 110.5M790.8 109.2L777.5 117.0M785.2 116.6L777.5 117.0L781.6 110.5M663.6 127.4L652.9 133.7M659.1 133.3L652.9 133.7L656.2 128.5M681.7 127.4L670.7 133.0M676.9 133.0L670.7 133.0L674.3 128.0M699.9 127.4L689.7 132.4M695.4 132.5L689.7 132.4L693.1 127.8M718.1 127.4L706.9 132.8M713.1 132.9L706.9 132.8L710.7 127.9M736.2 127.4L725.1 132.8M731.3 132.9L725.1 132.8L728.8 127.9M754.4 127.4L741.5 133.7M748.7 133.8L741.5 133.7L745.8 127.9M772.6 127.4L759.7 133.7M766.9 133.8L759.7 133.7L764.0 127.9M790.8 127.4L777.8 133.7M785.0 133.8L777.8 133.7L782.2 127.9M645.4 145.6L634.9 152.1M641.0 151.6L634.9 152.1L638.1 146.8M663.6 145.6L652.9 151.9M659.1 151.5L652.9 151.9L656.2 146.6M681.7 145.6L670.6 151.1M676.8 151.1L670.6 151.1L674.3 146.1M699.9 145.6L688.7 150.8M694.9 151.0L688.7 150.8L692.5 145.9M718.1 145.6L706.8 150.8M713.0 151.0L706.8 150.8L710.7 145.9M736.2 145.6L725.0 150.8M731.2 151.0L725.0 150.8L728.8 145.9M754.4 145.6L743.2 150.8M749.4 151.0L743.2 150.8L747.0 145.9M772.6 145.6L761.4 150.8M767.6 151.0L761.4 150.8L765.2 145.9M790.8 145.6L779.5 150.8M785.7 151.0L779.5 150.8L783.4 145.9M645.4 163.7L634.2 171.1M640.9 170.4L634.2 171.1L637.5 165.3M663.6 163.7L652.2 170.8M658.8 170.2L652.2 170.8L655.6 165.1M681.7 163.7L670.7 169.3M676.9 169.3L670.7 169.3L674.3 164.3M699.9 163.7L688.7 169.0M694.9 169.2L688.7 169.0L692.5 164.1M718.1 163.7L706.8 169.0M713.0 169.2L706.8 169.0L710.7 164.1M736.2 163.7L725.0 169.0M731.2 169.2L725.0 169.0L728.8 164.1M754.4 163.7L743.2 169.0M749.4 169.2L743.2 169.0L747.0 164.1M772.6 163.7L762.3 168.5M768.0 168.7L762.3 168.5L765.8 164.1M790.8 163.7L780.4 168.5M786.1 168.7L780.4 168.5L784.0 164.1M627.2 181.9L615.1 191.5M622.7 189.9L615.1 191.5L618.3 184.5M645.4 181.9L632.5 192.1M640.6 190.5L632.5 192.1L635.9 184.6M663.6 181.9L651.9 190.3M659.0 189.2L651.9 190.3L655.2 183.9M681.7 181.9L669.0 188.6M676.2 188.5L669.0 188.6L673.1 182.7M699.9 181.9L687.8 187.6M694.5 187.8L687.8 187.6L691.9 182.3M718.1 181.9L706.8 187.1M713.0 187.4L706.8 187.1L710.7 182.3M736.2 181.9L725.0 187.1M731.2 187.4L725.0 187.1L728.8 182.3M754.4 181.9L744.1 186.7M749.8 186.9L744.1 186.7L747.6 182.2M772.6 181.9L761.4 187.1M767.6 187.4L761.4 187.1L765.2 182.3M790.8 181.9L780.4 186.7M786.1 186.9L780.4 186.7L784.0 182.2M609.0 200.1L597.9 209.3M605.0 207.7L597.9 209.3L600.8 202.6M627.2 200.1L614.6 210.5M622.6 208.7L614.6 210.5L617.8 203.0M645.4 200.1L632.4 210.8M640.6 209.0L632.4 210.8L635.7 203.1M663.6 200.1L651.2 209.3M658.8 208.0L651.2 209.3L654.6 202.4M681.7 200.1L669.0 206.8M676.2 206.7L669.0 206.8L673.1 200.9M699.9 200.1L687.8 205.7M694.5 206.0L687.8 205.7L691.9 200.5M718.1 200.1L706.8 205.3M713.0 205.5L706.8 205.3L710.7 200.4M736.2 200.1L725.0 205.3M731.2 205.5L725.0 205.3L728.8 200.4M754.4 200.1L743.2 205.3M749.4 205.5L743.2 205.3L747.0 200.4M772.6 200.1L761.4 205.3M767.6 205.5L761.4 205.3L765.2 200.4M790.8 200.1L779.5 205.3M785.7 205.5L779.5 205.3L783.4 200.4M590.9 218.2L579.6 227.3M586.7 225.8L579.6 227.3L582.6 220.7M609.0 218.2L598.5 226.6M605.1 225.2L598.5 226.6L601.3 220.5M627.2 218.2L615.9 227.2M623.0 225.8L615.9 227.2L618.9 220.6M645.4 218.2L632.5 228.4M640.6 226.8L632.5 228.4L635.9 221.0M663.6 218.2L651.0 227.2M658.7 226.1L651.0 227.2L654.6 220.4M681.7 218.2L669.0 224.9M676.2 224.9L669.0 224.9L673.1 219.1M699.9 218.2L687.8 223.9M694.5 224.1L687.8 223.9L691.9 218.6M718.1 218.2L706.8 223.5M713.0 223.7L706.8 223.5L710.7 218.6M736.2 218.2L725.0 223.5M731.2 223.7L725.0 223.5L728.8 218.6M754.4 218.2L743.2 223.5M749.4 223.7L743.2 223.5L747.0 218.6M772.6 218.2L761.4 223.5M767.6 223.7L761.4 223.5L765.2 218.6M790.8 218.2L779.5 223.5M785.7 223.7L779.5 223.5L783.4 218.6M572.7 236.4L561.6 245.6M568.6 244.0L561.6 245.6L564.4 239.0M590.9 236.4L577.6 246.9M585.9 245.2L577.6 246.9L581.1 239.2M609.0 236.4L598.5 244.7M605.0 243.4L598.5 244.7L601.3 238.6M627.2 236.4L617.4 244.1M623.5 242.9L617.4 244.1L620.0 238.4M645.4 236.4L634.0 245.3M641.1 243.9L634.0 245.3L637.1 238.8M663.6 236.4L651.8 244.8M658.9 243.7L651.8 244.8L655.1 238.4M681.7 236.4L669.0 243.1M676.2 243.0L669.0 243.1L673.1 237.2M699.9 236.4L687.8 242.1M694.5 242.3L687.8 242.1L691.9 236.8M718.1 236.4L706.8 241.7M713.0 241.9L706.8 241.7L710.7 236.8M736.2 236.4L725.9 241.2M731.6 241.4L725.9 241.2L729.4 236.8M754.4 236.4L744.1 241.2M749.8 241.4L744.1 241.2L747.6 236.8M772.6 236.4L762.3 241.2M768.0 241.4L762.3 241.2L765.8 236.8M790.8 236.4L780.4 241.2M786.1 241.4L780.4 241.2L784.0 236.8M554.5 254.6L545.8 261.9M551.3 260.6L545.8 261.9L548.0 256.7M572.7 254.6L561.5 263.7M568.6 262.2L561.5 263.7L564.4 257.1M590.9 254.6L578.6 263.9M586.2 262.5L578.6 263.9L581.9 257.0M609.0 254.6L597.4 263.1M604.5 262.0L597.4 263.1L600.7 256.7M627.2 254.6L616.4 262.6M623.0 261.5L616.4 262.6L619.4 256.6M645.4 254.6L634.6 262.6M641.2 261.5L634.6 262.6L637.6 256.6M663.6 254.6L652.5 262.1M659.1 261.3L652.5 262.1L655.7 256.3M681.7 254.6L669.8 260.7M676.5 260.7L669.8 260.7L673.7 255.3M699.9 254.6L687.8 260.3M694.5 260.5L687.8 260.3L691.9 255.0M718.1 254.6L706.8 259.8M713.0 260.1L706.8 259.8L710.7 255.0M736.2 254.6L725.9 259.4M731.6 259.6L725.9 259.4L729.4 254.9M754.4 254.6L744.1 259.4M749.8 259.6L744.1 259.4L747.6 254.9M772.6 254.6L762.3 259.4M768.0 259.6L762.3 259.4L765.8 254.9M790.8 254.6L780.4 259.4M786.1 259.6L780.4 259.4L784.0 254.9M209.2 272.8L204.3 254.4M202.3 263.7L204.3 254.4L210.6 261.5M554.5 272.8L541.5 284.2M549.9 282.1L541.5 284.2L544.7 276.2M572.7 272.8L558.5 283.9M567.3 282.1L558.5 283.9L562.3 275.7M590.9 272.8L577.8 281.0M585.5 280.3L577.8 281.0L581.8 274.4M609.0 272.8L596.6 280.0M603.8 279.6L596.6 280.0L600.5 274.0M627.2 272.8L615.6 279.5M622.3 279.1L615.6 279.5L619.2 273.9M645.4 272.8L634.7 279.0M640.8 278.7L634.7 279.0L638.0 273.8M663.6 272.8L652.7 278.7M658.9 278.6L652.7 278.7L656.2 273.6M681.7 272.8L671.4 277.6M677.1 277.8L671.4 277.6L674.9 273.1M699.9 272.8L688.5 277.7M694.7 278.1L688.5 277.7L692.5 272.9M718.1 272.8L706.7 277.7M712.9 278.1L706.7 277.7L710.6 272.9M736.2 272.8L725.8 277.3M731.5 277.7L725.8 277.3L729.4 272.9M754.4 272.8L744.0 277.3M749.7 277.7L744.0 277.3L747.6 272.9M772.6 272.8L762.2 277.3M767.8 277.7L762.2 277.3L765.8 272.9M790.8 272.8L780.3 277.3M786.0 277.7L780.3 277.3L783.9 272.9M209.2 291.0L204.5 273.6M202.6 282.4L204.5 273.6L210.5 280.3M227.4 291.0L222.9 274.2M221.1 282.7L222.9 274.2L228.7 280.7M245.5 291.0L240.6 272.6M238.6 281.9L240.6 272.6L247.0 279.7M263.7 291.0L258.8 272.6M256.8 281.9L258.8 272.6L265.1 279.7M281.9 291.0L277.0 272.6M275.0 281.9L277.0 272.6L283.3 279.7M536.3 291.0L534.3 293.2M535.7 292.6L534.3 293.2L534.7 291.7M554.5 291.0L540.8 301.5M549.3 299.9L540.8 301.5L544.5 293.7M572.7 291.0L557.9 301.2M566.8 300.0L557.9 301.2L562.1 293.2M590.9 291.0L577.2 298.0M584.9 298.0L577.2 298.0L581.7 291.7M609.0 291.0L595.9 296.9M603.1 297.2L595.9 296.9L600.4 291.3M627.2 291.0L615.0 296.5M621.7 296.8L615.0 296.5L619.2 291.2M645.4 291.0L634.1 296.1M640.3 296.4L634.1 296.1L638.0 291.2M663.6 291.0L653.1 295.5M658.8 295.8L653.1 295.5L656.7 291.1M681.7 291.0L672.2 294.5M677.2 295.1L672.2 294.5L675.6 290.8M699.9 291.0L690.3 294.3M695.3 295.0L690.3 294.3L693.8 290.6M718.1 291.0L708.5 294.3M713.5 295.0L708.5 294.3L712.0 290.6M736.2 291.0L726.6 294.3M731.7 295.0L726.6 294.3L730.1 290.6M754.4 291.0L743.7 294.7M749.3 295.5L743.7 294.7L747.6 290.6M772.6 291.0L761.8 294.7M767.5 295.5L761.8 294.7L765.8 290.6M790.8 291.0L780.0 294.7M785.7 295.5L780.0 294.7L784.0 290.6M227.4 309.1L223.3 295.3M222.0 302.4L223.3 295.3L228.2 300.5M245.5 309.1L240.2 290.9M238.4 300.2L240.2 290.9L246.7 297.8M263.7 309.1L257.2 287.1M255.1 298.4L257.2 287.1L265.1 295.4M281.9 309.1L274.8 285.1M272.5 297.4L274.8 285.1L283.4 294.2M300.1 309.1L293.8 288.0M291.8 298.8L293.8 288.0L301.4 296.0M318.2 309.1L313.5 293.4M312.0 301.5L313.5 293.4L319.1 299.3M500.0 309.1L488.9 296.4M491.0 304.6L488.9 296.4L496.7 299.6M518.2 309.1L511.4 296.4M511.5 303.6L511.4 296.4L517.3 300.5M536.3 309.1L534.8 297.8M532.9 303.2L534.8 297.8L538.0 302.5M554.5 309.1L550.5 308.6M552.2 309.7L550.5 308.6L552.4 307.9M572.7 309.1L559.0 313.6M566.1 314.7L559.0 313.6L564.1 308.5M590.9 309.1L576.3 314.2M583.9 315.3L576.3 314.2L581.6 308.7M609.0 309.1L595.4 313.9M602.6 314.9L595.4 313.9L600.4 308.7M627.2 309.1L614.6 313.6M621.2 314.5L614.6 313.6L619.2 308.7M645.4 309.1L633.7 313.2M639.8 314.1L633.7 313.2L638.0 308.8M663.6 309.1L652.8 312.8M658.4 313.6L652.8 312.8L656.7 308.7M681.7 309.1L671.9 312.0M676.9 312.9L671.9 312.0L675.6 308.5M699.9 309.1L690.1 311.8M695.1 312.9L690.1 311.8L693.8 308.4M718.1 309.1L708.2 311.8M713.2 312.9L708.2 311.8L712.0 308.4M736.2 309.1L726.4 311.8M731.4 312.9L726.4 311.8L730.2 308.4M754.4 309.1L744.6 311.8M749.6 312.9L744.6 311.8L748.4 308.4M772.6 309.1L762.8 311.8M767.8 312.9L762.8 311.8L766.5 308.4M790.8 309.1L780.9 311.8M785.9 312.9L780.9 311.8L784.7 308.4M263.7 327.3L257.6 311.1M256.6 319.7L257.6 311.1L264.0 316.9M281.9 327.3L274.1 306.7M272.9 317.6L274.1 306.7L282.3 314.1M300.1 327.3L291.6 304.8M290.3 316.8L291.6 304.8L300.5 312.9M318.2 327.3L310.7 308.8M309.8 318.7L310.7 308.8L318.3 315.3M336.4 327.3L328.9 312.7M328.9 320.9L328.9 312.7L335.6 317.5M354.6 327.3L348.2 315.5M348.3 322.2L348.2 315.5L353.7 319.3M372.8 327.3L365.9 314.7M366.1 321.9L365.9 314.7L371.8 318.7M390.9 327.3L382.7 314.3M383.4 321.9L382.7 314.3L389.3 318.2M409.1 327.3L394.8 311.9M397.7 322.0L394.8 311.9L404.7 315.5M427.3 327.3L410.6 311.4M414.4 322.3L410.6 311.4L421.6 314.7M445.5 327.3L429.5 312.1M433.2 322.5L429.5 312.1L440.1 315.3M463.6 327.3L447.7 312.1M451.3 322.5L447.7 312.1L458.2 315.3M481.8 327.3L464.4 310.7M468.4 322.1L464.4 310.7L475.9 314.2M500.0 327.3L487.0 312.1M489.3 321.8L487.0 312.1L496.2 315.9M518.2 327.3L512.8 310.8M511.4 319.4L512.8 310.8L518.9 316.9M536.3 327.3L534.8 313.0M532.2 319.7L534.8 313.0L538.7 319.0M554.5 327.3L553.2 322.3M552.6 324.8L553.2 322.3L554.9 324.2M572.7 327.3L564.0 319.9M566.2 325.1L564.0 319.9L569.6 321.2M590.9 327.3L577.5 327.3M583.4 330.3L577.5 327.3L583.4 324.3M609.0 327.3L594.8 329.2M601.5 331.6L594.8 329.2L600.7 325.1M627.2 327.3L614.9 328.9M620.8 331.0L614.9 328.9L620.0 325.4M645.4 327.3L633.1 328.9M638.9 331.0L633.1 328.9L638.2 325.4M663.6 327.3L652.2 328.8M657.6 330.7L652.2 328.8L657.0 325.5M681.7 327.3L671.6 328.5M676.4 330.3L671.6 328.5L675.8 325.7M699.9 327.3L689.8 328.5M694.5 330.2L689.8 328.5L694.0 325.6M718.1 327.3L709.3 328.3M713.5 329.8L709.3 328.3L713.0 325.9M736.2 327.3L727.5 328.3M731.6 329.8L727.5 328.3L731.2 325.9M754.4 327.3L745.7 328.3M749.8 329.8L745.7 328.3L749.3 325.9M772.6 327.3L763.9 328.3M768.0 329.8L763.9 328.3L767.5 325.9M790.8 327.3L780.6 328.5M785.4 330.2L780.6 328.5L784.9 325.6M300.1 345.5L291.8 325.1M290.8 336.0L291.8 325.1L300.1 332.3M318.2 345.5L309.3 325.4M308.7 336.4L309.3 325.4L317.8 332.3M336.4 345.5L326.9 329.0M327.4 338.5L326.9 329.0L334.9 334.2M354.6 345.5L345.9 331.6M346.6 339.7L345.9 331.6L352.9 335.8M372.8 345.5L363.8 331.2M364.5 339.6L363.8 331.2L371.0 335.5M390.9 345.5L380.9 331.3M382.2 339.9L380.9 331.3L388.6 335.4M409.1 345.5L394.3 330.6M397.5 340.6L394.3 330.6L404.3 333.9M427.3 345.5L408.7 328.7M413.2 340.4L408.7 328.7L420.8 332.0M445.5 345.5L426.9 328.7M431.4 340.4L426.9 328.7L438.9 332.0M463.6 345.5L446.5 330.1M450.7 340.8L446.5 330.1L457.6 333.1M481.8 345.5L464.0 329.4M468.3 340.6L464.0 329.4L475.6 332.5M500.0 345.5L486.0 329.8M488.7 339.9L486.0 329.8L495.8 333.6M518.2 345.5L512.4 329.1M511.3 337.7L512.4 329.1L518.7 335.1M536.3 345.5L534.8 331.2M532.2 337.9L534.8 331.2L538.7 337.2M554.5 345.5L553.1 334.2M551.2 339.5L553.1 334.2L556.3 338.9M572.7 345.5L566.9 337.1M567.6 342.1L566.9 337.1L571.4 339.5M590.9 345.5L578.7 343.0M583.5 346.8L578.7 343.0L584.7 341.3M609.0 345.5L596.6 345.3M602.1 348.2L596.6 345.3L602.2 342.5M627.2 345.5L615.8 345.3M620.8 348.0L615.8 345.3L620.9 342.8M645.4 345.5L634.0 345.3M639.0 348.0L634.0 345.3L639.1 342.8M663.6 345.5L652.2 345.3M657.2 348.0L652.2 345.3L657.3 342.8M681.7 345.5L671.5 345.3M676.0 347.7L671.5 345.3L676.1 343.1M699.9 345.5L689.7 345.3M694.2 347.7L689.7 345.3L694.3 343.1M718.1 345.5L709.3 345.3M713.2 347.4L709.3 345.3L713.2 343.4M736.2 345.5L727.5 345.3M731.3 347.4L727.5 345.3L731.4 343.4M754.4 345.5L745.6 345.3M749.5 347.4L745.6 345.3L749.6 343.4M772.6 345.5L763.8 345.3M767.7 347.4L763.8 345.3L767.8 343.4M790.8 345.5L782.0 345.3M785.9 347.4L782.0 345.3L785.9 343.4M300.1 363.7L292.2 344.2M291.3 354.6L292.2 344.2L300.1 351.1M318.2 363.7L309.3 343.6M308.7 354.5L309.3 343.6L317.8 350.5M336.4 363.7L326.4 346.3M326.9 356.3L326.4 346.3L334.8 351.8M354.6 363.7L344.5 347.5M345.3 357.0L344.5 347.5L352.6 352.4M372.8 363.7L362.7 347.5M363.5 357.0L362.7 347.5L370.8 352.4M390.9 363.7L379.4 347.3M380.8 357.2L379.4 347.3L388.2 352.0M409.1 363.7L393.6 348.0M397.0 358.5L393.6 348.0L404.0 351.5M427.3 363.7L409.4 347.6M413.7 358.8L409.4 347.6L421.0 350.7M445.5 363.7L426.9 346.9M431.4 358.6L426.9 346.9L438.9 350.2M463.6 363.7L445.8 347.6M450.1 358.8L445.8 347.6L457.4 350.7M481.8 363.7L465.5 348.9M469.4 359.2L465.5 348.9L476.1 351.8M500.0 363.7L486.7 348.7M489.2 358.4L486.7 348.7L496.0 352.3M518.2 363.7L512.4 347.3M511.3 355.9L512.4 347.3L518.7 353.3M536.3 363.7L534.8 349.3M532.2 356.1L534.8 349.3L538.7 355.4M554.5 363.7L553.1 352.3M551.2 357.7L553.1 352.3L556.3 357.1M572.7 363.7L566.5 354.1M567.1 359.8L566.5 354.1L571.4 356.9M590.9 363.7L580.2 359.7M584.0 363.9L580.2 359.7L585.8 359.0M609.0 363.7L597.8 361.5M602.3 365.0L597.8 361.5L603.3 359.9M627.2 363.7L616.0 361.5M620.5 365.0L616.0 361.5L621.5 359.9M645.4 363.7L634.2 361.5M638.7 365.0L634.2 361.5L639.7 359.9M663.6 363.7L652.4 361.5M656.9 365.0L652.4 361.5L657.8 359.9M681.7 363.7L671.7 361.7M675.7 364.8L671.7 361.7L676.6 360.3M699.9 363.7L689.9 361.7M693.9 364.8L689.9 361.7L694.8 360.3M718.1 363.7L709.4 362.0M712.9 364.7L709.4 362.0L713.7 360.8M736.2 363.7L729.4 362.4M732.1 364.5L729.4 362.4L732.7 361.4M754.4 363.7L747.5 362.6M750.4 364.7L747.5 362.6L750.8 361.5M772.6 363.7L765.7 362.7M768.5 364.7L765.7 362.7L769.0 361.6M790.8 363.7L783.8 362.7M786.7 364.7L783.8 362.7L787.1 361.6M281.9 381.8L276.1 367.5M275.4 375.2L276.1 367.5L281.9 372.6M300.1 381.8L292.2 362.4M291.3 372.8L292.2 362.4L300.1 369.2M318.2 381.8L308.5 359.9M307.8 371.9L308.5 359.9L317.8 367.5M336.4 381.8L324.9 361.9M325.5 373.4L324.9 361.9L334.5 368.2M354.6 381.8L344.0 364.9M344.8 374.8L344.0 364.9L352.5 370.0M372.8 381.8L362.2 364.9M363.0 374.8L362.2 364.9L370.7 370.0M390.9 381.8L379.4 365.5M380.8 375.4L379.4 365.5L388.2 370.1M409.1 381.8L393.6 366.2M397.0 376.7L393.6 366.2L404.0 369.7M427.3 381.8L409.4 365.8M413.7 377.0L409.4 365.8L421.0 368.9M445.5 381.8L426.9 365.1M431.4 376.8L426.9 365.1L438.9 368.3M463.6 381.8L445.0 365.1M449.5 376.8L445.0 365.1L457.1 368.3M481.8 381.8L464.7 366.4M468.8 377.2L464.7 366.4L475.8 369.4M500.0 381.8L486.0 366.1M488.7 376.3L486.0 366.1L495.8 370.0M518.2 381.8L511.8 363.9M510.6 373.3L511.8 363.9L518.7 370.5M536.3 381.8L534.7 366.5M532.0 373.7L534.7 366.5L538.9 373.0M554.5 381.8L553.0 369.5M550.9 375.3L553.0 369.5L556.5 374.7M572.7 381.8L566.3 371.2M566.7 377.4L566.3 371.2L571.6 374.5M590.9 381.8L581.2 375.8M584.1 380.7L581.2 375.8L586.8 376.3M609.0 381.8L597.8 376.6M601.6 381.5L597.8 376.6L604.0 376.4M627.2 381.8L616.0 376.6M619.8 381.5L616.0 376.6L622.2 376.4M645.4 381.8L635.0 377.0M638.6 381.5L635.0 377.0L640.7 376.8M663.6 381.8L653.2 377.0M656.7 381.5L653.2 377.0L658.9 376.8M681.7 381.8L672.5 377.5M675.6 381.5L672.5 377.5L677.6 377.3M699.9 381.8L690.7 377.5M693.8 381.5L690.7 377.5L695.8 377.3M718.1 381.8L710.1 378.1M712.8 381.6L710.1 378.1L714.5 378.0M736.2 381.8L728.2 378.3M731.0 381.7L728.2 378.3L732.6 378.1M754.4 381.8L747.7 379.9M750.3 382.3L747.7 379.9L751.1 379.2M772.6 381.8L765.8 380.1M768.4 382.4L765.8 380.1L769.2 379.3M790.8 381.8L784.0 380.1M786.6 382.4L784.0 380.1L787.4 379.3M281.9 400.0L276.1 385.7M275.4 393.4L276.1 385.7L281.9 390.8M300.1 400.0L292.6 381.5M291.7 391.4L292.6 381.5L300.1 388.0M318.2 400.0L308.5 378.1M307.8 390.1L308.5 378.1L317.8 385.6M336.4 400.0L324.4 379.2M325.0 391.2L324.4 379.2L334.5 385.8M354.6 400.0L342.4 380.5M343.4 392.0L342.4 380.5L352.2 386.4M372.8 400.0L362.2 383.0M363.0 393.0L362.2 383.0L370.7 388.2M390.9 400.0L379.4 383.7M380.8 393.6L379.4 383.7L388.2 388.3M409.1 400.0L394.3 385.1M397.5 395.1L394.3 385.1L404.3 388.4M427.3 400.0L410.9 385.3M414.9 395.5L410.9 385.3L421.6 388.1M445.5 400.0L427.6 383.9M431.9 395.1L427.6 383.9L439.2 387.0M463.6 400.0L445.0 383.3M449.5 394.9L445.0 383.3L457.1 386.5M481.8 400.0L463.2 383.3M467.7 394.9L463.2 383.3L475.3 386.5M500.0 400.0L484.0 382.0M487.1 393.7L484.0 382.0L495.2 386.4M518.2 400.0L510.2 377.4M508.6 389.3L510.2 377.4L518.9 385.6M536.3 400.0L534.2 380.1M530.7 389.4L534.2 380.1L539.7 388.5M554.5 400.0L552.5 382.8M549.5 390.9L552.5 382.8L557.3 390.0M572.7 400.0L565.7 386.3M565.7 394.0L565.7 386.3L571.9 390.8M590.9 400.0L581.4 390.5M583.5 396.9L581.4 390.5L587.8 392.6M609.0 400.0L598.9 391.2M601.4 397.4L598.9 391.2L605.4 392.8M627.2 400.0L617.8 391.9M620.2 397.6L617.8 391.9L623.9 393.4M645.4 400.0L636.0 391.9M638.3 397.6L636.0 391.9L642.0 393.4M663.6 400.0L654.2 391.9M656.5 397.6L654.2 391.9L660.2 393.4M681.7 400.0L673.1 392.5M675.3 397.8L673.1 392.5L678.6 393.9M699.9 400.0L692.2 393.3M694.1 398.0L692.2 393.3L697.1 394.5M718.1 400.0L710.4 393.3M712.3 398.0L710.4 393.3L715.3 394.5M736.2 400.0L729.5 394.3M731.2 398.4L729.5 394.3L733.8 395.3M754.4 400.0L747.5 394.5M749.4 398.5L747.5 394.5L751.9 395.4M772.6 400.0L767.1 395.7M768.6 398.9L767.1 395.7L770.5 396.4M790.8 400.0L785.2 395.7M786.7 398.9L785.2 395.7L788.7 396.4M300.1 418.2L294.7 404.8M294.0 412.0L294.7 404.8L300.1 409.5M318.2 418.2L311.4 402.8M310.9 411.2L311.4 402.8L317.9 408.1M336.4 418.2L325.9 400.0M326.4 410.5L325.9 400.0L334.7 405.7M354.6 418.2L342.4 398.7M343.4 410.1L342.4 398.7L352.2 404.6M372.8 418.2L361.1 399.5M362.1 410.5L361.1 399.5L370.5 405.2M390.9 418.2L379.5 401.7M380.9 411.6L379.5 401.7L388.3 406.5M409.1 418.2L395.4 403.6M398.2 413.2L395.4 403.6L404.8 407.0M427.3 418.2L412.9 404.3M416.1 413.7L412.9 404.3L422.5 407.2M445.5 418.2L430.3 403.6M433.8 413.5L430.3 403.6L440.4 406.7M463.6 418.2L447.1 402.2M450.8 413.1L447.1 402.2L458.1 405.6M481.8 418.2L464.5 401.5M468.4 412.9L464.5 401.5L476.0 405.0M500.0 418.2L483.9 399.0M486.7 411.2L483.9 399.0L495.4 403.9M518.2 418.2L510.0 394.5M508.3 406.9L510.0 394.5L519.0 403.2M536.3 418.2L533.7 393.3M529.2 405.0L533.7 393.3L540.5 403.8M554.5 418.2L552.3 396.3M548.3 406.5L552.3 396.3L558.2 405.5M572.7 418.2L565.7 399.4M564.5 409.4L565.7 399.4L573.0 406.2M590.9 418.2L581.3 401.8M581.8 411.2L581.3 401.8L589.3 406.9M609.0 418.2L599.0 402.1M599.8 411.5L599.0 402.1L607.1 407.0M627.2 418.2L618.0 403.5M618.8 412.1L618.0 403.5L625.5 407.9M645.4 418.2L637.2 405.1M637.9 412.8L637.2 405.1L643.8 409.1M663.6 418.2L656.5 406.8M657.0 413.5L656.5 406.8L662.2 410.3M681.7 418.2L675.2 407.7M675.7 413.8L675.2 407.7L680.5 410.9M699.9 418.2L693.3 407.7M693.9 413.8L693.3 407.7L698.6 410.9M718.1 418.2L711.5 407.7M712.0 413.8L711.5 407.7L716.8 410.9M736.2 418.2L730.2 408.5M730.7 414.2L730.2 408.5L735.1 411.4M754.4 418.2L749.0 409.5M749.5 414.6L749.0 409.5L753.4 412.2M772.6 418.2L767.2 409.5M767.6 414.6L767.2 409.5L771.6 412.2M790.8 418.2L786.1 410.7M786.5 415.1L786.1 410.7L789.9 413.0M336.4 436.4L326.5 419.0M327.0 429.0L326.5 419.0L334.8 424.5M354.6 436.4L343.7 418.4M344.5 428.9L343.7 418.4L352.6 423.9M372.8 436.4L361.9 418.4M362.6 428.9L361.9 418.4L370.8 423.9M390.9 436.4L380.2 419.5M381.1 429.5L380.2 419.5L388.8 424.6M409.1 436.4L397.2 420.3M398.8 430.2L397.2 420.3L406.1 424.7M427.3 436.4L415.0 420.6M416.9 430.4L415.0 420.6L424.0 424.8M445.5 436.4L433.1 420.6M435.0 430.4L433.1 420.6L442.2 424.8M463.6 436.4L451.3 420.6M453.2 430.4L451.3 420.6L460.4 424.8M481.8 436.4L467.6 418.2M469.8 429.5L467.6 418.2L478.1 423.1M500.0 436.4L486.7 416.4M488.1 428.3L486.7 416.4L497.1 422.3M518.2 436.4L510.7 414.6M509.1 426.0L510.7 414.6L519.0 422.6M536.3 436.4L532.8 413.6M529.2 424.5L532.8 413.6L539.5 423.0M554.5 436.4L551.1 412.6M547.2 423.9L551.1 412.6L558.0 422.4M572.7 436.4L564.7 412.6M562.9 425.0L564.7 412.6L573.6 421.4M590.9 436.4L581.2 412.2M580.0 425.2L581.2 412.2L591.0 420.8M609.0 436.4L599.6 412.1M598.3 425.1L599.6 412.1L609.3 420.8M627.2 436.4L618.7 412.8M617.2 425.2L618.7 412.8L627.9 421.4M645.4 436.4L639.2 418.4M637.9 427.8L639.2 418.4L646.0 425.0M663.6 436.4L658.1 420.4M656.9 428.8L658.1 420.4L664.1 426.3M681.7 436.4L676.7 421.8M675.6 429.4L676.7 421.8L682.2 427.1M699.9 436.4L695.2 422.7M694.2 429.9L695.2 422.7L700.4 427.7M718.1 436.4L713.7 423.7M712.8 430.3L713.7 423.7L718.5 428.3M736.2 436.4L732.2 424.6M731.3 430.8L732.2 424.6L736.7 428.9M754.4 436.4L750.4 424.6M749.5 430.8L750.4 424.6L754.8 428.9M772.6 436.4L768.9 425.6M768.1 431.2L768.9 425.6L773.0 429.5M790.8 436.4L787.1 425.6M786.3 431.2L787.1 425.6L791.2 429.5M336.4 454.5L327.4 437.8M327.6 447.3L327.4 437.8L335.2 443.2M354.6 454.5L345.4 437.9M345.7 447.4L345.4 437.9L353.3 443.2M372.8 454.5L363.6 437.9M363.9 447.4L363.6 437.9L371.5 443.2M390.9 454.5L381.7 437.9M382.0 447.4L381.7 437.9L389.6 443.2M409.1 454.5L399.7 438.0M400.1 447.5L399.7 438.0L407.6 443.2M427.3 454.5L417.8 438.1M418.3 447.6L417.8 438.1L425.7 443.2M445.5 454.5L436.0 438.1M436.4 447.6L436.0 438.1L443.9 443.2M463.6 454.5L454.1 438.1M454.6 447.6L454.1 438.1L462.1 443.2M481.8 454.5L471.8 437.2M472.3 447.2L471.8 437.2L480.2 442.7M500.0 454.5L491.2 437.7M491.3 447.2L491.2 437.7L498.9 443.2M518.2 454.5L512.0 438.3M511.1 446.9L512.0 438.3L518.4 444.1M536.3 454.5L531.0 437.3M529.5 446.2L531.0 437.3L537.3 443.8M554.5 454.5L548.8 436.4M547.2 445.8L548.8 436.4L555.5 443.2M572.7 454.5L565.4 433.8M563.9 444.6L565.4 433.8L573.4 441.4M590.9 454.5L582.6 432.0M581.2 443.9L582.6 432.0L591.4 440.2M609.0 454.5L601.1 429.8M599.0 442.6L601.1 429.8L610.2 439.0M627.2 454.5L622.6 428.9M618.8 441.4L622.6 428.9L630.4 439.3M645.4 454.5L641.9 429.8M637.8 441.6L641.9 429.8L649.1 440.0M663.6 454.5L660.2 430.8M656.3 442.1L660.2 430.8L667.1 440.6M681.7 454.5L678.9 434.7M675.7 444.2L678.9 434.7L684.7 442.9M699.9 454.5L697.6 437.8M694.8 445.8L697.6 437.8L702.4 444.7M718.1 454.5L715.8 438.3M713.1 446.0L715.8 438.3L720.5 445.0M736.2 454.5L734.1 439.3M731.6 446.6L734.1 439.3L738.5 445.6M754.4 454.5L752.4 440.3M750.1 447.1L752.4 440.3L756.6 446.2M772.6 454.5L770.7 441.3M768.6 447.6L770.7 441.3L774.6 446.7M790.8 454.5L789.1 442.2M787.0 448.1L789.1 442.2L792.6 447.3M336.4 472.7L328.6 457.2M328.6 465.9L328.6 457.2L335.6 462.4M354.6 472.7L346.8 457.2M346.7 465.9L346.8 457.2L353.8 462.4M372.8 472.7L364.9 457.2M364.9 465.9L364.9 457.2L371.9 462.4M390.9 472.7L383.1 457.2M383.1 465.9L383.1 457.2L390.1 462.4M409.1 472.7L401.3 457.2M401.3 465.9L401.3 457.2L408.3 462.4M427.3 472.7L419.5 457.2M419.4 465.9L419.5 457.2L426.5 462.4M445.5 472.7L437.6 457.2M437.6 465.9L437.6 457.2L444.6 462.4M463.6 472.7L455.8 457.2M455.8 465.9L455.8 457.2L462.8 462.4M481.8 472.7L474.0 457.2M474.0 465.9L474.0 457.2L481.0 462.4M500.0 472.7L492.5 457.1M492.3 465.7L492.5 457.1L499.4 462.3M518.2 472.7L511.9 456.6M511.0 465.2L511.9 456.6L518.3 462.3M536.3 472.7L530.2 455.8M529.1 464.7L530.2 455.8L536.8 461.9M554.5 472.7L548.0 454.8M546.8 464.3L548.0 454.8L554.9 461.3M572.7 472.7L565.8 453.9M564.6 463.8L565.8 453.9L573.1 460.7M590.9 472.7L583.3 452.0M582.0 462.9L583.3 452.0L591.4 459.5M609.0 472.7L602.3 450.7M600.3 462.0L602.3 450.7L610.3 459.0M627.2 472.7L623.7 447.9M619.7 459.8L623.7 447.9L630.9 458.2M645.4 472.7L643.2 447.8M638.5 459.4L643.2 447.8L649.8 458.4M663.6 472.7L661.4 447.8M656.7 459.4L661.4 447.8L668.0 458.4M681.7 472.7L679.6 448.8M675.1 459.9L679.6 448.8L686.0 459.0M699.9 472.7L697.9 449.8M693.6 460.5L697.9 449.8L704.0 459.5M718.1 472.7L716.3 452.8M712.6 462.0L716.3 452.8L721.6 461.3M736.2 472.7L734.8 455.9M731.6 463.7L734.8 455.9L739.2 463.1M754.4 472.7L753.1 457.4M750.2 464.5L753.1 457.4L757.2 463.9M772.6 472.7L771.3 458.4M768.6 465.0L771.3 458.4L775.2 464.5M790.8 472.7L789.5 458.4M786.8 465.0L789.5 458.4L793.3 464.5M318.2 490.9L313.3 479.5M312.9 485.7L313.3 479.5L318.1 483.4M336.4 490.9L330.3 476.7M329.8 484.4L330.3 476.7L336.2 481.6M354.6 490.9L348.5 476.7M348.0 484.4L348.5 476.7L354.4 481.6M372.8 490.9L366.6 476.7M366.2 484.4L366.6 476.7L372.6 481.6M390.9 490.9L384.5 475.8M383.9 484.0L384.5 475.8L390.8 481.0M409.1 490.9L403.2 476.6M402.6 484.3L403.2 476.6L409.1 481.6M427.3 490.9L421.5 476.6M420.8 484.3L421.5 476.6L427.3 481.6M445.5 490.9L439.7 476.6M439.0 484.3L439.7 476.6L445.5 481.6M463.6 490.9L457.5 475.7M456.8 483.8L457.5 475.7L463.7 481.0M481.8 490.9L475.3 474.8M474.6 483.4L475.3 474.8L481.8 480.5M500.0 490.9L493.7 474.7M492.8 483.3L493.7 474.7L500.2 480.5M518.2 490.9L512.5 474.5M511.3 483.1L512.5 474.5L518.8 480.5M536.3 490.9L530.8 473.8M529.4 482.6L530.8 473.8L537.1 480.1M554.5 490.9L548.9 473.8M547.5 482.6L548.9 473.8L555.3 480.1M572.7 490.9L566.8 472.8M565.3 482.2L566.8 472.8L573.5 479.5M590.9 490.9L585.0 472.8M583.5 482.2L585.0 472.8L591.7 479.5M609.0 490.9L604.0 472.6M602.1 481.9L604.0 472.6L610.4 479.6M627.2 490.9L624.8 471.0M621.3 480.4L624.8 471.0L630.3 479.3M645.4 490.9L643.8 469.9M639.7 479.6L643.8 469.9L649.2 478.9M663.6 490.9L661.9 468.9M657.6 479.1L661.9 468.9L667.6 478.3M681.7 490.9L680.0 467.9M675.5 478.6L680.0 467.9L686.0 477.8M699.9 490.9L698.1 467.9M693.7 478.6L698.1 467.9L704.1 477.8M718.1 490.9L716.3 467.9M711.9 478.6L716.3 467.9L722.3 477.8M736.2 490.9L734.8 471.9M731.1 480.7L734.8 471.9L739.7 480.0M754.4 490.9L753.1 474.1M749.9 481.8L753.1 474.1L757.5 481.3M772.6 490.9L771.4 475.5M768.5 482.6L771.4 475.5L775.4 482.1M790.8 490.9L789.6 475.5M786.6 482.6L789.6 475.5L793.6 482.1M300.1 509.1L294.5 495.8M293.9 503.0L294.5 495.8L300.0 500.4M318.2 509.1L312.6 495.8M312.1 503.0L312.6 495.8L318.1 500.4M336.4 509.1L330.8 495.8M330.3 503.0L330.8 495.8L336.3 500.4M354.6 509.1L349.8 497.6M349.3 503.8L349.8 497.6L354.5 501.6M372.8 509.1L368.3 498.5M367.9 504.2L368.3 498.5L372.7 502.2M390.9 509.1L386.3 497.5M385.8 503.7L386.3 497.5L391.0 501.6M409.1 509.1L405.2 497.3M404.3 503.4L405.2 497.3L409.6 501.6M427.3 509.1L423.6 497.2M422.6 503.3L423.6 497.2L427.9 501.6M445.5 509.1L441.8 497.2M440.7 503.3L441.8 497.2L446.1 501.6M463.6 509.1L459.4 495.3M458.1 502.4L459.4 495.3L464.4 500.5M481.8 509.1L477.5 495.3M476.3 502.4L477.5 495.3L482.6 500.5M500.0 509.1L496.0 495.2M494.6 502.3L496.0 495.2L500.9 500.5M518.2 509.1L514.7 494.0M512.8 501.5L514.7 494.0L519.6 499.9M536.3 509.1L533.1 494.0M531.1 501.4L533.1 494.0L538.0 500.0M554.5 509.1L551.1 493.0M549.0 500.9L551.1 493.0L556.3 499.4M572.7 509.1L569.3 493.0M567.1 500.9L569.3 493.0L574.4 499.4M590.9 509.1L587.3 492.6M585.2 500.7L587.3 492.6L592.7 499.1M609.0 509.1L606.1 492.4M603.6 500.5L606.1 492.4L611.2 499.2M627.2 509.1L625.9 492.2M622.6 500.0L625.9 492.2L630.3 499.4M645.4 509.1L644.6 491.7M641.0 499.6L644.6 491.7L648.9 499.3M663.6 509.1L662.7 491.1M659.0 499.3L662.7 491.1L667.2 498.9M681.7 509.1L680.9 490.1M676.9 498.7L680.9 490.1L685.6 498.3M699.9 509.1L699.0 489.1M694.9 498.2L699.0 489.1L703.9 497.8M718.1 509.1L717.1 488.1M712.8 497.6L717.1 488.1L722.3 497.2M736.2 509.1L735.3 489.1M731.2 498.2L735.3 489.1L740.3 497.8M754.4 509.1L753.6 491.1M749.9 499.3L753.6 491.1L758.1 498.9M772.6 509.1L771.8 491.7M768.2 499.6L771.8 491.7L776.1 499.3M790.8 509.1L790.0 492.2M786.5 499.9L790.0 492.2L794.2 499.5M281.9 527.2L274.1 509.9M273.6 519.4L274.1 509.9L281.5 515.8M300.1 527.2L292.3 509.9M291.8 519.4L292.3 509.9L299.7 515.8M318.2 527.2L311.2 511.4M310.7 520.0L311.2 511.4L317.9 516.8M336.4 527.2L329.6 511.8M329.1 520.2L329.6 511.8L336.1 517.1M354.6 527.2L348.4 513.1M348.0 520.8L348.4 513.1L354.4 518.0M372.8 527.2L367.0 514.0M366.6 521.2L367.0 514.0L372.5 518.6M390.9 527.2L385.6 513.9M384.9 521.0L385.6 513.9L391.0 518.6M409.1 527.2L405.5 515.3M404.4 521.4L405.5 515.3L409.8 519.8M427.3 527.2L424.1 515.2M422.8 521.3L424.1 515.2L428.2 519.9M445.5 527.2L442.3 515.2M441.0 521.3L442.3 515.2L446.4 519.9M463.6 527.2L460.7 516.2M459.5 521.8L460.7 516.2L464.5 520.5M481.8 527.2L478.9 516.2M477.7 521.8L478.9 516.2L482.7 520.5M500.0 527.2L497.5 516.1M496.1 521.6L497.5 516.1L501.1 520.5M518.2 527.2L516.9 515.9M514.9 521.2L516.9 515.9L520.0 520.7M536.3 527.2L535.5 515.9M533.3 521.1L535.5 515.9L538.5 520.7M554.5 527.2L553.7 515.9M551.5 521.1L553.7 515.9L556.6 520.7M572.7 527.2L571.9 515.9M569.6 521.1L571.9 515.9L574.8 520.7M590.9 527.2L590.0 515.9M587.8 521.1L590.0 515.9L593.0 520.7M609.0 527.2L608.5 514.8M605.9 520.5L608.5 514.8L611.5 520.2M627.2 527.2L627.8 513.8M624.5 519.7L627.8 513.8L630.6 519.9M645.4 527.2L646.4 512.9M642.7 519.0L646.4 512.9L649.2 519.5M663.6 527.2L664.8 510.9M660.5 517.9L664.8 510.9L667.9 518.4M681.7 527.2L683.0 509.9M678.5 517.4L683.0 509.9L686.4 517.9M699.9 527.2L700.8 508.2M696.1 516.5L700.8 508.2L704.7 516.9M718.1 527.2L718.0 508.2M713.7 516.7L718.0 508.2L722.4 516.7M736.2 527.2L735.7 508.2M731.6 516.8L735.7 508.2L740.3 516.6M754.4 527.2L753.9 507.2M749.6 516.3L753.9 507.2L758.7 516.0M772.6 527.2L772.0 507.2M767.8 516.3L772.0 507.2L776.8 516.0M790.8 527.2L790.2 508.2M786.2 516.8L790.2 508.2L794.8 516.6M263.7 545.4L255.8 530.0M255.8 538.6L255.8 530.0L262.8 535.1M281.9 545.4L272.8 527.6M272.8 537.6L272.8 527.6L280.9 533.5M300.1 545.4L291.0 527.6M291.0 537.6L291.0 527.6L299.1 533.5M318.2 545.4L309.2 527.5M309.2 537.5L309.2 527.5L317.3 533.5M336.4 545.4L328.2 528.3M327.9 537.8L328.2 528.3L335.7 534.0M354.6 545.4L346.4 528.2M346.2 537.7L346.4 528.2L354.0 534.0M372.8 545.4L365.0 529.1M364.8 538.1L365.0 529.1L372.2 534.6M390.9 545.4L384.2 529.4M383.6 538.1L384.2 529.4L390.8 535.0M409.1 545.4L405.3 530.5M403.6 538.0L405.3 530.5L410.4 536.3M427.3 545.4L424.1 530.3M422.1 537.8L424.1 530.3L429.0 536.3M445.5 545.4L442.5 531.3M440.6 538.3L442.5 531.3L447.0 536.9M463.6 545.4L460.9 532.3M459.1 538.7L460.9 532.3L465.1 537.5M481.8 545.4L479.3 533.3M477.6 539.2L479.3 533.3L483.1 538.1M500.0 545.4L498.5 534.1M496.6 539.5L498.5 534.1L501.7 538.8M518.2 545.4L519.7 534.1M516.4 538.8L519.7 534.1L521.6 539.5M536.3 545.4L538.5 535.4M535.2 539.4L538.5 535.4L539.8 540.4M554.5 545.4L556.0 538.6M553.8 541.3L556.0 538.6L556.9 541.9M572.7 545.4L573.8 540.3M572.1 542.3L573.8 540.3L574.4 542.8M590.9 545.4L591.7 541.5M590.4 543.0L591.7 541.5L592.2 543.4M609.0 545.4L610.1 541.5M608.7 543.0L610.1 541.5L610.5 543.5M627.2 545.4L629.9 538.9M627.2 541.2L629.9 538.9L630.2 542.4M645.4 545.4L649.2 537.5M645.7 540.1L649.2 537.5L649.3 541.9M663.6 545.4L668.0 536.2M663.9 539.3L668.0 536.2L668.1 541.3M681.7 545.4L687.1 534.2M682.2 538.0L687.1 534.2L687.3 540.4M699.9 545.4L705.1 533.0M700.0 537.4L705.1 533.0L705.6 539.7M718.1 545.4L720.8 530.3M716.2 536.4L720.8 530.3L723.0 537.6M736.2 545.4L738.4 528.7M733.6 535.6L738.4 528.7L741.2 536.6M754.4 545.4L756.7 527.5M751.6 535.0L756.7 527.5L759.7 536.0M772.6 545.4L775.0 526.6M769.7 534.4L775.0 526.6L778.2 535.5M790.8 545.4L793.2 526.6M787.8 534.4L793.2 526.6L796.4 535.5M245.5 563.6L236.7 546.8M236.8 556.3L236.7 546.8L244.4 552.2M263.7 563.6L253.0 543.2M253.1 554.7L253.0 543.2L262.4 549.9M281.9 563.6L271.6 544.1M271.8 555.1L271.6 544.1L280.6 550.5M300.1 563.6L289.8 544.1M289.9 555.1L289.8 544.1L298.8 550.5M318.2 563.6L308.6 544.9M308.6 555.4L308.6 544.9L317.1 551.0M336.4 563.6L327.6 545.6M327.5 555.6L327.6 545.6L335.6 551.6M354.6 563.6L345.9 545.5M345.7 555.5L345.9 545.5L353.9 551.6M372.8 563.6L364.5 546.4M364.3 555.9L364.5 546.4L372.1 552.2M390.9 563.6L384.2 547.6M383.6 556.2L384.2 547.6L390.8 553.2M409.1 563.6L404.9 547.3M403.0 555.5L404.9 547.3L410.4 553.6M427.3 563.6L423.8 547.1M421.6 555.2L423.8 547.1L429.1 553.6M445.5 563.6L442.3 548.5M440.3 555.9L442.3 548.5L447.1 554.5M463.6 563.6L460.5 548.5M458.5 555.9L460.5 548.5L465.3 554.5M481.8 563.6L478.7 548.5M476.6 555.9L478.7 548.5L483.5 554.5M500.0 563.6L497.8 548.3M495.3 555.6L497.8 548.3L502.2 554.6M518.2 563.6L519.2 549.2M515.5 555.4L519.2 549.2L522.0 555.9M536.3 563.6L538.7 550.4M534.6 555.7L538.7 550.4L540.6 556.8M554.5 563.6L557.5 551.5M553.4 556.2L557.5 551.5L558.9 557.6M572.7 563.6L575.8 552.6M571.9 556.8L575.8 552.6L576.9 558.2M590.9 563.6L593.7 553.8M590.2 557.5L593.7 553.8L594.6 558.8M609.0 563.6L612.0 555.3M608.8 558.3L612.0 555.3L612.5 559.6M627.2 563.6L629.4 560.2M627.6 561.2L629.4 560.2L629.2 562.2M645.4 563.6L647.9 560.4M646.0 561.3L647.9 560.4L647.5 562.4M663.6 563.6L665.6 561.4M664.2 561.9L665.6 561.4L665.2 562.8M681.7 563.6L684.6 560.8M682.7 561.4L684.6 560.8L684.0 562.7M699.9 563.6L703.6 559.9M701.1 560.7L703.6 559.9L702.8 562.4M718.1 563.6L724.0 557.1M719.9 558.6L724.0 557.1L722.8 561.3M736.2 563.6L743.7 554.9M738.4 557.1L743.7 554.9L742.3 560.5M754.4 563.6L763.2 553.4M757.0 556.0L763.2 553.4L761.6 559.9M772.6 563.6L782.0 552.7M775.3 555.4L782.0 552.7L780.3 559.7M790.8 563.6L801.5 551.2M793.9 554.3L801.5 551.2L799.5 559.1M209.2 581.8L200.6 564.8M200.6 574.3L200.6 564.8L208.3 570.4M227.4 581.8L217.4 562.1M217.4 573.1L217.4 562.1L226.3 568.6M245.5 581.8L234.7 560.3M234.7 572.3L234.7 560.3L244.4 567.4M263.7 581.8L252.4 559.4M252.4 571.9L252.4 559.4L262.5 566.8M281.9 581.8L271.1 560.3M271.0 572.3L271.1 560.3L280.7 567.4M300.1 581.8L289.7 561.2M289.6 572.7L289.7 561.2L299.0 568.0M318.2 581.8L308.5 562.0M308.4 573.0L308.5 562.0L317.3 568.6M336.4 581.8L327.8 562.6M327.3 573.1L327.8 562.6L336.0 569.2M354.6 581.8L346.6 563.4M346.0 573.4L346.6 563.4L354.3 569.8M372.8 581.8L365.1 564.3M364.6 573.8L365.1 564.3L372.5 570.4M390.9 581.8L384.7 565.6M383.8 574.2L384.7 565.6L391.1 571.4M409.1 581.8L405.3 565.3M403.2 573.5L405.3 565.3L410.7 571.8M427.3 581.8L424.4 566.6M422.3 574.0L424.4 566.6L429.1 572.7M445.5 581.8L442.6 566.6M440.4 574.0L442.6 566.6L447.3 572.7M463.6 581.8L460.9 566.6M458.7 574.0L460.9 566.6L465.5 572.7M481.8 581.8L479.2 566.6M476.9 573.9L479.2 566.6L483.8 572.7M500.0 581.8L497.7 566.5M495.3 573.8L497.7 566.5L502.2 572.8M518.2 581.8L516.3 565.0M513.3 572.9L516.3 565.0L520.9 572.0M536.3 581.8L536.0 564.9M532.3 572.5L536.0 564.9L540.0 572.3M554.5 581.8L558.8 565.9M553.3 572.0L558.8 565.9L560.5 573.9M572.7 581.8L578.1 566.3M572.2 571.9L578.1 566.3L579.2 574.4M590.9 581.8L595.8 568.2M590.5 573.1L595.8 568.2L596.7 575.4M609.0 581.8L613.7 570.2M609.0 574.3L613.7 570.2L614.2 576.4M627.2 581.8L632.0 571.4M627.5 574.9L632.0 571.4L632.2 577.1M645.4 581.8L651.8 572.3M646.8 575.1L651.8 572.3L651.1 578.0M663.6 581.8L672.7 577.2M667.6 577.1L672.7 577.2L669.6 581.3M681.7 581.8L691.4 578.5M686.3 577.7L691.4 578.5L687.8 582.1M699.9 581.8L709.6 578.5M704.5 577.7L709.6 578.5L706.0 582.1M718.1 581.8L727.7 578.5M722.7 577.7L727.7 578.5L724.2 582.1M736.2 581.8L745.9 578.5M740.9 577.7L745.9 578.5L742.4 582.1M754.4 581.8L764.1 578.5M759.0 577.7L764.1 578.5L760.5 582.1M772.6 581.8L782.3 578.5M777.2 577.7L782.3 578.5L778.7 582.1M790.8 581.8L801.6 578.1M795.9 577.3L801.6 578.1L797.6 582.2M136.5 599.9L128.4 582.7M128.1 592.2L128.4 582.7L135.9 588.6M154.7 599.9L146.6 582.7M146.3 592.2L146.6 582.7L154.1 588.6M172.8 599.9L164.4 581.8M164.0 591.8L164.4 581.8L172.3 588.0M191.0 599.9L182.5 581.8M182.2 591.8L182.5 581.8L190.4 588.0M209.2 599.9L199.5 579.1M199.1 590.6L199.5 579.1L208.5 586.2M227.4 599.9L217.6 579.1M217.2 590.6L217.6 579.1L226.7 586.2M245.5 599.9L235.9 579.1M235.4 590.5L235.9 579.1L244.9 586.2M263.7 599.9L254.1 579.0M253.6 590.5L254.1 579.0L263.1 586.2M281.9 599.9L272.6 580.0M272.2 590.9L272.6 580.0L281.3 586.8M300.1 599.9L291.7 581.8M291.3 591.8L291.7 581.8L299.5 588.0M318.2 599.9L309.9 580.6M309.2 591.1L309.9 580.6L318.0 587.3M336.4 599.9L329.7 581.1M328.4 591.0L329.7 581.1L337.0 588.0M354.6 599.9L348.4 580.9M346.8 590.8L348.4 580.9L355.5 588.0M372.8 599.9L366.9 581.9M365.4 591.2L366.9 581.9L373.6 588.6M390.9 599.9L386.1 583.3M384.5 591.8L386.1 583.3L392.0 589.6M409.1 599.9L405.9 583.4M403.6 591.5L405.9 583.4L411.1 590.0M427.3 599.9L424.8 584.7M422.5 592.1L424.8 584.7L429.4 590.9M445.5 599.9L443.0 584.7M440.6 592.1L443.0 584.7L447.5 590.9M463.6 599.9L461.4 584.7M458.9 592.0L461.4 584.7L465.8 591.0M481.8 599.9L480.2 584.6M477.4 591.8L480.2 584.6L484.4 591.1M500.0 599.9L498.6 584.6M495.7 591.7L498.6 584.6L502.7 591.1M518.2 599.9L516.7 583.6M513.6 591.2L516.7 583.6L521.0 590.5M536.3 599.9L535.4 584.6M532.3 591.6L535.4 584.6L539.3 591.2M554.5 599.9L554.7 584.5M551.1 591.3L554.7 584.5L558.1 591.4M572.7 599.9L573.5 585.5M569.9 591.8L573.5 585.5L576.4 592.1M590.9 599.9L592.4 585.6M588.5 591.6L592.4 585.6L595.0 592.3M609.0 599.9L610.9 585.6M606.8 591.6L610.9 585.6L613.3 592.4M627.2 599.9L629.8 583.3M624.9 590.1L629.8 583.3L632.4 591.3M645.4 599.9L650.2 584.2M644.5 590.1L650.2 584.2L651.6 592.3M663.6 599.9L673.4 590.8M666.9 592.7L673.4 590.8L671.1 597.1M681.7 599.9L691.2 593.5M685.5 594.2L691.2 593.5L688.4 598.5M699.9 599.9L708.4 594.2M703.3 594.8L708.4 594.2L705.9 598.7M718.1 599.9L728.4 593.0M722.2 593.7L728.4 593.0L725.3 598.4M736.2 599.9L746.5 593.0M740.4 593.7L746.5 593.0L743.5 598.4M754.4 599.9L765.5 592.4M758.9 593.2L765.5 592.4L762.3 598.3M772.6 599.9L784.5 591.9M777.4 592.7L784.5 591.9L781.0 598.2M790.8 599.9L802.7 591.9M795.6 592.7L802.7 591.9L799.2 598.2M27.4 618.1L20.5 602.2M20.0 610.8L20.5 602.2L27.2 607.7M45.6 618.1L36.9 597.9M36.2 608.9L36.9 597.9L45.3 604.9M63.8 618.1L55.0 597.9M54.3 608.9L55.0 597.9L63.5 604.9M82.0 618.1L73.2 597.9M72.5 608.9L73.2 597.9L81.7 604.9M100.1 618.1L91.4 597.9M90.7 608.9L91.4 597.9L99.9 604.9M118.3 618.1L109.6 597.9M108.9 608.9L109.6 597.9L118.0 604.9M136.5 618.1L127.3 597.0M126.6 608.5L127.3 597.0L136.2 604.3M154.7 618.1L145.5 597.0M144.8 608.5L145.5 597.0L154.4 604.3M172.8 618.1L163.7 597.0M163.0 608.5L163.7 597.0L172.6 604.3M191.0 618.1L181.9 597.0M181.1 608.5L181.9 597.0L190.7 604.3M209.2 618.1L200.0 597.0M199.3 608.5L200.0 597.0L208.9 604.3M227.4 618.1L218.3 597.0M217.5 608.4L218.3 597.0L227.1 604.3M245.5 618.1L237.0 597.8M236.2 608.8L237.0 597.8L245.4 604.9M263.7 618.1L255.2 597.8M254.4 608.8L255.2 597.8L263.6 604.9M281.9 618.1L273.4 597.8M272.6 608.8L273.4 597.8L281.8 604.9M300.1 618.1L292.0 598.7M291.2 609.2L292.0 598.7L300.0 605.5M318.2 618.1L311.4 599.3M310.2 609.2L311.4 599.3L318.7 606.1M336.4 618.1L332.4 598.5M329.8 608.1L332.4 598.5L338.7 606.3M354.6 618.1L351.5 598.3M348.4 607.8L351.5 598.3L357.4 606.4M372.8 618.1L369.8 599.3M366.9 608.3L369.8 599.3L375.4 607.0M390.9 618.1L388.4 601.0M385.6 609.2L388.4 601.0L393.4 608.0M409.1 618.1L407.0 601.4M404.1 609.3L407.0 601.4L411.7 608.3M427.3 618.1L425.3 601.4M422.4 609.3L425.3 601.4L430.0 608.4M445.5 618.1L443.5 601.4M440.5 609.3L443.5 601.4L448.1 608.4M463.6 618.1L461.9 601.3M458.9 609.2L461.9 601.3L466.5 608.4M481.8 618.1L480.9 600.1M477.2 608.3L480.9 600.1L485.4 607.9M500.0 618.1L499.4 600.1M495.6 608.3L499.4 600.1L503.7 608.0M518.2 618.1L517.6 601.2M514.0 608.9L517.6 601.2L521.7 608.6M536.3 618.1L535.8 601.2M532.2 608.9L535.8 601.2L539.9 608.6M554.5 618.1L554.0 601.2M550.4 608.9L554.0 601.2L558.0 608.6M572.7 618.1L572.3 601.7M568.7 609.1L572.3 601.7L576.2 608.9M590.9 618.1L590.6 602.7M587.2 609.6L590.6 602.7L594.2 609.5M609.0 618.1L609.4 603.7M606.0 610.0L609.4 603.7L612.5 610.2M627.2 618.1L629.4 602.9M624.9 609.2L629.4 602.9L631.9 610.1M645.4 618.1L649.0 602.1M643.7 608.4L649.0 602.1L651.0 610.0M663.6 618.1L668.8 602.1M662.8 608.0L668.8 602.1L670.1 610.4M681.7 618.1L687.8 602.4M681.5 608.0L687.8 602.4L688.7 610.7M699.9 618.1L706.1 601.9M699.7 607.7L706.1 601.9L707.0 610.5M718.1 618.1L724.1 602.4M717.9 608.0L724.1 602.4L725.0 610.7M736.2 618.1L742.3 602.4M736.0 608.0L742.3 602.4L743.2 610.7M754.4 618.1L760.5 602.4M754.2 608.0L760.5 602.4L761.4 610.7M772.6 618.1L778.7 602.4M772.4 608.0L778.7 602.4L779.5 610.7M790.8 618.1L796.7 602.8M790.6 608.3L796.7 602.8L797.5 610.9M9.2 636.3L1.4 617.9M0.7 627.8L1.4 617.9L9.1 624.3M27.4 636.3L19.6 617.9M18.9 627.8L19.6 617.9L27.3 624.3M45.6 636.3L37.0 616.0M36.2 627.0L37.0 616.0L45.4 623.1M63.8 636.3L55.2 616.0M54.4 627.0L55.2 616.0L63.6 623.1M82.0 636.3L73.4 616.0M72.6 627.0L73.4 616.0L81.8 623.1M100.1 636.3L91.1 615.1M90.3 626.6L91.1 615.1L99.9 622.5M118.3 636.3L109.3 615.1M108.5 626.6L109.3 615.1L118.1 622.5M136.5 636.3L127.1 614.2M126.3 626.2L127.1 614.2L136.3 621.9M154.7 636.3L145.7 615.1M144.9 626.6L145.7 615.1L154.5 622.5M172.8 636.3L163.4 614.2M162.6 626.2L163.4 614.2L172.6 621.9M191.0 636.3L182.0 615.1M181.2 626.6L182.0 615.1L190.8 622.5M209.2 636.3L199.8 614.2M199.0 626.2L199.8 614.2L209.0 621.9M227.4 636.3L218.4 615.1M217.6 626.5L218.4 615.1L227.2 622.5M245.5 636.3L236.5 614.1M235.5 626.0L236.5 614.1L245.5 621.9M263.7 636.3L254.7 614.0M253.7 626.0L254.7 614.0L263.8 621.9M281.9 636.3L272.9 614.0M271.8 626.0L272.9 614.0L281.9 621.9M300.1 636.3L291.4 614.9M290.4 626.4L291.4 614.9L300.1 622.5M318.2 636.3L310.8 614.5M309.2 625.9L310.8 614.5L319.1 622.5M336.4 636.3L332.9 614.6M329.5 625.0L332.9 614.6L339.4 623.4M354.6 636.3L352.3 614.4M348.3 624.7L352.3 614.4L358.3 623.6M372.8 636.3L370.7 616.4M367.1 625.7L370.7 616.4L376.1 624.8M390.9 636.3L389.2 619.5M386.1 627.4L389.2 619.5L393.8 626.6M409.1 636.3L407.3 619.0M404.2 627.1L407.3 619.0L412.0 626.3M427.3 636.3L425.5 619.0M422.4 627.1L425.5 619.0L430.2 626.3M445.5 636.3L443.7 619.5M440.7 627.4L443.7 619.5L448.3 626.6M463.6 636.3L462.1 618.3M458.7 626.7L462.1 618.3L466.8 626.0M481.8 636.3L481.1 617.3M477.1 625.9L481.1 617.3L485.7 625.6M500.0 636.3L499.6 617.3M495.5 625.8L499.6 617.3L504.1 625.7M518.2 636.3L517.8 617.3M513.7 625.8L517.8 617.3L522.3 625.7M536.3 636.3L536.0 617.3M531.8 625.8L536.0 617.3L540.5 625.7M554.5 636.3L554.2 618.3M550.2 626.4L554.2 618.3L558.4 626.2M572.7 636.3L572.4 619.0M568.6 626.7L572.4 619.0L576.4 626.6M590.9 636.3L590.6 619.4M586.9 627.0L590.6 619.4L594.5 626.9M609.0 636.3L609.5 619.4M605.5 626.8L609.5 619.4L613.1 627.0M627.2 636.3L630.0 619.6M625.0 626.4L630.0 619.6L632.5 627.7M645.4 636.3L648.8 620.2M643.6 626.6L648.8 620.2L650.9 628.2M663.6 636.3L666.8 621.2M661.9 627.2L666.8 621.2L668.7 628.6M681.7 636.3L684.9 621.2M680.1 627.2L684.9 621.2L686.9 628.6M699.9 636.3L702.9 622.2M698.4 627.8L702.9 622.2L704.8 629.1M718.1 636.3L721.3 621.2M716.4 627.2L721.3 621.2L723.3 628.6M736.2 636.3L739.7 620.2M734.5 626.6L739.7 620.2L741.8 628.2M754.4 636.3L758.0 619.3M752.6 626.1L758.0 619.3L760.3 627.7M772.6 636.3L776.3 618.7M770.7 625.7L776.3 618.7L778.7 627.4M790.8 636.3L794.4 619.3M788.9 626.1L794.4 619.3L796.6 627.7M9.2 654.5L1.8 635.9M0.9 645.9L1.8 635.9L9.3 642.5M27.4 654.5L19.6 635.0M18.6 645.4L19.6 635.0L27.5 641.9M45.6 654.5L37.7 635.0M36.8 645.4L37.7 635.0L45.7 641.9M63.8 654.5L55.9 635.0M55.0 645.4L55.9 635.0L63.8 641.9M82.0 654.5L74.1 635.0M73.2 645.4L74.1 635.0L82.0 641.9M100.1 654.5L92.3 635.0M91.3 645.4L92.3 635.0L100.2 641.9M118.3 654.5L110.8 635.9M109.9 645.9L110.8 635.9L118.4 642.5M136.5 654.5L128.6 635.0M127.7 645.4L128.6 635.0L136.5 641.9M154.7 654.5L146.8 635.0M145.9 645.4L146.8 635.0L154.7 641.9M172.8 654.5L165.0 635.0M164.0 645.4L165.0 635.0L172.9 641.9M191.0 654.5L182.8 634.1M181.8 645.0L182.8 634.1L191.1 641.3M209.2 654.5L201.3 635.0M200.4 645.4L201.3 635.0L209.2 641.9M227.4 654.5L219.7 634.9M218.7 645.3L219.7 634.9L227.6 641.9M245.5 654.5L238.2 633.7M236.7 644.6L238.2 633.7L246.1 641.3M263.7 654.5L256.3 632.7M254.6 644.1L256.3 632.7L264.5 640.7M281.9 654.5L274.5 632.7M272.8 644.1L274.5 632.7L282.7 640.7M300.1 654.5L292.3 631.7M290.6 643.6L292.3 631.7L300.9 640.1M318.2 654.5L311.3 630.4M308.9 642.7L311.3 630.4L319.8 639.6M336.4 654.5L333.1 629.7M329.0 641.4L333.1 629.7L340.2 640.0M354.6 654.5L352.5 629.5M347.8 641.1L352.5 629.5L359.1 640.2M372.8 654.5L370.7 630.5M366.2 641.6L370.7 630.5L377.1 640.7M390.9 654.5L389.1 632.5M384.9 642.7L389.1 632.5L394.9 641.9M409.1 654.5L407.4 634.5M403.6 643.8L407.4 634.5L412.7 643.0M427.3 654.5L425.6 634.5M421.8 643.8L425.6 634.5L430.9 643.0M445.5 654.5L443.8 634.5M440.0 643.8L443.8 634.5L449.0 643.0M463.6 654.5L462.2 633.5M458.1 643.2L462.2 633.5L467.6 642.5M481.8 654.5L481.5 633.5M476.8 642.9L481.5 633.5L486.4 642.7M500.0 654.5L500.0 633.5M495.2 642.8L500.0 633.5L504.7 642.8M518.2 654.5L518.1 634.5M513.6 643.4L518.1 634.5L522.7 643.4M536.3 654.5L536.3 634.5M531.8 643.4L536.3 634.5L540.9 643.4M554.5 654.5L554.5 634.5M550.0 643.4L554.5 634.5L559.0 643.4M572.7 654.5L572.7 635.5M568.4 643.9L572.7 635.5L577.0 643.9M590.9 654.5L590.8 635.5M586.5 643.9L590.8 635.5L595.2 643.9M609.0 654.5L609.9 635.5M605.2 643.7L609.9 635.5L613.8 644.1M627.2 654.5L630.3 637.9M625.2 644.6L630.3 637.9L632.7 646.0M645.4 654.5L649.2 638.0M643.8 644.5L649.2 638.0L651.2 646.2M663.6 654.5L667.4 638.0M662.0 644.5L667.4 638.0L669.4 646.2M681.7 654.5L685.6 638.0M680.1 644.5L685.6 638.0L687.6 646.2M699.9 654.5L703.8 638.0M698.3 644.5L703.8 638.0L705.8 646.2M718.1 654.5L721.9 638.0M716.5 644.5L721.9 638.0L723.9 646.2M736.2 654.5L740.1 638.0M734.7 644.5L740.1 638.0L742.1 646.2M754.4 654.5L758.3 638.0M752.8 644.5L758.3 638.0L760.3 646.2M772.6 654.5L776.5 638.0M771.0 644.5L776.5 638.0L778.5 646.2M790.8 654.5L794.6 638.0M789.2 644.5L794.6 638.0L796.6 646.2M9.2 672.6L2.7 653.7M1.3 663.6L2.7 653.7L9.9 660.7M27.4 672.6L20.9 653.7M19.5 663.6L20.9 653.7L28.1 660.7M45.6 672.6L39.4 654.7M38.1 664.1L39.4 654.7L46.2 661.3M63.8 672.6L57.6 654.7M56.3 664.1L57.6 654.7L64.4 661.3M82.0 672.6L75.8 654.7M74.4 664.1L75.8 654.7L82.6 661.3M100.1 672.6L93.9 654.7M92.6 664.1L93.9 654.7L100.8 661.3M118.3 672.6L112.1 654.7M110.8 664.1L112.1 654.7L118.9 661.3M136.5 672.6L130.3 654.7M129.0 664.1L130.3 654.7L137.1 661.3M154.7 672.6L148.5 654.7M147.1 664.1L148.5 654.7L155.3 661.3M172.8 672.6L166.6 654.7M165.3 664.1L166.6 654.7L173.5 661.3M191.0 672.6L184.5 653.7M183.1 663.6L184.5 653.7L191.7 660.7M209.2 672.6L202.7 653.7M201.3 663.6L202.7 653.7L209.9 660.7M227.4 672.6L221.4 653.5M219.7 663.4L221.4 653.5L228.4 660.7M245.5 672.6L241.7 653.0M238.9 662.6L241.7 653.0L247.9 660.9M263.7 672.6L260.5 652.9M257.4 662.4L260.5 652.9L266.4 661.0M281.9 672.6L278.7 652.9M275.6 662.4L278.7 652.9L284.6 661.0M300.1 672.6L296.7 651.9M293.5 661.9L296.7 651.9L302.9 660.4M318.2 672.6L315.1 648.8M311.1 660.1L315.1 648.8L321.9 658.7M336.4 672.6L335.1 647.7M330.0 659.1L335.1 647.7L341.4 658.5M354.6 672.6L354.1 647.6M348.6 658.9L354.1 647.6L360.0 658.6M372.8 672.6L372.2 647.6M366.8 658.9L372.2 647.6L378.1 658.6M390.9 672.6L390.4 648.6M385.2 659.4L390.4 648.6L396.1 659.2M409.1 672.6L408.6 648.6M403.4 659.4L408.6 648.6L414.3 659.2M427.3 672.6L426.8 648.6M421.5 659.4L426.8 648.6L432.4 659.2M445.5 672.6L444.9 648.6M439.7 659.4L444.9 648.6L450.6 659.2M463.6 672.6L463.5 647.6M457.9 658.8L463.5 647.6L469.2 658.7M481.8 672.6L482.7 647.6M476.6 658.6L482.7 647.6L488.0 659.0M500.0 672.6L501.3 647.7M495.0 658.5L501.3 647.7L506.4 659.1M518.2 672.6L519.5 647.7M513.2 658.5L519.5 647.7L524.5 659.1M536.3 672.6L537.6 647.7M531.4 658.5L537.6 647.7L542.7 659.1M554.5 672.6L555.8 647.7M549.6 658.5L555.8 647.7L560.9 659.1M572.7 672.6L573.9 648.7M567.9 659.1L573.9 648.7L578.8 659.6M590.9 672.6L592.1 649.7M586.3 659.6L592.1 649.7L596.7 660.2M609.0 672.6L611.2 650.7M605.3 660.0L611.2 650.7L615.2 661.0M627.2 672.6L632.1 653.2M625.5 660.8L632.1 653.2L634.3 663.0M645.4 672.6L650.9 654.4M644.3 661.3L650.9 654.4L652.5 663.8M663.6 672.6L669.0 654.4M662.5 661.3L669.0 654.4L670.7 663.8M681.7 672.6L687.2 654.4M680.6 661.3L687.2 654.4L688.9 663.8M699.9 672.6L705.1 655.4M698.9 661.9L705.1 655.4L706.7 664.3M718.1 672.6L723.6 654.4M717.0 661.3L723.6 654.4L725.2 663.8M736.2 672.6L741.5 655.4M735.2 661.9L741.5 655.4L743.0 664.3M754.4 672.6L759.6 655.4M753.4 661.9L759.6 655.4L761.2 664.3M772.6 672.6L777.8 655.4M771.6 661.9L777.8 655.4L779.4 664.3M790.8 672.6L796.0 655.4M789.7 661.9L796.0 655.4L797.6 664.3M9.2 690.8L3.7 673.7M2.3 682.6L3.7 673.7L10.1 680.0M27.4 690.8L21.9 673.7M20.5 682.6L21.9 673.7L28.2 680.0M45.6 690.8L39.7 672.7M38.2 682.1L39.7 672.7L46.4 679.4M63.8 690.8L57.9 672.7M56.4 682.1L57.9 672.7L64.6 679.4M82.0 690.8L76.1 672.7M74.6 682.1L76.1 672.7L82.8 679.4M100.1 690.8L94.3 672.7M92.8 682.1L94.3 672.7L101.0 679.4M118.3 690.8L112.4 672.7M110.9 682.1L112.4 672.7L119.1 679.4M136.5 690.8L130.6 672.7M129.1 682.1L130.6 672.7L137.3 679.4M154.7 690.8L148.8 672.7M147.3 682.1L148.8 672.7L155.5 679.4M172.8 690.8L167.0 672.7M165.5 682.1L167.0 672.7L173.7 679.4M191.0 690.8L185.1 672.7M183.6 682.1L185.1 672.7L191.8 679.4M209.2 690.8L203.3 672.7M201.8 682.1L203.3 672.7L210.0 679.4M227.4 690.8L222.2 672.5M220.4 681.8L222.2 672.5L228.7 679.5M245.5 690.8L242.6 671.0M239.4 680.5L242.6 671.0L248.4 679.2M263.7 690.8L261.6 670.9M258.0 680.2L261.6 670.9L267.1 679.3M281.9 690.8L279.8 670.9M276.2 680.2L279.8 670.9L285.2 679.3M300.1 690.8L298.0 670.9M294.4 680.2L298.0 670.9L303.4 679.3M318.2 690.8L316.6 670.9M312.8 680.1L316.6 670.9L321.8 679.4M336.4 690.8L336.0 670.8M331.6 679.8L336.0 670.8L340.7 679.6M354.6 690.8L354.6 670.8M350.0 679.7L354.6 670.8L359.1 679.7M372.8 690.8L372.8 671.8M368.4 680.3L372.8 671.8L377.1 680.3M390.9 690.8L390.9 671.8M386.6 680.3L390.9 671.8L395.2 680.3M409.1 690.8L409.1 671.8M404.8 680.3L409.1 671.8L413.4 680.3M427.3 690.8L427.3 671.8M423.0 680.3L427.3 671.8L431.6 680.3M445.5 690.8L445.5 671.8M441.1 680.3L445.5 671.8L449.8 680.3M463.6 690.8L464.0 666.8M458.4 677.4L464.0 666.8L469.3 677.6M481.8 690.8L483.1 667.8M477.3 677.8L483.1 667.8L487.7 678.4M500.0 690.8L501.6 667.9M495.7 677.7L501.6 667.9L506.1 678.4M518.2 690.8L519.9 665.9M513.5 676.6L519.9 665.9L524.8 677.4M536.3 690.8L538.1 665.9M531.6 676.6L538.1 665.9L543.0 677.4M554.5 690.8L556.2 665.9M549.8 676.6L556.2 665.9L561.1 677.4M572.7 690.8L574.4 665.9M568.0 676.6L574.4 665.9L579.3 677.4M590.9 690.8L592.6 665.9M586.2 676.6L592.6 665.9L597.5 677.4M609.0 690.8L611.9 667.0M605.2 676.9L611.9 667.0L616.0 678.2M627.2 690.8L633.5 667.6M625.4 676.5L633.5 667.6L635.9 679.4M645.4 690.8L652.8 668.0M644.3 676.5L652.8 668.0L654.7 679.8M663.6 690.8L670.7 668.9M662.5 677.1L670.7 668.9L672.5 680.3M681.7 690.8L688.5 669.9M680.7 677.7L688.5 669.9L690.2 680.7M699.9 690.8L706.4 670.8M699.0 678.3L706.4 670.8L708.0 681.2M718.1 690.8L724.3 671.8M717.2 678.8L724.3 671.8L725.8 681.7M736.2 690.8L742.4 671.8M735.4 678.8L742.4 671.8L744.0 681.7M754.4 690.8L760.6 671.8M753.5 678.8L760.6 671.8L762.2 681.7M772.6 690.8L778.8 671.8M771.7 678.8L778.8 671.8L780.3 681.7M790.8 690.8L797.0 671.8M789.9 678.8L797.0 671.8L798.5 681.7M9.2 709.0L3.9 692.5M2.5 701.1L3.9 692.5L10.0 698.6M27.4 709.0L22.1 692.5M20.7 701.1L22.1 692.5L28.2 698.6M45.6 709.0L39.7 690.9M38.2 700.3L39.7 690.9L46.4 697.6M63.8 709.0L57.9 690.9M56.4 700.3L57.9 690.9L64.6 697.6M82.0 709.0L76.1 690.9M74.6 700.3L76.1 690.9L82.8 697.6M100.1 709.0L94.3 690.9M92.8 700.3L94.3 690.9L101.0 697.6M118.3 709.0L112.4 690.9M110.9 700.3L112.4 690.9L119.1 697.6M136.5 709.0L130.6 690.9M129.1 700.3L130.6 690.9L137.3 697.6M154.7 709.0L148.8 690.9M147.3 700.3L148.8 690.9L155.5 697.6M172.8 709.0L167.0 690.9M165.5 700.3L167.0 690.9L173.7 697.6M191.0 709.0L185.1 690.9M183.6 700.3L185.1 690.9L191.8 697.6M209.2 709.0L203.3 690.9M201.8 700.3L203.3 690.9L210.0 697.6M227.4 709.0L222.2 690.7M220.4 700.0L222.2 690.7L228.7 697.7M245.5 709.0L242.6 689.2M239.4 698.7L242.6 689.2L248.4 697.3M263.7 709.0L261.6 689.1M258.0 698.4L261.6 689.1L267.1 697.5M281.9 709.0L279.8 689.1M276.2 698.4L279.8 689.1L285.2 697.5M300.1 709.0L297.9 688.1M294.1 697.9L297.9 688.1L303.6 696.9M318.2 709.0L316.6 689.0M312.8 698.3L316.6 689.0L321.8 697.5M336.4 709.0L336.0 690.0M331.9 698.5L336.0 690.0L340.5 698.4M354.6 709.0L354.6 691.7M350.6 699.4L354.6 691.7L358.5 699.4M372.8 709.0L372.8 692.1M368.9 699.6L372.8 692.1L376.6 699.6M390.9 709.0L390.9 692.1M387.1 699.6L390.9 692.1L394.8 699.6M409.1 709.0L409.1 692.1M405.3 699.6L409.1 692.1L412.9 699.6M427.3 709.0L427.3 692.1M423.4 699.6L427.3 692.1L431.1 699.6M445.5 709.0L445.5 691.7M441.5 699.4L445.5 691.7L449.4 699.4M463.6 709.0L463.9 689.0M459.2 697.8L463.9 689.0L468.3 697.9M481.8 709.0L483.0 688.0M477.7 697.1L483.0 688.0L487.2 697.6M500.0 709.0L501.4 688.0M496.0 697.0L501.4 688.0L505.5 697.7M518.2 709.0L519.6 688.0M514.2 697.0L519.6 688.0L523.7 697.7M536.3 709.0L537.8 688.0M532.4 697.0L537.8 688.0L541.9 697.7M554.5 709.0L556.0 687.0M550.4 696.5L556.0 687.0L560.3 697.2M572.7 709.0L574.2 687.0M568.5 696.5L574.2 687.0L578.5 697.2M590.9 709.0L592.4 687.0M586.7 696.5L592.4 687.0L596.7 697.2M609.0 709.0L611.7 686.1M605.3 695.7L611.7 686.1L615.7 696.9M627.2 709.0L633.5 685.8M625.4 694.7L633.5 685.8L635.9 697.6M645.4 709.0L652.8 686.1M644.3 694.6L652.8 686.1L654.7 698.0M663.6 709.0L671.3 685.2M662.4 694.0L671.3 685.2L673.2 697.5M681.7 709.0L689.5 685.2M680.6 694.0L689.5 685.2L691.4 697.5M699.9 709.0L707.6 685.2M698.8 694.0L707.6 685.2L709.6 697.5M718.1 709.0L725.5 686.1M717.0 694.6L725.5 686.1L727.4 698.0M736.2 709.0L743.7 686.1M735.2 694.6L743.7 686.1L745.5 698.0M754.4 709.0L761.8 686.1M753.4 694.6L761.8 686.1L763.7 698.0M772.6 709.0L780.0 686.1M771.5 694.6L780.0 686.1L781.9 698.0M790.8 709.0L797.9 687.1M789.8 695.2L797.9 687.1L799.7 698.5M9.2 727.1L3.9 710.7M2.5 719.2L3.9 710.7L10.0 716.8M27.4 727.1L22.1 710.7M20.7 719.2L22.1 710.7L28.2 716.8M45.6 727.1L40.0 710.0M38.6 718.9L40.0 710.0L46.4 716.4M63.8 727.1L58.2 710.0M56.8 718.9L58.2 710.0L64.6 716.4M82.0 727.1L76.4 710.0M75.0 718.9L76.4 710.0L82.8 716.4M100.1 727.1L94.6 710.0M93.2 718.9L94.6 710.0L100.9 716.4M118.3 727.1L112.7 710.0M111.3 718.9L112.7 710.0L119.1 716.4M136.5 727.1L130.6 709.1M129.1 718.5L130.6 709.1L137.3 715.8M154.7 727.1L148.8 709.1M147.3 718.5L148.8 709.1L155.5 715.8M172.8 727.1L167.0 709.1M165.5 718.5L167.0 709.1L173.7 715.8M191.0 727.1L185.1 709.1M183.6 718.5L185.1 709.1L191.8 715.8M209.2 727.1L203.3 709.1M201.8 718.5L203.3 709.1L210.0 715.8M227.4 727.1L222.2 708.9M220.4 718.2L222.2 708.9L228.7 715.8M245.5 727.1L242.6 707.4M239.4 716.8L242.6 707.4L248.4 715.5M263.7 727.1L261.6 707.3M258.0 716.6L261.6 707.3L267.1 715.6M281.9 727.1L279.8 707.3M276.2 716.6L279.8 707.3L285.2 715.6M300.1 727.1L297.9 706.3M294.1 716.1L297.9 706.3L303.6 715.1M318.2 727.1L316.6 707.2M312.8 716.5L316.6 707.2L321.8 715.7M336.4 727.1L336.0 708.2M331.9 716.7L336.0 708.2L340.5 716.5M354.6 727.1L354.6 709.8M350.6 717.5L354.6 709.8L358.5 717.5M372.8 727.1L372.8 710.3M368.9 717.8L372.8 710.3L376.6 717.8M390.9 727.1L390.9 710.3M387.1 717.8L390.9 710.3L394.8 717.8M409.1 727.1L409.1 710.3M405.3 717.8L409.1 710.3L412.9 717.8M427.3 727.1L427.3 710.3M423.4 717.8L427.3 710.3L431.1 717.8M445.5 727.1L445.5 709.1M441.4 717.2L445.5 709.1L449.5 717.2M463.6 727.1L463.9 707.2M459.2 716.0L463.9 707.2L468.3 716.1M481.8 727.1L482.9 707.2M477.9 715.8L482.9 707.2L487.0 716.3M500.0 727.1L501.4 707.2M496.2 715.8L501.4 707.2L505.3 716.4M518.2 727.1L519.5 707.2M514.4 715.8L519.5 707.2L523.5 716.4M536.3 727.1L537.8 706.2M532.4 715.2L537.8 706.2L541.9 715.9M554.5 727.1L556.0 706.2M550.6 715.2L556.0 706.2L560.1 715.9M572.7 727.1L574.2 705.2M568.5 714.6L574.2 705.2L578.5 715.3M590.9 727.1L592.4 705.2M586.7 714.6L592.4 705.2L596.7 715.3M609.0 727.1L611.6 705.3M605.5 714.4L611.6 705.3L615.4 715.6M627.2 727.1L633.2 705.0M625.5 713.5L633.2 705.0L635.6 716.2M645.4 727.1L652.8 704.3M644.3 712.8L652.8 704.3L654.7 716.2M663.6 727.1L671.3 703.4M662.4 712.2L671.3 703.4L673.2 715.7M681.7 727.1L689.5 703.4M680.6 712.2L689.5 703.4L691.4 715.7M699.9 727.1L707.6 703.4M698.8 712.2L707.6 703.4L709.6 715.7M718.1 727.1L725.8 703.4M717.0 712.2L725.8 703.4L727.8 715.7M736.2 727.1L744.0 703.4M735.1 712.2L744.0 703.4L745.9 715.7M754.4 727.1L762.2 703.4M753.3 712.2L762.2 703.4L764.1 715.7M772.6 727.1L780.3 703.4M771.5 712.2L780.3 703.4L782.3 715.7M790.8 727.1L798.5 703.4M789.7 712.2L798.5 703.4L800.5 715.7M9.2 745.3L4.0 729.3M2.7 737.6L4.0 729.3L10.0 735.3M27.4 745.3L22.2 729.3M20.9 737.6L22.2 729.3L28.2 735.3M45.6 745.3L40.2 728.8M38.9 737.4L40.2 728.8L46.4 735.0M63.8 745.3L58.4 728.8M57.1 737.4L58.4 728.8L64.5 735.0M82.0 745.3L76.6 728.8M75.2 737.4L76.6 728.8L82.7 735.0M100.1 745.3L94.8 728.8M93.4 737.4L94.8 728.8L100.9 735.0M118.3 745.3L112.9 728.8M111.6 737.4L112.9 728.8L119.1 735.0M136.5 745.3L130.6 727.3M129.1 736.6L130.6 727.3L137.3 734.0M154.7 745.3L148.8 727.3M147.3 736.6L148.8 727.3L155.5 734.0M172.8 745.3L167.0 727.3M165.5 736.6L167.0 727.3L173.7 734.0M191.0 745.3L185.1 727.3M183.6 736.6L185.1 727.3L191.8 734.0M209.2 745.3L203.3 727.3M201.8 736.6L203.3 727.3L210.0 734.0M227.4 745.3L222.2 727.0M220.4 736.3L222.2 727.0L228.7 734.0M245.5 745.3L242.6 725.5M239.4 735.0L242.6 725.5L248.4 733.7M263.7 745.3L261.6 725.4M258.0 734.8L261.6 725.4L267.1 733.8M281.9 745.3L279.8 725.4M276.2 734.8L279.8 725.4L285.2 733.8M300.1 745.3L298.0 725.4M294.4 734.8L298.0 725.4L303.4 733.8M318.2 745.3L316.6 726.4M313.0 735.2L316.6 726.4L321.6 734.5M336.4 745.3L336.0 727.3M332.1 735.4L336.0 727.3L340.3 735.3M354.6 745.3L354.6 728.0M350.6 735.7L354.6 728.0L358.5 735.7M372.8 745.3L372.8 728.5M368.9 736.0L372.8 728.5L376.6 736.0M390.9 745.3L390.9 728.5M387.1 736.0L390.9 728.5L394.8 736.0M409.1 745.3L409.1 728.5M405.3 736.0L409.1 728.5L412.9 736.0M427.3 745.3L427.3 728.0M423.3 735.7L427.3 728.0L431.2 735.7M445.5 745.3L445.5 726.3M441.1 734.8L445.5 726.3L449.8 734.8M463.6 745.3L463.9 725.3M459.2 734.2L463.9 725.3L468.3 734.3M481.8 745.3L482.9 725.4M477.9 734.0L482.9 725.4L487.0 734.5M500.0 745.3L501.4 724.4M496.0 733.4L501.4 724.4L505.5 734.0M518.2 745.3L519.5 725.4M514.4 733.9L519.5 725.4L523.5 734.6M536.3 745.3L537.8 724.4M532.4 733.4L537.8 724.4L541.9 734.0M554.5 745.3L556.0 724.4M550.6 733.4L556.0 724.4L560.1 734.0M572.7 745.3L574.2 723.4M568.5 732.8L574.2 723.4L578.5 733.5M590.9 745.3L592.4 723.4M586.7 732.8L592.4 723.4L596.7 733.5M609.0 745.3L611.6 723.5M605.5 732.6L611.6 723.5L615.4 733.8M627.2 745.3L633.2 723.1M625.5 731.6L633.2 723.1L635.6 734.4M645.4 745.3L652.5 723.5M644.4 731.6L652.5 723.5L654.3 734.8M663.6 745.3L671.0 722.5M662.5 731.0L671.0 722.5L672.8 734.4M681.7 745.3L689.1 722.5M680.7 731.0L689.1 722.5L691.0 734.4M699.9 745.3L707.6 721.5M698.8 730.4L707.6 721.5L709.6 733.9M718.1 745.3L725.5 722.5M717.0 731.0L725.5 722.5L727.4 734.4M736.2 745.3L743.7 722.5M735.2 731.0L743.7 722.5L745.5 734.4M754.4 745.3L761.8 722.5M753.4 731.0L761.8 722.5L763.7 734.4M772.6 745.3L780.0 722.5M771.5 731.0L780.0 722.5L781.9 734.4M790.8 745.3L798.2 722.5M789.7 731.0L798.2 722.5L800.1 734.4M9.2 763.5L4.0 747.5M2.7 755.8L4.0 747.5L10.0 753.4M27.4 763.5L22.2 747.5M20.9 755.8L22.2 747.5L28.2 753.4M45.6 763.5L40.2 747.0M38.9 755.6L40.2 747.0L46.4 753.1M63.8 763.5L58.4 747.0M57.1 755.6L58.4 747.0L64.5 753.1M82.0 763.5L76.6 747.0M75.2 755.6L76.6 747.0L82.7 753.1M100.1 763.5L94.8 747.0M93.4 755.6L94.8 747.0L100.9 753.1M118.3 763.5L112.9 747.0M111.6 755.6L112.9 747.0L119.1 753.1M136.5 763.5L130.9 746.4M129.5 755.3L130.9 746.4L137.3 752.7M154.7 763.5L148.8 745.4M147.3 754.8L148.8 745.4L155.5 752.1M172.8 763.5L167.0 745.4M165.5 754.8L167.0 745.4L173.7 752.1M191.0 763.5L185.1 745.4M183.6 754.8L185.1 745.4L191.8 752.1M209.2 763.5L203.3 745.4M201.8 754.8L203.3 745.4L210.0 752.1M227.4 763.5L222.2 745.2M220.4 754.5L222.2 745.2L228.7 752.2M245.5 763.5L242.8 744.7M239.7 753.7L242.8 744.7L248.3 752.4M263.7 763.5L261.7 744.6M258.3 753.5L261.7 744.6L266.9 752.6M281.9 763.5L279.9 744.6M276.5 753.5L279.9 744.6L285.1 752.6M300.1 763.5L298.1 744.6M294.7 753.5L298.1 744.6L303.2 752.6M318.2 763.5L316.6 744.6M313.0 753.4L316.6 744.6L321.6 752.6M336.4 763.5L336.0 745.5M332.1 753.6L336.0 745.5L340.3 753.4M354.6 763.5L354.6 746.2M350.6 753.9L354.6 746.2L358.5 753.9M372.8 763.5L372.8 746.2M368.8 753.9L372.8 746.2L376.7 753.9M390.9 763.5L390.9 746.6M387.1 754.2L390.9 746.6L394.8 754.2M409.1 763.5L409.1 746.6M405.3 754.2L409.1 746.6L412.9 754.2M427.3 763.5L427.3 746.6M423.4 754.2L427.3 746.6L431.1 754.2M445.5 763.5L445.5 745.5M441.4 753.5L445.5 745.5L449.5 753.5M463.6 763.5L463.9 743.5M459.2 752.3L463.9 743.5L468.3 752.5M481.8 763.5L482.9 743.5M477.9 752.2L482.9 743.5L487.0 752.7M500.0 763.5L501.4 743.5M496.2 752.1L501.4 743.5L505.3 752.8M518.2 763.5L519.5 743.5M514.4 752.1L519.5 743.5L523.5 752.8M536.3 763.5L537.7 743.5M532.6 752.1L537.7 743.5L541.6 752.8M554.5 763.5L555.9 743.5M550.7 752.1L555.9 743.5L559.8 752.8M572.7 763.5L574.1 743.5M568.9 752.1L574.1 743.5L578.0 752.8M590.9 763.5L592.3 742.6M586.9 751.6L592.3 742.6L596.4 752.2M609.0 763.5L611.6 741.7M605.5 750.8L611.6 741.7L615.4 752.0M627.2 763.5L633.2 741.3M625.5 749.8L633.2 741.3L635.6 752.6M645.4 763.5L652.5 741.6M644.4 749.8L652.5 741.6L654.3 753.0M663.6 763.5L670.7 741.6M662.5 749.8L670.7 741.6L672.5 753.0M681.7 763.5L688.8 741.6M680.7 749.8L688.8 741.6L690.6 753.0M699.9 763.5L707.0 741.6M698.9 749.8L707.0 741.6L708.8 753.0M718.1 763.5L725.2 741.6M717.1 749.8L725.2 741.6L727.0 753.0M736.2 763.5L743.4 741.6M735.2 749.8L743.4 741.6L745.2 753.0M754.4 763.5L761.5 741.6M753.4 749.8L761.5 741.6L763.3 753.0M772.6 763.5L779.7 741.6M771.6 749.8L779.7 741.6L781.5 753.0M790.8 763.5L797.9 741.6M789.8 749.8L797.9 741.6L799.7 753.0" stroke="#fff" stroke-width="1" fill="none" shape-rendering="crispEdges"/><path d="M9.5 27V772M81.5 27V772M154.5 27V772M227.5 27V772M300.5 27V772M372.5 27V772M445.5 27V772M518.5 27V772M590.5 27V772M663.5 27V772M736.5 27V772M0 36.5H800M0 109.5H800M0 181.5H800M0 254.5H800M0 327.5H800M0 400.5H800M0 472.5H800M0 545.5H800M0 618.5H800M0 690.5H800M0 763.5H800" stroke="#808080" stroke-width="1" fill="none" shape-rendering="crispEdges"/><path d="M234.4 27.0L235.8 32.5L233.0 40.8L234.4 49.0L231.6 57.2L226.1 65.5L222.0 71.0L226.1 75.1L226.1 90.2L215.1 97.1L212.4 99.9L216.5 108.1L216.5 117.8L213.8 124.6L219.2 131.5L212.5 142.0L211.2 144.5L212.5 167.0L216.2 177.0L215.0 187.0L196.0 188.0L196.0 195.0L195.0 205.0L190.0 212.5L187.5 230.0L191.0 242.5L196.0 252.5L199.0 262.5L197.5 269.0L186.0 275.0L194.0 277.5L190.0 285.0L194.0 292.5L202.5 300.0L217.5 308.8L235.0 315.0L250.0 322.5L267.5 335.0L280.0 347.5L290.0 357.5L286.0 365.0L280.5 371.4L275.2 377.5L272.6 384.5L271.8 390.6L273.5 398.5L277.0 405.5L282.2 412.5L291.0 419.5L298.0 423.0L305.0 426.5L310.2 424.8L317.2 423.4L320.0 424.8L321.6 430.0L323.4 442.2L324.2 454.5L324.2 465.0L319.0 470.2L312.0 479.0L305.0 487.8L298.0 498.2L290.6 509.0L281.5 517.0L274.7 520.5L267.8 527.3L263.3 534.1L262.2 541.0L261.0 549.0L257.6 554.6L249.6 560.3L240.5 564.8L231.4 568.2L224.6 571.7L213.2 575.0L201.9 578.5L190.5 582.0L186.0 585.3L172.3 587.6L161.0 591.0L151.8 593.3L145.0 596.2L126.9 599.0L108.8 602.6L98.8 606.2L81.6 607.5L32.6 614.4L18.1 615.3L7.2 616.2L0.0 618.0M212.5 142.0L216.2 157.0L217.5 169.5L223.8 174.5L221.2 185.8L217.5 187.5L210.0 189.5L201.0 190.0L201.0 202.5L196.0 212.5L197.5 222.5L195.0 230.0L196.0 245.0L202.5 252.5L217.5 265.0L225.0 272.5L235.0 282.5L237.5 289.0L245.0 287.5L257.5 285.0L270.0 286.0L286.0 286.0L300.0 292.5L310.0 300.0L325.0 305.0L335.0 310.0L342.5 310.0L345.0 316.0L350.0 319.0L353.0 318.7L359.5 320.4L372.5 317.0L382.0 312.0L395.0 310.6L416.0 312.0L424.5 318.0L434.0 318.7L447.0 323.6L450.5 322.0L463.5 317.0L483.0 310.6L492.7 305.7L494.4 299.2L497.6 296.0L499.0 299.0L504.0 302.5L509.0 299.0L522.0 291.0L535.0 283.0L538.0 276.5L544.7 265.0L553.0 252.0L554.5 244.0L557.7 236.0L562.0 234.0M562.0 234.0L561.3 235.7L558.6 232.3L554.5 231.7L551.8 224.8L551.8 208.5L551.8 193.5L555.9 185.3L562.7 182.6L568.2 178.5L569.5 173.1L577.7 167.6L583.1 162.2L572.5 153.7L559.5 149.0L545.0 134.0L540.0 124.5L536.8 113.6L530.0 110.9L525.8 106.8L517.5 102.6L512.0 100.0L507.9 101.3L501.0 95.8L490.0 87.5L481.8 77.9L470.8 71.0L462.5 68.3L454.3 65.5L452.0 64.5L446.0 59.5L443.0 55.5L442.0 57.0L437.5 60.5L429.5 54.8L424.0 47.6L420.0 39.4L410.3 31.0L406.0 27.0M367.8 42.0L376.0 40.8L387.0 38.0L392.5 31.0L398.0 29.8L400.8 27.0M562.0 234.0L582.2 222.0L598.5 209.0L614.7 192.7L624.5 176.5L631.0 157.0L635.6 147.0L643.1 132.0L652.5 122.6L661.9 115.1L671.2 105.8L680.6 98.2L691.9 91.7L705.0 83.2L718.1 73.9L735.0 61.7L746.2 47.6L765.0 28.0M736.9 38.2L737.8 43.9L735.0 41.0L727.5 41.0L724.7 43.9L723.8 55.1L721.9 64.5L718.1 69.2L712.5 73.0L706.9 73.9L705.0 72.0L704.0 75.8L702.2 81.4L690.0 88.9L682.5 92.6L676.9 94.5L673.1 98.2L667.5 99.2L660.0 97.3L658.1 95.4L657.2 98.2L660.0 100.0L655.0 104.0L652.0 110.0L648.8 115.1M701.2 27.0L700.3 35.4L703.1 41.0L702.2 43.9L691.9 45.8L690.0 53.2L680.6 55.1L673.1 57.0L667.5 60.8L663.8 64.5L662.0 70.0L660.0 75.0L662.8 79.5L658.1 85.1L648.8 88.9L646.9 94.5L645.0 99.2L648.8 102.0L646.9 107.6L645.0 113.2L648.8 115.1L654.4 113.2L658.1 111.4L656.2 118.9L652.5 122.6M736.6 27.0L737.0 35.0L736.9 38.2" stroke="#000" stroke-width="1" fill="none" shape-rendering="crispEdges"/><path d="M0 27.5H800M0.5 27V772M1.5 27V31.5M1.5 772V767.5M9.5 27V45.0M9.5 772V754.0M16.5 27V31.5M16.5 772V767.5M23.5 27V31.5M23.5 772V767.5M30.5 27V31.5M30.5 772V767.5M38.5 27V31.5M38.5 772V767.5M45.5 27V36.0M45.5 772V763.0M52.5 27V31.5M52.5 772V767.5M59.5 27V31.5M59.5 772V767.5M67.5 27V31.5M67.5 772V767.5M74.5 27V31.5M74.5 772V767.5M81.5 27V45.0M81.5 772V754.0M88.5 27V31.5M88.5 772V767.5M96.5 27V31.5M96.5 772V767.5M103.5 27V31.5M103.5 772V767.5M110.5 27V31.5M110.5 772V767.5M118.5 27V36.0M118.5 772V763.0M125.5 27V31.5M125.5 772V767.5M132.5 27V31.5M132.5 772V767.5M139.5 27V31.5M139.5 772V767.5M147.5 27V31.5M147.5 772V767.5M154.5 27V45.0M154.5 772V754.0M161.5 27V31.5M161.5 772V767.5M168.5 27V31.5M168.5 772V767.5M176.5 27V31.5M176.5 772V767.5M183.5 27V31.5M183.5 772V767.5M190.5 27V36.0M190.5 772V763.0M198.5 27V31.5M198.5 772V767.5M205.5 27V31.5M205.5 772V767.5M212.5 27V31.5M212.5 772V767.5M219.5 27V31.5M219.5 772V767.5M227.5 27V45.0M227.5 772V754.0M234.5 27V31.5M234.5 772V767.5M241.5 27V31.5M241.5 772V767.5M248.5 27V31.5M248.5 772V767.5M256.5 27V31.5M256.5 772V767.5M263.5 27V36.0M263.5 772V763.0M270.5 27V31.5M270.5 772V767.5M277.5 27V31.5M277.5 772V767.5M285.5 27V31.5M285.5 772V767.5M292.5 27V31.5M292.5 772V767.5M299.5 27V45.0M299.5 772V754.0M307.5 27V31.5M307.5 772V767.5M314.5 27V31.5M314.5 772V767.5M321.5 27V31.5M321.5 772V767.5M328.5 27V31.5M328.5 772V767.5M336.5 27V36.0M336.5 772V763.0M343.5 27V31.5M343.5 772V767.5M350.5 27V31.5M350.5 772V767.5M357.5 27V31.5M357.5 772V767.5M365.5 27V31.5M365.5 772V767.5M372.5 27V45.0M372.5 772V754.0M379.5 27V31.5M379.5 772V767.5M387.5 27V31.5M387.5 772V767.5M394.5 27V31.5M394.5 772V767.5M401.5 27V31.5M401.5 772V767.5M408.5 27V36.0M408.5 772V763.0M416.5 27V31.5M416.5 772V767.5M423.5 27V31.5M423.5 772V767.5M430.5 27V31.5M430.5 772V767.5M437.5 27V31.5M437.5 772V767.5M445.5 27V45.0M445.5 772V754.0M452.5 27V31.5M452.5 772V767.5M459.5 27V31.5M459.5 772V767.5M467.5 27V31.5M467.5 772V767.5M474.5 27V31.5M474.5 772V767.5M481.5 27V36.0M481.5 772V763.0M488.5 27V31.5M488.5 772V767.5M496.5 27V31.5M496.5 772V767.5M503.5 27V31.5M503.5 772V767.5M510.5 27V31.5M510.5 772V767.5M517.5 27V45.0M517.5 772V754.0M525.5 27V31.5M525.5 772V767.5M532.5 27V31.5M532.5 772V767.5M539.5 27V31.5M539.5 772V767.5M546.5 27V31.5M546.5 772V767.5M554.5 27V36.0M554.5 772V763.0M561.5 27V31.5M561.5 772V767.5M568.5 27V31.5M568.5 772V767.5M576.5 27V31.5M576.5 772V767.5M583.5 27V31.5M583.5 772V767.5M590.5 27V45.0M590.5 772V754.0M597.5 27V31.5M597.5 772V767.5M605.5 27V31.5M605.5 772V767.5M612.5 27V31.5M612.5 772V767.5M619.5 27V31.5M619.5 772V767.5M626.5 27V36.0M626.5 772V763.0M634.5 27V31.5M634.5 772V767.5M641.5 27V31.5M641.5 772V767.5M648.5 27V31.5M648.5 772V767.5M656.5 27V31.5M656.5 772V767.5M663.5 27V45.0M663.5 772V754.0M670.5 27V31.5M670.5 772V767.5M677.5 27V31.5M677.5 772V767.5M685.5 27V31.5M685.5 772V767.5M692.5 27V31.5M692.5 772V767.5M699.5 27V36.0M699.5 772V763.0M706.5 27V31.5M706.5 772V767.5M714.5 27V31.5M714.5 772V767.5M721.5 27V31.5M721.5 772V767.5M728.5 27V31.5M728.5 772V767.5M736.5 27V45.0M736.5 772V754.0M743.5 27V31.5M743.5 772V767.5M750.5 27V31.5M750.5 772V767.5M757.5 27V31.5M757.5 772V767.5M765.5 27V31.5M765.5 772V767.5M772.5 27V36.0M772.5 772V763.0M779.5 27V31.5M779.5 772V767.5M786.5 27V31.5M786.5 772V767.5M794.5 27V31.5M794.5 772V767.5M0 28.5H4.5M800 28.5H795.5M0 36.5H18.0M800 36.5H782.0M0 43.5H4.5M800 43.5H795.5M0 50.5H4.5M800 50.5H795.5M0 57.5H4.5M800 57.5H795.5M0 65.5H4.5M800 65.5H795.5M0 72.5H9.0M800 72.5H791.0M0 79.5H4.5M800 79.5H795.5M0 86.5H4.5M800 86.5H795.5M0 94.5H4.5M800 94.5H795.5M0 101.5H4.5M800 101.5H795.5M0 108.5H18.0M800 108.5H782.0M0 115.5H4.5M800 115.5H795.5M0 123.5H4.5M800 123.5H795.5M0 130.5H4.5M800 130.5H795.5M0 137.5H4.5M800 137.5H795.5M0 145.5H9.0M800 145.5H791.0M0 152.5H4.5M800 152.5H795.5M0 159.5H4.5M800 159.5H795.5M0 166.5H4.5M800 166.5H795.5M0 174.5H4.5M800 174.5H795.5M0 181.5H18.0M800 181.5H782.0M0 188.5H4.5M800 188.5H795.5M0 195.5H4.5M800 195.5H795.5M0 203.5H4.5M800 203.5H795.5M0 210.5H4.5M800 210.5H795.5M0 217.5H9.0M800 217.5H791.0M0 225.5H4.5M800 225.5H795.5M0 232.5H4.5M800 232.5H795.5M0 239.5H4.5M800 239.5H795.5M0 246.5H4.5M800 246.5H795.5M0 254.5H18.0M800 254.5H782.0M0 261.5H4.5M800 261.5H795.5M0 268.5H4.5M800 268.5H795.5M0 275.5H4.5M800 275.5H795.5M0 283.5H4.5M800 283.5H795.5M0 290.5H9.0M800 290.5H791.0M0 297.5H4.5M800 297.5H795.5M0 304.5H4.5M800 304.5H795.5M0 312.5H4.5M800 312.5H795.5M0 319.5H4.5M800 319.5H795.5M0 326.5H18.0M800 326.5H782.0M0 334.5H4.5M800 334.5H795.5M0 341.5H4.5M800 341.5H795.5M0 348.5H4.5M800 348.5H795.5M0 355.5H4.5M800 355.5H795.5M0 363.5H9.0M800 363.5H791.0M0 370.5H4.5M800 370.5H795.5M0 377.5H4.5M800 377.5H795.5M0 384.5H4.5M800 384.5H795.5M0 392.5H4.5M800 392.5H795.5M0 399.5H18.0M800 399.5H782.0M0 406.5H4.5M800 406.5H795.5M0 414.5H4.5M800 414.5H795.5M0 421.5H4.5M800 421.5H795.5M0 428.5H4.5M800 428.5H795.5M0 435.5H9.0M800 435.5H791.0M0 443.5H4.5M800 443.5H795.5M0 450.5H4.5M800 450.5H795.5M0 457.5H4.5M800 457.5H795.5M0 464.5H4.5M800 464.5H795.5M0 472.5H18.0M800 472.5H782.0M0 479.5H4.5M800 479.5H795.5M0 486.5H4.5M800 486.5H795.5M0 494.5H4.5M800 494.5H795.5M0 501.5H4.5M800 501.5H795.5M0 508.5H9.0M800 508.5H791.0M0 515.5H4.5M800 515.5H795.5M0 523.5H4.5M800 523.5H795.5M0 530.5H4.5M800 530.5H795.5M0 537.5H4.5M800 537.5H795.5M0 544.5H18.0M800 544.5H782.0M0 552.5H4.5M800 552.5H795.5M0 559.5H4.5M800 559.5H795.5M0 566.5H4.5M800 566.5H795.5M0 573.5H4.5M800 573.5H795.5M0 581.5H9.0M800 581.5H791.0M0 588.5H4.5M800 588.5H795.5M0 595.5H4.5M800 595.5H795.5M0 603.5H4.5M800 603.5H795.5M0 610.5H4.5M800 610.5H795.5M0 617.5H18.0M800 617.5H782.0M0 624.5H4.5M800 624.5H795.5M0 632.5H4.5M800 632.5H795.5M0 639.5H4.5M800 639.5H795.5M0 646.5H4.5M800 646.5H795.5M0 653.5H9.0M800 653.5H791.0M0 661.5H4.5M800 661.5H795.5M0 668.5H4.5M800 668.5H795.5M0 675.5H4.5M800 675.5H795.5M0 683.5H4.5M800 683.5H795.5M0 690.5H18.0M800 690.5H782.0M0 697.5H4.5M800 697.5H795.5M0 704.5H4.5M800 704.5H795.5M0 712.5H4.5M800 712.5H795.5M0 719.5H4.5M800 719.5H795.5M0 726.5H9.0M800 726.5H791.0M0 733.5H4.5M800 733.5H795.5M0 741.5H4.5M800 741.5H795.5M0 748.5H4.5M800 748.5H795.5M0 755.5H4.5M800 755.5H795.5M0 763.5H18.0M800 763.5H782.0M0 770.5H4.5M800 770.5H795.5" stroke="#000" stroke-width="1" fill="none" shape-rendering="crispEdges"/><text x="5" y="49.6" textLength="385" lengthAdjust="spacing" font-family="DejaVu Sans, sans-serif" font-weight="bold" font-size="24.7" fill="#6a6a6a" fill-opacity="0.85">modelo GEFS-WAVE (NCEP)</text><text x="6" y="73.1" textLength="495.2" lengthAdjust="spacing" font-family="DejaVu Sans, sans-serif" font-weight="bold" font-size="24.7" fill="#6a6a6a" fill-opacity="0.85">forecast date: 2025-11-05 00:00:00</text><text x="41.2" y="96.4" textLength="448.2" lengthAdjust="spacing" font-family="DejaVu Sans, sans-serif" font-weight="bold" font-size="24.7" fill="#6a6a6a" fill-opacity="0.85">valid date: 2025-11-05 00:00:00</text><text transform="translate(13.5 743.5) rotate(90)" textLength="20.5" lengthAdjust="spacingAndGlyphs" font-family="Liberation Sans, sans-serif" font-size="12" fill="#8a7a7a">61W</text><text transform="translate(85.5 743.5) rotate(90)" textLength="20.5" lengthAdjust="spacingAndGlyphs" font-family="Liberation Sans, sans-serif" font-size="12" fill="#8a7a7a">60W</text><text transform="translate(158.5 743.5) rotate(90)" textLength="20.5" lengthAdjust="spacingAndGlyphs" font-family="Liberation Sans, sans-serif" font-size="12" fill="#8a7a7a">59W</text><text transform="translate(231.5 743.5) rotate(90)" textLength="20.5" lengthAdjust="spacingAndGlyphs" font-family="Liberation Sans, sans-serif" font-size="12" fill="#8a7a7a">58W</text><text transform="translate(304.5 743.5) rotate(90)" textLength="20.5" lengthAdjust="spacingAndGlyphs" font-family="Liberation Sans, sans-serif" font-size="12" fill="#8a7a7a">57W</text><text transform="translate(376.5 743.5) rotate(90)" textLength="20.5" lengthAdjust="spacingAndGlyphs" font-family="Liberation Sans, sans-serif" font-size="12" fill="#8a7a7a">56W</text><text transform="translate(449.5 743.5) rotate(90)" textLength="20.5" lengthAdjust="spacingAndGlyphs" font-family="Liberation Sans, sans-serif" font-size="12" fill="#8a7a7a">55W</text><text transform="translate(522.5 743.5) rotate(90)" textLength="20.5" lengthAdjust="spacingAndGlyphs" font-family="Liberation Sans, sans-serif" font-size="12" fill="#8a7a7a">54W</text><text transform="translate(594.5 743.5) rotate(90)" textLength="20.5" lengthAdjust="spacingAndGlyphs" font-family="Liberation Sans, sans-serif" font-size="12" fill="#8a7a7a">53W</text><text transform="translate(667.5 743.5) rotate(90)" textLength="20.5" lengthAdjust="spacingAndGlyphs" font-family="Liberation Sans, sans-serif" font-size="12" fill="#8a7a7a">52W</text><text transform="translate(740.5 743.5) rotate(90)" textLength="20.5" lengthAdjust="spacingAndGlyphs" font-family="Liberation Sans, sans-serif" font-size="12" fill="#8a7a7a">51W</text><text x="771" y="104.8" textLength="20.7" lengthAdjust="spacingAndGlyphs" font-family="Liberation Sans, sans-serif" font-size="12" fill="#8a7a7a">32S</text><text x="771" y="176.8" textLength="20.7" lengthAdjust="spacingAndGlyphs" font-family="Liberation Sans, sans-serif" font-size="12" fill="#8a7a7a">33S</text><text x="771" y="249.8" textLength="20.7" lengthAdjust="spacingAndGlyphs" font-family="Liberation Sans, sans-serif" font-size="12" fill="#8a7a7a">34S</text><text x="771" y="322.8" textLength="20.7" lengthAdjust="spacingAndGlyphs" font-family="Liberation Sans, sans-serif" font-size="12" fill="#8a7a7a">35S</text><text x="771" y="395.8" textLength="20.7" lengthAdjust="spacingAndGlyphs" font-family="Liberation Sans, sans-serif" font-size="12" fill="#8a7a7a">36S</text><text x="771" y="467.8" textLength="20.7" lengthAdjust="spacingAndGlyphs" font-family="Liberation Sans, sans-serif" font-size="12" fill="#8a7a7a">37S</text><text x="771" y="540.8" textLength="20.7" lengthAdjust="spacingAndGlyphs" font-family="Liberation Sans, sans-serif" font-size="12" fill="#8a7a7a">38S</text><text x="771" y="613.8" textLength="20.7" lengthAdjust="spacingAndGlyphs" font-family="Liberation Sans, sans-serif" font-size="12" fill="#8a7a7a">39S</text><text x="771" y="685.8" textLength="20.7" lengthAdjust="spacingAndGlyphs" font-family="Liberation Sans, sans-serif" font-size="12" fill="#8a7a7a">40S</text><text x="771" y="758.8" textLength="20.7" lengthAdjust="spacingAndGlyphs" font-family="Liberation Sans, sans-serif" font-size="12" fill="#8a7a7a">41S</text><defs><linearGradient id="cb" x1="0" y1="0" x2="0" y2="1"><stop offset="0.0000" stop-color="#be0078"/><stop offset="0.1667" stop-color="#ff0000"/><stop offset="0.3333" stop-color="#ff8200"/><stop offset="0.4667" stop-color="#ffff00"/><stop offset="0.6000" stop-color="#00ff00"/><stop offset="0.7333" stop-color="#00ffff"/><stop offset="1.0000" stop-color="#0000ff"/></linearGradient></defs><rect x="32.5" y="160.5" width="48" height="608" fill="#fff" stroke="#000" stroke-width="1"/><rect x="34" y="162" width="45" height="605.5" fill="url(#cb)"/><text x="87" y="164.9" textLength="16.8" lengthAdjust="spacingAndGlyphs" font-family="DejaVu Sans, sans-serif" font-weight="200" font-size="13.5" fill="#000" stroke="#000" stroke-width="0.35">30</text><text x="87" y="316.6" textLength="16.8" lengthAdjust="spacingAndGlyphs" font-family="DejaVu Sans, sans-serif" font-weight="200" font-size="13.5" fill="#000" stroke="#000" stroke-width="0.35">22</text><text x="87" y="468.4" textLength="16.8" lengthAdjust="spacingAndGlyphs" font-family="DejaVu Sans, sans-serif" font-weight="200" font-size="13.5" fill="#000" stroke="#000" stroke-width="0.35">15</text><text x="87" y="620.1" textLength="8.4" lengthAdjust="spacingAndGlyphs" font-family="DejaVu Sans, sans-serif" font-weight="200" font-size="13.5" fill="#000" stroke="#000" stroke-width="0.35">8</text><text x="87" y="771.8" textLength="8.4" lengthAdjust="spacingAndGlyphs" font-family="DejaVu Sans, sans-serif" font-weight="200" font-size="13.5" fill="#000" stroke="#000" stroke-width="0.35">0</text><text x="34.5" y="148" textLength="42" lengthAdjust="spacingAndGlyphs" font-family="DejaVu Sans, sans-serif" font-weight="200" font-size="15" fill="#000" stroke="#000" stroke-width="0.35">[m/s]</text></svg>
</body></html>
